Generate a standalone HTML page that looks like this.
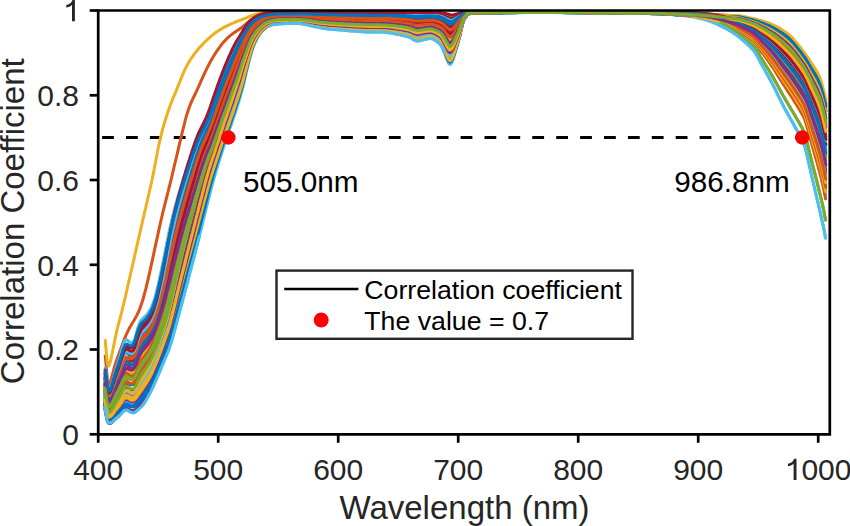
<!DOCTYPE html>
<html><head><meta charset="utf-8"><style>
html,body{margin:0;padding:0;background:#fff;}
svg{display:block;font-family:"Liberation Sans",sans-serif;}
</style></head><body>
<svg width="850" height="526" viewBox="0 0 850 526">
<rect width="850" height="526" fill="#fff"/>
<line x1="99.7" y1="137.5" x2="826.0" y2="137.5" stroke="#000" stroke-width="3" stroke-dasharray="11.8 12.1" stroke-dashoffset="-2.4"/>
<g fill="none" stroke-width="3" stroke-linejoin="round" stroke-linecap="round">
<path d="M105.0,384.7 105.9,390.2 106.8,396.5 107.7,401.1 108.6,403.3 109.5,403.6 110.4,402.8 111.3,401.3 112.2,399.5 113.1,397.5 114.1,395.3 115.0,393.2 115.9,391.1 116.8,389.2 117.7,387.5 118.6,385.7 119.5,383.8 120.4,381.8 121.4,379.7 122.3,377.6 123.2,375.7 124.1,374.0 125.0,372.8 125.9,372.1 126.8,372.0 127.8,372.4 128.7,373.0 129.6,373.6 130.5,374.0 131.4,374.3 132.3,374.3 133.3,373.9 134.2,373.0 135.1,371.8 136.0,370.1 136.9,367.9 137.8,365.7 138.8,363.7 139.7,361.9 140.6,360.3 142.7,356.9 145.0,354.0 147.2,351.1 149.1,348.1 150.9,344.9 152.5,341.6 153.9,338.2 155.2,334.8 156.4,331.3 157.6,327.8 158.7,324.4 159.8,320.9 160.8,317.4 161.9,313.9 162.9,310.4 163.9,306.9 164.8,303.3 165.7,299.8 166.5,296.2 167.3,292.7 168.1,289.1 168.9,285.5 169.7,282.0 170.5,278.4 171.3,274.8 172.0,271.3 172.8,267.7 173.6,264.2 174.4,260.6 175.2,257.0 176.0,253.5 176.8,249.9 177.6,246.4 178.5,242.8 179.3,239.3 180.2,235.7 181.0,232.2 181.9,228.7 182.8,225.1 183.7,221.6 184.6,218.1 185.6,214.6 186.5,211.1 187.5,207.6 188.4,204.1 189.4,200.6 190.3,197.1 191.3,193.6 192.2,190.1 193.2,186.6 194.2,183.1 195.2,179.6 196.2,176.1 197.2,172.7 198.2,169.2 199.2,165.7 200.3,162.3 201.4,158.8 202.5,155.4 203.7,152.0 205.0,148.6 206.3,145.3 207.7,142.0 209.1,138.7 210.4,135.3 211.7,132.0 212.9,128.6 214.1,125.1 215.2,121.7 216.4,118.3 217.5,114.9 218.6,111.5 219.8,108.0 221.0,104.6 222.2,101.3 223.4,97.9 224.6,94.5 225.8,91.1 227.0,87.7 228.2,84.3 229.4,80.9 230.7,77.6 232.0,74.2 233.2,70.9 234.5,67.5 235.7,64.2 237.0,60.8 238.3,57.5 239.6,54.3 241.0,51.0 242.5,47.9 244.0,44.6 245.4,41.4 246.9,38.2 248.4,35.1 250.2,32.1 252.2,29.2 254.4,26.6 256.9,24.2 259.6,22.1 262.5,20.4 265.6,19.0 268.8,18.0 272.3,17.3 275.8,16.8 279.3,16.6 282.9,16.5 286.4,16.5 290.0,16.5 293.2,16.4 296.3,16.4 299.5,16.5 302.7,16.7 305.9,16.9 309.0,17.1 312.2,17.4 315.4,17.7 318.5,17.9 321.7,18.1 324.9,18.3 328.0,18.5 331.2,18.6 334.4,18.7 337.6,18.8 340.7,18.9 343.9,19.0 347.1,19.1 350.2,19.2 353.4,19.3 356.6,19.4 359.8,19.5 362.9,19.5 366.1,19.6 369.3,19.6 372.4,19.6 375.6,19.6 378.8,19.6 381.9,19.7 385.1,19.7 388.3,19.8 391.5,20.0 394.6,20.2 397.8,20.4 401.0,20.7 404.1,21.0 407.3,21.3 410.5,21.7 413.6,22.4 416.8,22.9 420.0,22.8 423.2,22.5 426.3,22.2 429.5,22.0 430.6,22.0 431.7,22.1 432.7,22.2 433.8,22.4 434.9,22.6 436.0,22.9 437.1,23.2 438.1,23.5 439.2,23.9 440.3,24.3 441.4,24.9 442.5,25.7 443.5,26.8 444.6,28.0 445.7,29.2 446.8,30.4 447.9,31.5 448.9,32.4 450.0,32.9 451.1,32.8 452.2,32.1 453.2,31.2 454.3,29.7 455.4,28.1 456.5,26.6 457.6,25.2 458.6,23.6 459.7,21.8 460.8,19.8 461.9,18.0 463.0,16.3 464.0,15.2 465.1,14.5 466.2,14.0 467.3,12.8 468.4,13.0 469.4,13.0 470.5,12.7 471.6,12.7 472.7,12.7 473.8,12.6 474.8,12.6 475.9,12.6 477.0,12.6 480.4,12.6 483.9,12.6 487.3,12.6 490.8,12.5 494.2,12.5 497.6,12.5 501.1,12.5 504.5,12.5 508.0,12.5 511.4,12.5 514.8,12.4 518.3,12.4 521.7,12.4 525.2,12.4 528.6,12.4 532.1,12.4 535.5,12.4 538.9,12.4 542.4,12.4 545.8,12.4 549.3,12.4 552.7,12.4 556.1,12.4 559.6,12.4 563.0,12.4 566.5,12.4 569.9,12.4 573.3,12.4 576.8,12.4 580.2,12.4 583.7,12.4 587.1,12.4 590.5,12.5 594.0,12.5 597.4,12.5 600.9,12.5 604.3,12.5 607.7,12.5 611.2,12.5 614.6,12.5 618.1,12.5 621.5,12.5 624.9,12.6 628.4,12.6 631.8,12.6 635.3,12.6 638.7,12.6 642.2,12.7 645.6,12.7 649.0,12.7 652.5,12.8 655.9,12.8 659.4,12.9 662.8,13.0 666.2,13.0 669.7,13.1 673.1,13.2 676.6,13.3 680.0,13.5 681.6,13.6 683.3,13.7 684.9,13.8 686.6,14.0 688.2,14.2 689.8,14.3 691.5,14.5 693.1,14.7 694.7,14.9 696.4,15.1 698.0,15.4 699.6,15.7 701.3,16.0 702.9,16.3 704.6,16.7 706.2,17.1 707.8,17.6 709.5,18.0 711.1,18.6 712.7,19.1 714.4,19.7 716.0,20.4 717.6,21.1 719.3,21.8 720.9,22.5 722.5,23.3 724.2,24.1 725.8,24.9 727.4,25.9 729.1,26.8 730.7,27.9 732.3,29.0 734.0,30.2 735.6,31.5 737.2,32.8 738.9,34.1 740.5,35.3 742.2,36.5 743.8,37.7 745.4,39.0 747.1,40.4 748.7,41.7 750.3,43.1 752.0,44.6 753.6,46.3 755.2,48.2 756.9,50.5 758.5,53.3 760.1,56.3 761.8,59.0 763.4,61.5 765.0,64.1 766.7,66.7 768.3,69.3 770.0,72.0 771.6,74.8 773.2,77.6 774.9,80.5 776.5,83.4 778.1,86.5 779.8,89.5 781.4,92.5 783.0,95.4 784.7,98.3 786.3,101.0 787.9,103.8 789.6,106.5 791.2,109.2 792.9,111.9 794.5,114.7 796.1,117.5 797.8,120.3 799.4,123.1 801.0,126.1 802.7,129.0 804.3,132.6 805.9,138.0 807.6,144.4 809.2,151.1 810.8,157.7 812.5,164.2 814.1,170.6 815.8,177.0 817.4,183.6 819.0,190.2 820.7,196.9 822.3,203.9 823.9,211.3 825.6,220.1" stroke="#77AC30"/>
<path d="M105.2,356.0 105.8,361.2 106.3,367.2 106.8,373.1 107.3,378.4 108.0,382.2 108.8,384.0 109.7,383.3 110.8,380.6 111.9,376.6 113.2,371.7 114.5,366.7 116.0,362.0 117.6,357.6 119.2,353.0 121.0,348.2 122.8,343.2 124.8,338.1 127.0,333.0 129.3,328.3 131.8,324.0 134.4,319.7 137.2,314.6 140.0,308.3 142.8,300.0 145.8,288.9 149.0,275.3 152.3,260.4 155.5,245.4 158.5,231.6 161.1,220.0 163.2,211.0 165.0,203.8 166.6,197.6 168.0,192.0 169.4,186.3 171.0,180.0 172.7,172.9 174.4,165.5 176.2,158.1 177.9,150.8 179.5,143.9 181.0,137.7 182.3,132.2 183.6,127.2 184.7,122.5 185.8,118.2 187.0,114.1 188.3,110.0 189.7,106.1 191.2,102.4 192.8,98.9 194.4,95.5 196.1,92.1 197.7,88.5 199.4,84.8 201.1,80.9 202.8,77.1 204.5,73.3 206.3,69.6 208.0,66.2 209.7,63.0 211.4,59.9 213.1,57.0 214.8,54.2 216.5,51.6 218.2,49.1 219.9,46.8 221.5,44.6 223.2,42.6 224.9,40.7 226.6,38.9 228.5,37.1 230.5,35.4 232.6,33.8 234.8,32.3 237.0,30.8 239.2,29.3 241.3,27.8 243.3,26.2 245.2,24.6 247.1,23.0 249.0,21.4 250.8,20.0 252.7,18.7 254.5,17.6 256.3,16.7 258.1,15.9 259.9,15.3 261.8,14.6 264.0,14.1 266.5,13.6 269.2,13.3 272.1,13.0 274.9,12.7 277.6,12.6 280.0,12.4 282.0,12.3 283.8,12.3 285.4,12.3 286.9,12.3 288.4,12.4 290.0,12.4" stroke="#D95319"/>
<path d="M104.6,406.9 105.6,411.8 106.6,417.3 107.5,420.9 108.5,422.7 109.5,423.1 110.5,422.9 111.4,422.4 112.4,421.6 113.4,420.7 114.4,419.8 115.4,418.9 116.3,418.1 117.3,417.3 118.3,416.6 119.3,415.7 120.2,414.7 121.2,413.7 122.2,412.6 123.2,411.5 124.2,410.7 125.1,410.1 126.1,409.9 127.1,410.0 128.1,410.5 129.1,411.1 130.0,411.8 131.0,412.3 132.0,412.6 133.0,412.8 134.0,412.7 134.9,412.3 135.9,411.6 136.9,410.7 137.9,409.8 138.9,408.9 139.9,408.0 140.8,407.2 141.8,406.2 142.8,405.1 145.0,401.8 147.0,398.5 148.9,395.1 150.7,391.6 152.4,388.1 154.0,384.6 155.6,381.0 157.1,377.5 158.7,373.9 160.2,370.3 161.7,366.7 163.2,363.2 164.7,359.5 166.2,356.0 167.7,352.4 169.1,348.7 170.3,345.1 171.5,341.3 172.6,337.6 173.6,333.9 174.7,330.1 175.7,326.4 176.7,322.6 177.7,318.9 178.7,315.1 179.7,311.3 180.7,307.6 181.7,303.8 182.7,300.1 183.7,296.3 184.7,292.6 185.7,288.8 186.7,285.0 187.7,281.3 188.6,277.5 189.6,273.7 190.6,270.0 191.6,266.2 192.6,262.5 193.6,258.7 194.6,254.9 195.5,251.2 196.5,247.4 197.5,243.6 198.4,239.9 199.4,236.1 200.3,232.3 201.3,228.6 202.2,224.8 203.1,221.0 204.0,217.2 205.0,213.4 205.9,209.7 206.8,205.9 207.8,202.1 208.7,198.3 209.7,194.6 210.6,190.8 211.6,187.0 212.6,183.3 213.6,179.5 214.7,175.8 215.8,172.1 216.9,168.3 218.0,164.6 219.2,160.9 220.4,157.2 221.5,153.5 222.7,149.8 224.0,146.1 225.2,142.4 226.4,138.7 227.6,135.0 228.8,131.3 230.2,127.7 231.5,124.0 232.7,120.3 233.9,116.6 235.2,112.9 236.4,109.3 237.5,105.5 238.7,101.8 239.8,98.1 240.9,94.4 242.0,90.6 243.0,86.9 243.9,83.1 244.8,79.3 245.6,75.5 246.5,71.7 247.5,68.0 248.4,64.2 249.3,60.4 250.3,56.6 251.3,52.9 252.5,49.2 253.8,45.5 255.4,42.0 257.1,38.5 259.1,35.2 261.4,32.0 264.1,29.2 267.2,26.8 270.7,25.3 274.5,24.4 278.3,23.9 282.2,23.7 286.1,23.6 290.0,23.5 293.2,23.4 296.3,23.4 299.5,23.6 302.7,24.0 305.9,24.6 309.0,25.3 312.2,26.0 315.4,26.7 318.5,27.4 321.7,28.0 324.9,28.5 328.0,28.9 331.2,29.2 334.4,29.5 337.6,29.8 340.7,30.1 343.9,30.3 347.1,30.6 350.2,30.9 353.4,31.1 356.6,31.4 359.8,31.6 362.9,31.8 366.1,32.0 369.3,32.1 372.4,32.1 375.6,32.1 378.8,32.1 381.9,32.1 385.1,32.3 388.3,32.7 391.5,33.1 394.6,33.7 397.8,34.3 401.0,35.0 404.1,35.7 407.3,36.5 410.5,37.6 413.6,39.8 416.8,41.0 420.0,40.7 423.2,39.9 426.3,39.0 429.5,38.5 430.6,38.6 431.7,38.7 432.7,39.0 433.8,39.6 434.9,40.2 436.0,41.0 437.1,41.7 438.1,42.4 439.2,43.3 440.3,44.5 441.4,46.0 442.5,47.9 443.5,50.4 444.6,53.2 445.7,56.2 446.8,59.1 447.9,61.8 448.9,63.7 450.0,64.4 451.1,63.7 452.2,61.6 453.2,59.2 454.3,55.8 455.4,52.0 456.5,48.4 457.6,45.0 458.6,41.3 459.7,37.0 460.8,32.0 461.9,27.3 463.0,22.7 464.0,19.9 465.1,18.1 466.2,16.7 467.3,13.5 468.4,14.0 469.4,14.0 470.5,13.1 471.6,13.1 472.7,13.1 473.8,13.1 474.8,13.0 475.9,13.0 477.0,13.0 480.4,13.0 483.9,12.9 487.3,12.9 490.8,12.8 494.2,12.8 497.6,12.8 501.1,12.8 504.5,12.7 508.0,12.7 511.4,12.7 514.8,12.7 518.3,12.7 521.7,12.7 525.2,12.6 528.6,12.6 532.1,12.6 535.5,12.6 538.9,12.6 542.4,12.6 545.8,12.6 549.3,12.6 552.7,12.6 556.1,12.6 559.6,12.7 563.0,12.7 566.5,12.7 569.9,12.7 573.3,12.7 576.8,12.8 580.2,12.8 583.7,12.8 587.1,12.9 590.5,12.9 594.0,12.9 597.4,13.0 600.9,13.0 604.3,13.0 607.7,13.0 611.2,13.1 614.6,13.1 618.1,13.1 621.5,13.2 624.9,13.2 628.4,13.2 631.8,13.3 635.3,13.3 638.7,13.4 642.2,13.5 645.6,13.5 649.0,13.6 652.5,13.7 655.9,13.9 659.4,14.0 662.8,14.1 666.2,14.3 669.7,14.5 673.1,14.7 676.6,15.0 680.0,15.3 681.6,15.5 683.3,15.7 684.9,15.8 686.5,16.1 688.2,16.3 689.8,16.5 691.4,16.8 693.1,17.0 694.7,17.3 696.3,17.6 698.0,18.0 699.6,18.3 701.3,18.7 702.9,19.1 704.5,19.6 706.2,20.1 707.8,20.6 709.4,21.2 711.1,21.8 712.7,22.4 714.3,23.1 716.0,23.8 717.6,24.5 719.2,25.3 720.9,26.0 722.5,26.8 724.1,27.6 725.8,28.3 727.4,29.2 729.0,30.1 730.7,31.1 732.3,32.2 733.9,33.2 735.6,34.4 737.2,35.6 738.9,36.8 740.5,38.1 742.1,39.5 743.8,40.9 745.4,42.3 747.0,43.8 748.7,45.3 750.3,46.9 751.9,48.6 753.6,50.4 755.2,52.6 756.8,55.2 758.5,58.3 760.1,61.7 761.7,64.7 763.4,67.5 765.0,70.4 766.6,73.3 768.3,76.3 769.9,79.3 771.6,82.3 773.2,85.4 774.8,88.6 776.5,91.9 778.1,95.3 779.7,98.6 781.4,101.9 783.0,105.1 784.6,108.2 786.3,111.2 787.9,114.2 789.5,117.1 791.2,120.0 792.8,122.8 794.4,125.7 796.1,128.7 797.7,131.6 799.3,134.5 801.0,137.7 802.6,140.7 804.2,144.5 805.9,150.3 807.5,157.3 809.2,164.6 810.8,171.9 812.4,179.0 814.1,186.0 815.7,193.0 817.3,200.0 819.0,207.1 820.6,214.2 822.2,221.4 823.9,228.9 825.5,238.0" stroke="#4DBEEE"/>
<path d="M105.2,340.5 105.7,345.5 106.2,351.3 106.7,357.1 107.3,362.1 107.9,365.3 108.8,366.0 109.9,363.5 111.2,358.3 112.6,351.5 114.1,343.8 115.6,336.4 117.0,330.0 118.2,325.2 119.2,321.4 120.2,317.8 121.3,313.5 122.7,307.8 124.6,300.0 127.1,289.1 130.2,275.6 133.6,260.6 137.0,245.6 140.2,231.6 142.8,220.0 144.9,211.0 146.6,203.8 148.0,197.6 149.3,192.0 150.6,186.3 152.0,180.0 153.5,172.9 154.9,165.5 156.3,158.1 157.7,150.8 159.1,143.9 160.5,137.7 161.9,132.2 163.2,127.2 164.6,122.5 165.9,118.2 167.2,114.1 168.6,110.0 170.0,106.0 171.4,102.3 172.8,98.8 174.2,95.4 175.7,92.0 177.1,88.5 178.5,84.9 180.0,81.3 181.4,77.7 182.8,74.2 184.3,70.9 185.7,67.9 187.1,65.2 188.5,62.8 189.8,60.5 191.2,58.4 192.7,56.3 194.2,54.2 195.8,52.1 197.4,50.0 199.1,48.0 200.9,46.1 202.7,44.2 204.5,42.3 206.4,40.5 208.4,38.6 210.4,36.8 212.4,35.1 214.5,33.5 216.5,32.0 218.5,30.6 220.5,29.4 222.5,28.2 224.4,27.2 226.5,26.1 228.5,25.1 230.6,24.1 232.6,23.2 234.7,22.4 236.8,21.5 239.0,20.7 241.3,19.8 243.7,18.8 246.3,17.8 248.9,16.7 251.6,15.7 254.4,14.8 257.2,14.1 260.1,13.6 263.1,13.2 266.2,12.9 269.2,12.7 272.2,12.5 275.0,12.4 277.7,12.3 280.2,12.3 282.7,12.3 285.1,12.3 287.5,12.4 290.0,12.4" stroke="#EDB120"/>
<path d="M105.1,374.4 106.0,380.2 106.9,387.0 107.7,392.0 108.6,394.3 109.5,394.5 110.4,393.4 111.3,391.5 112.1,389.2 113.0,386.6 113.9,384.0 114.8,381.2 115.7,378.6 116.6,376.1 117.4,373.8 118.3,371.6 119.2,369.2 120.1,366.6 121.0,363.9 121.9,361.1 122.7,358.4 123.6,355.9 124.5,354.0 125.4,352.8 126.3,352.5 127.2,352.8 128.0,353.6 128.9,354.5 129.8,355.3 130.7,356.0 131.6,356.4 132.5,356.4 133.3,355.8 134.2,354.6 135.1,352.8 136.0,350.1 136.9,347.1 137.8,344.4 138.7,341.9 139.6,339.8 141.7,335.7 144.0,333.2 146.3,330.7 148.4,327.9 150.2,325.0 151.8,321.9 153.1,318.8 154.3,315.5 155.4,312.3 156.4,309.0 157.4,305.7 158.3,302.4 159.2,299.0 160.0,295.7 160.9,292.4 161.7,289.0 162.5,285.7 163.3,282.3 164.0,279.0 164.7,275.6 165.5,272.2 166.2,268.9 166.9,265.5 167.6,262.1 168.3,258.7 169.0,255.4 169.7,252.0 170.4,248.6 171.2,245.2 171.9,241.9 172.6,238.5 173.4,235.1 174.2,231.8 175.0,228.4 175.8,225.1 176.7,221.7 177.5,218.4 178.4,215.0 179.3,211.7 180.2,208.3 181.1,205.0 182.1,201.7 183.0,198.4 184.0,195.0 185.0,191.7 185.9,188.4 186.9,185.1 187.9,181.8 188.9,178.5 189.9,175.2 190.9,171.9 192.0,168.6 193.0,165.3 194.1,162.0 195.1,158.7 196.2,155.4 197.3,152.1 198.5,148.9 199.7,145.6 201.0,142.4 202.3,139.2 203.8,136.1 205.3,133.0 206.8,129.9 208.2,126.7 209.5,123.5 210.7,120.3 211.9,117.0 213.1,113.8 214.2,110.5 215.4,107.2 216.5,103.9 217.6,100.7 218.8,97.4 220.1,94.2 221.2,90.9 222.4,87.7 223.6,84.4 224.9,81.2 226.1,77.9 227.4,74.7 228.7,71.5 230.0,68.3 231.3,65.1 232.6,61.9 234.0,58.7 235.3,55.5 236.7,52.3 238.1,49.2 239.7,46.1 241.3,43.0 242.9,40.0 244.4,36.9 246.0,33.8 247.7,30.8 249.7,28.0 251.8,25.3 254.2,22.9 256.9,20.8 259.7,19.0 262.7,17.6 265.9,16.6 269.2,15.9 272.6,15.3 276.1,15.0 279.6,14.8 283.0,14.8 286.5,14.8 290.0,14.8 293.2,14.8 296.3,14.8 299.5,14.8 302.7,14.9 305.9,15.0 309.0,15.2 312.2,15.3 315.4,15.5 318.5,15.6 321.7,15.8 324.9,15.9 328.0,16.0 331.2,16.0 334.4,16.1 337.6,16.2 340.7,16.2 343.9,16.3 347.1,16.3 350.2,16.4 353.4,16.4 356.6,16.5 359.8,16.5 362.9,16.6 366.1,16.6 369.3,16.6 372.4,16.7 375.6,16.6 378.8,16.6 381.9,16.7 385.1,16.7 388.3,16.8 391.5,16.9 394.6,17.0 397.8,17.1 401.0,17.3 404.1,17.4 407.3,17.6 410.5,17.8 413.6,18.3 416.8,18.6 420.0,18.5 423.2,18.3 426.3,18.1 429.5,18.0 430.6,18.0 431.7,18.1 432.7,18.2 433.8,18.3 434.9,18.4 436.0,18.6 437.1,18.7 438.1,18.9 439.2,19.2 440.3,19.5 441.4,19.9 442.5,20.4 443.5,21.1 444.6,21.9 445.7,22.7 446.8,23.5 447.9,24.3 448.9,25.0 450.0,25.4 451.1,25.4 452.2,25.1 453.2,24.4 454.3,23.5 455.4,22.4 456.5,21.4 457.6,20.4 458.6,19.4 459.7,18.2 460.8,16.9 461.9,15.8 463.0,14.7 464.0,14.1 465.1,13.7 466.2,13.4 467.3,12.6 468.4,12.8 469.4,12.7 470.5,12.6 471.6,12.6 472.7,12.5 473.8,12.5 474.8,12.5 475.9,12.5 477.0,12.5 480.4,12.5 483.9,12.5 487.3,12.5 490.8,12.5 494.2,12.5 497.6,12.4 501.1,12.4 504.5,12.4 508.0,12.4 511.4,12.4 514.8,12.4 518.3,12.4 521.7,12.4 525.2,12.4 528.6,12.4 532.1,12.3 535.5,12.3 538.9,12.3 542.4,12.3 545.8,12.3 549.3,12.3 552.7,12.3 556.1,12.3 559.6,12.3 563.0,12.3 566.5,12.3 569.9,12.3 573.3,12.3 576.8,12.3 580.2,12.3 583.7,12.3 587.1,12.3 590.5,12.3 594.0,12.4 597.4,12.4 600.9,12.4 604.3,12.4 607.7,12.4 611.2,12.4 614.6,12.4 618.1,12.4 621.5,12.4 624.9,12.4 628.4,12.4 631.8,12.4 635.3,12.4 638.7,12.5 642.2,12.5 645.6,12.5 649.0,12.5 652.5,12.5 655.9,12.6 659.4,12.6 662.8,12.7 666.2,12.7 669.7,12.8 673.1,12.8 676.6,12.9 680.0,13.0 681.6,13.1 683.3,13.2 684.9,13.3 686.6,13.4 688.2,13.5 689.8,13.6 691.5,13.7 693.1,13.8 694.7,14.0 696.4,14.1 698.0,14.3 699.7,14.5 701.3,14.7 702.9,14.9 704.6,15.1 706.2,15.4 707.9,15.7 709.5,16.0 711.1,16.4 712.8,16.7 714.4,17.2 716.0,17.6 717.7,18.1 719.3,18.6 720.9,19.1 722.6,19.6 724.2,20.2 725.9,20.7 727.5,21.4 729.1,22.1 730.8,22.8 732.4,23.6 734.0,24.4 735.7,25.3 737.3,26.2 738.9,27.1 740.6,27.9 742.2,28.8 743.9,29.7 745.5,30.6 747.1,31.5 748.8,32.5 750.4,33.5 752.0,34.6 753.7,35.7 755.3,37.1 757.0,38.7 758.6,40.5 760.2,42.5 761.9,44.4 763.5,46.2 765.1,47.9 766.8,49.8 768.4,51.6 770.1,53.5 771.7,55.5 773.3,57.5 775.0,59.6 776.6,61.7 778.2,64.0 779.9,66.2 781.5,68.4 783.2,70.6 784.8,72.8 786.4,75.0 788.1,77.1 789.7,79.4 791.3,81.7 793.0,84.0 794.6,86.4 796.3,88.9 797.9,91.4 799.5,93.9 801.2,96.6 802.8,99.2 804.4,102.3 806.1,106.5 807.7,111.3 809.4,116.4 811.0,121.5 812.6,126.4 814.3,131.4 815.9,136.3 817.5,141.4 819.2,146.8 820.8,152.7 822.5,159.2 824.1,166.4 825.7,174.2" stroke="#0072BD"/>
<path d="M105.1,376.2 106.0,381.9 106.8,388.6 107.7,393.5 108.6,395.8 109.5,396.0 110.4,395.0 111.3,393.1 112.2,390.9 113.0,388.4 113.9,385.8 114.8,383.1 115.7,380.6 116.6,378.2 117.5,376.0 118.4,374.0 119.3,371.8 120.1,369.6 121.0,367.3 121.9,365.0 122.8,362.7 123.7,360.7 124.6,359.0 125.5,357.8 126.3,357.2 127.2,357.1 128.1,357.3 129.0,357.5 129.9,357.5 130.8,357.4 131.7,357.2 132.6,356.6 133.4,355.7 134.3,354.4 135.2,352.7 136.1,350.3 137.0,347.7 137.9,345.4 138.8,343.3 139.7,341.5 141.8,338.0 144.1,335.5 146.4,333.0 148.5,330.3 150.3,327.4 151.9,324.3 153.2,321.2 154.4,317.9 155.5,314.7 156.6,311.4 157.6,308.2 158.5,304.9 159.4,301.6 160.3,298.3 161.2,295.0 162.0,291.6 162.9,288.3 163.6,285.0 164.4,281.6 165.1,278.3 165.9,274.9 166.6,271.6 167.3,268.2 168.1,264.8 168.8,261.5 169.5,258.1 170.3,254.8 171.0,251.4 171.7,248.0 172.5,244.7 173.3,241.3 174.1,238.0 174.9,234.6 175.7,231.3 176.5,227.9 177.4,224.6 178.2,221.2 179.1,217.9 180.0,214.5 180.9,211.2 181.9,207.9 182.8,204.6 183.8,201.3 184.8,197.9 185.8,194.6 186.8,191.3 187.7,188.0 188.7,184.7 189.7,181.4 190.7,178.1 191.8,174.8 192.8,171.4 193.8,168.1 194.9,164.8 196.0,161.5 197.0,158.3 198.2,155.0 199.3,151.7 200.5,148.4 201.8,145.2 203.1,142.0 204.6,138.9 206.1,135.8 207.5,132.6 208.9,129.5 210.2,126.2 211.4,123.0 212.6,119.7 213.8,116.4 215.0,113.2 216.1,109.9 217.3,106.6 218.4,103.3 219.6,100.0 220.8,96.8 222.0,93.5 223.2,90.2 224.5,87.0 225.7,83.7 226.9,80.5 228.2,77.2 229.5,74.0 230.8,70.7 232.1,67.5 233.4,64.3 234.7,61.1 236.1,57.8 237.4,54.6 238.8,51.4 240.3,48.3 241.8,45.2 243.4,42.0 244.9,38.9 246.4,35.8 248.1,32.7 249.9,29.8 252.0,27.0 254.3,24.5 256.9,22.3 259.7,20.4 262.6,18.8 265.8,17.7 269.1,16.8 272.5,16.2 275.9,15.8 279.5,15.6 283.0,15.6 286.5,15.6 290.0,15.5 293.2,15.5 296.3,15.5 299.5,15.6 302.7,15.7 305.9,15.8 309.0,16.0 312.2,16.2 315.4,16.4 318.5,16.6 321.7,16.8 324.9,16.9 328.0,17.1 331.2,17.2 334.4,17.2 337.6,17.3 340.7,17.4 343.9,17.5 347.1,17.5 350.2,17.6 353.4,17.7 356.6,17.8 359.8,17.8 362.9,17.9 366.1,17.9 369.3,18.0 372.4,18.0 375.6,18.0 378.8,18.0 381.9,18.0 385.1,18.0 388.3,18.1 391.5,18.3 394.6,18.4 397.8,18.6 401.0,18.8 404.1,19.0 407.3,19.2 410.5,19.5 413.6,20.1 416.8,20.5 420.0,20.4 423.2,20.2 426.3,19.9 429.5,19.8 430.6,19.8 431.7,19.8 432.7,19.9 433.8,20.1 434.9,20.3 436.0,20.5 437.1,20.7 438.1,20.9 439.2,21.2 440.3,21.6 441.4,22.1 442.5,22.8 443.5,23.6 444.6,24.6 445.7,25.6 446.8,26.6 447.9,27.5 448.9,28.3 450.0,28.7 451.1,28.7 452.2,28.2 453.2,27.4 454.3,26.3 455.4,24.9 456.5,23.7 457.6,22.5 458.6,21.2 459.7,19.8 460.8,18.2 461.9,16.8 463.0,15.4 464.0,14.6 465.1,14.0 466.2,13.6 467.3,12.7 468.4,12.9 469.4,12.9 470.5,12.6 471.6,12.6 472.7,12.6 473.8,12.6 474.8,12.6 475.9,12.6 477.0,12.6 480.4,12.6 483.9,12.5 487.3,12.5 490.8,12.5 494.2,12.5 497.6,12.5 501.1,12.5 504.5,12.4 508.0,12.4 511.4,12.4 514.8,12.4 518.3,12.4 521.7,12.4 525.2,12.4 528.6,12.4 532.1,12.4 535.5,12.4 538.9,12.4 542.4,12.4 545.8,12.3 549.3,12.3 552.7,12.3 556.1,12.3 559.6,12.3 563.0,12.3 566.5,12.3 569.9,12.3 573.3,12.4 576.8,12.4 580.2,12.4 583.7,12.4 587.1,12.4 590.5,12.4 594.0,12.4 597.4,12.4 600.9,12.4 604.3,12.4 607.7,12.4 611.2,12.4 614.6,12.4 618.1,12.4 621.5,12.5 624.9,12.5 628.4,12.5 631.8,12.5 635.3,12.5 638.7,12.5 642.2,12.6 645.6,12.6 649.0,12.6 652.5,12.6 655.9,12.7 659.4,12.7 662.8,12.8 666.2,12.9 669.7,12.9 673.1,13.0 676.6,13.1 680.0,13.2 681.6,13.3 683.3,13.3 684.9,13.3 686.6,13.4 688.2,13.4 689.8,13.5 691.5,13.5 693.1,13.6 694.8,13.6 696.4,13.7 698.0,13.7 699.7,13.7 701.3,13.8 703.0,13.9 704.6,13.9 706.2,14.0 707.9,14.1 709.5,14.1 711.2,14.2 712.8,14.3 714.4,14.4 716.1,14.5 717.7,14.6 719.4,14.7 721.0,14.9 722.6,15.0 724.3,15.1 725.9,15.2 727.6,15.3 729.2,15.5 730.8,15.6 732.5,15.7 734.1,15.9 735.8,16.0 737.4,16.1 739.1,16.3 740.7,16.6 742.3,16.9 744.0,17.3 745.6,17.6 747.3,18.0 748.9,18.3 750.5,18.7 752.2,19.1 753.8,19.5 755.5,20.0 757.1,20.4 758.7,20.9 760.4,21.4 762.0,22.0 763.7,22.6 765.3,23.1 766.9,23.8 768.6,24.4 770.2,25.1 771.9,25.9 773.5,26.7 775.1,27.5 776.8,28.4 778.4,29.4 780.1,30.4 781.7,31.4 783.3,32.5 785.0,33.7 786.6,34.9 788.3,36.3 789.9,37.7 791.5,39.4 793.2,41.1 794.8,43.0 796.5,45.0 798.1,47.1 799.7,49.1 801.4,51.2 803.0,53.4 804.7,55.7 806.3,58.1 807.9,60.6 809.6,63.2 811.2,65.8 812.9,68.5 814.5,71.1 816.1,73.7 817.8,76.7 819.4,80.2 821.1,84.8 822.7,90.6 824.3,97.3 826.0,103.8" stroke="#D95319"/>
<path d="M104.9,385.1 105.9,390.6 106.8,396.9 107.7,401.4 108.6,403.5 109.5,403.8 110.4,403.0 111.3,401.5 112.2,399.6 113.1,397.6 114.1,395.4 115.0,393.2 115.9,391.1 116.8,389.2 117.7,387.4 118.6,385.7 119.5,383.8 120.4,381.9 121.4,379.9 122.3,378.0 123.2,376.1 124.1,374.5 125.0,373.2 125.9,372.4 126.8,372.1 127.7,372.1 128.6,372.4 129.6,372.6 130.5,372.7 131.4,372.6 132.3,372.3 133.2,371.8 134.1,370.8 135.0,369.5 135.9,367.8 136.9,365.7 137.8,363.6 138.7,361.6 139.6,359.9 140.5,358.2 142.6,355.0 144.9,352.3 147.1,349.6 149.1,346.7 150.9,343.7 152.4,340.5 153.8,337.3 155.2,334.0 156.4,330.7 157.6,327.4 158.7,324.0 159.8,320.7 160.8,317.3 161.9,314.0 163.0,310.6 164.0,307.3 164.9,303.9 165.8,300.4 166.6,297.0 167.5,293.6 168.3,290.1 169.1,286.7 169.9,283.3 170.7,279.8 171.5,276.4 172.4,272.9 173.2,269.5 174.0,266.0 174.8,262.6 175.6,259.1 176.5,255.7 177.3,252.2 178.2,248.8 179.1,245.4 179.9,241.9 180.8,238.5 181.7,235.0 182.7,231.6 183.6,228.2 184.5,224.7 185.5,221.3 186.5,217.9 187.4,214.5 188.4,211.0 189.4,207.6 190.4,204.2 191.4,200.8 192.3,197.3 193.3,193.9 194.3,190.5 195.3,187.1 196.3,183.6 197.3,180.2 198.4,176.8 199.4,173.4 200.5,170.0 201.5,166.6 202.6,163.2 203.8,159.8 205.0,156.4 206.2,153.1 207.6,149.8 208.9,146.5 210.3,143.2 211.6,139.9 212.9,136.6 214.1,133.2 215.3,129.8 216.5,126.4 217.7,123.0 218.8,119.6 220.0,116.2 221.2,112.9 222.4,109.5 223.7,106.1 224.9,102.7 226.1,99.4 227.3,96.0 228.6,92.6 229.8,89.2 231.1,85.9 232.3,82.5 233.6,79.1 234.8,75.8 236.1,72.4 237.3,69.0 238.5,65.6 239.7,62.2 240.9,58.8 242.2,55.5 243.6,52.2 244.9,48.9 246.2,45.5 247.6,42.2 249.1,38.9 250.7,35.8 252.6,32.7 254.6,29.9 256.9,27.3 259.5,24.9 262.3,22.9 265.2,21.2 268.5,19.9 271.9,19.0 275.5,18.4 279.1,18.2 282.7,18.1 286.4,18.0 290.0,18.0 293.2,17.9 296.3,17.9 299.5,18.1 302.7,18.3 305.9,18.5 309.0,18.9 312.2,19.2 315.4,19.6 318.5,19.9 321.7,20.3 324.9,20.5 328.0,20.7 331.2,20.9 334.4,21.0 337.6,21.2 340.7,21.3 343.9,21.4 347.1,21.6 350.2,21.7 353.4,21.8 356.6,22.0 359.8,22.1 362.9,22.2 366.1,22.3 369.3,22.3 372.4,22.3 375.6,22.3 378.8,22.3 381.9,22.3 385.1,22.4 388.3,22.6 391.5,22.8 394.6,23.1 397.8,23.4 401.0,23.8 404.1,24.1 407.3,24.6 410.5,25.1 413.6,26.2 416.8,26.8 420.0,26.7 423.2,26.2 426.3,25.8 429.5,25.6 430.6,25.6 431.7,25.7 432.7,25.8 433.8,26.1 434.9,26.4 436.0,26.8 437.1,27.2 438.1,27.6 439.2,28.1 440.3,28.7 441.4,29.5 442.5,30.5 443.5,31.9 444.6,33.4 445.7,35.0 446.8,36.6 447.9,38.1 448.9,39.2 450.0,39.7 451.1,39.5 452.2,38.5 453.2,37.2 454.3,35.4 455.4,33.3 456.5,31.3 457.6,29.4 458.6,27.4 459.7,25.1 460.8,22.5 461.9,20.0 463.0,17.7 464.0,16.2 465.1,15.3 466.2,14.6 467.3,12.9 468.4,13.2 469.4,13.2 470.5,12.8 471.6,12.8 472.7,12.7 473.8,12.7 474.8,12.7 475.9,12.7 477.0,12.7 480.4,12.7 483.9,12.7 487.3,12.6 490.8,12.6 494.2,12.6 497.6,12.6 501.1,12.6 504.5,12.5 508.0,12.5 511.4,12.5 514.8,12.5 518.3,12.5 521.7,12.5 525.2,12.5 528.6,12.5 532.1,12.4 535.5,12.4 538.9,12.4 542.4,12.4 545.8,12.4 549.3,12.4 552.7,12.4 556.1,12.4 559.6,12.4 563.0,12.4 566.5,12.5 569.9,12.5 573.3,12.5 576.8,12.5 580.2,12.5 583.7,12.5 587.1,12.5 590.5,12.6 594.0,12.6 597.4,12.6 600.9,12.6 604.3,12.6 607.7,12.6 611.2,12.6 614.6,12.6 618.1,12.7 621.5,12.7 624.9,12.7 628.4,12.7 631.8,12.7 635.3,12.8 638.7,12.8 642.2,12.8 645.6,12.9 649.0,12.9 652.5,13.0 655.9,13.1 659.4,13.1 662.8,13.2 666.2,13.3 669.7,13.4 673.1,13.5 676.6,13.7 680.0,13.9 681.6,13.9 683.3,14.0 684.9,14.0 686.6,14.1 688.2,14.1 689.8,14.2 691.5,14.2 693.1,14.3 694.7,14.4 696.4,14.4 698.0,14.5 699.7,14.5 701.3,14.6 702.9,14.7 704.6,14.7 706.2,14.8 707.9,14.9 709.5,14.9 711.1,15.0 712.8,15.1 714.4,15.2 716.1,15.2 717.7,15.3 719.3,15.4 721.0,15.4 722.6,15.5 724.3,15.5 725.9,15.6 727.6,15.6 729.2,15.6 730.8,15.7 732.5,15.7 734.1,15.7 735.8,15.7 737.4,15.7 739.1,15.8 740.7,16.0 742.3,16.3 744.0,16.6 745.6,16.9 747.3,17.2 748.9,17.6 750.5,17.9 752.2,18.3 753.8,18.6 755.5,19.0 757.1,19.4 758.7,19.9 760.4,20.3 762.0,20.8 763.7,21.3 765.3,21.8 766.9,22.4 768.6,23.0 770.2,23.6 771.9,24.3 773.5,25.0 775.1,25.8 776.8,26.6 778.4,27.5 780.1,28.4 781.7,29.4 783.3,30.5 785.0,31.6 786.6,32.8 788.3,34.1 789.9,35.5 791.6,37.1 793.2,38.8 794.8,40.7 796.5,42.7 798.1,44.7 799.8,46.7 801.4,48.8 803.0,50.9 804.7,53.1 806.3,55.5 808.0,57.9 809.6,60.3 811.2,62.8 812.9,65.4 814.5,67.8 816.2,70.4 817.8,73.2 819.4,76.6 821.1,81.1 822.7,86.9 824.4,93.6 826.0,100.0" stroke="#EDB120"/>
<path d="M104.7,399.4 105.7,404.4 106.6,410.1 107.6,414.0 108.5,415.9 109.5,416.2 110.5,415.7 111.4,414.8 112.4,413.5 113.3,412.2 114.3,410.7 115.2,409.3 116.2,407.9 117.1,406.6 118.1,405.3 119.0,403.9 120.0,402.4 120.9,400.7 121.9,399.0 122.8,397.3 123.8,395.8 124.7,394.6 125.7,393.9 126.6,393.8 127.6,394.1 128.5,394.8 129.5,395.6 130.4,396.3 131.4,396.8 132.3,397.0 133.3,396.9 134.2,396.3 135.2,395.4 136.1,394.0 137.0,392.4 138.0,390.6 138.9,388.9 139.9,387.4 140.8,385.9 141.8,384.4 144.0,381.0 146.1,377.8 148.1,374.5 150.0,371.2 151.7,367.7 153.3,364.2 154.8,360.6 156.2,357.0 157.6,353.4 158.9,349.8 160.3,346.2 161.6,342.6 162.8,339.0 164.1,335.3 165.3,331.7 166.5,328.0 167.6,324.3 168.6,320.6 169.6,316.9 170.5,313.2 171.4,309.4 172.3,305.7 173.1,301.9 174.0,298.2 174.9,294.5 175.8,290.7 176.6,287.0 177.5,283.3 178.4,279.5 179.3,275.8 180.1,272.1 181.0,268.3 181.9,264.6 182.8,260.9 183.7,257.2 184.6,253.4 185.5,249.7 186.4,246.0 187.3,242.3 188.2,238.6 189.2,234.9 190.1,231.2 191.0,227.5 192.0,223.8 192.9,220.1 193.8,216.5 194.8,212.8 195.7,209.1 196.6,205.4 197.6,201.7 198.5,198.0 199.4,194.4 200.4,190.7 201.3,187.0 202.3,183.4 203.3,179.7 204.3,176.1 205.3,172.4 206.3,168.8 207.5,165.2 208.6,161.6 209.8,158.0 211.1,154.5 212.3,151.0 213.6,147.4 214.8,143.9 215.9,140.3 217.1,136.7 218.3,133.1 219.4,129.5 220.6,126.0 221.7,122.4 222.9,118.8 224.1,115.3 225.4,111.7 226.6,108.2 227.8,104.6 229.0,101.1 230.2,97.5 231.4,94.0 232.6,90.4 233.8,86.9 235.0,83.4 236.2,79.8 237.3,76.3 238.5,72.7 239.6,69.2 240.7,65.7 241.9,62.2 243.1,58.8 244.4,55.4 245.6,52.0 246.9,48.5 248.1,45.1 249.5,41.8 251.0,38.5 252.8,35.3 254.8,32.4 257.0,29.6 259.4,27.0 262.1,24.8 265.0,22.8 268.2,21.3 271.7,20.3 275.3,19.6 279.0,19.3 282.6,19.2 286.3,19.2 290.0,19.1 293.2,19.1 296.3,19.0 299.5,19.2 302.7,19.4 305.9,19.8 309.0,20.2 312.2,20.6 315.4,21.0 318.5,21.5 321.7,21.8 324.9,22.1 328.0,22.4 331.2,22.6 334.4,22.8 337.6,22.9 340.7,23.1 343.9,23.2 347.1,23.4 350.2,23.6 353.4,23.7 356.6,23.9 359.8,24.0 362.9,24.2 366.1,24.3 369.3,24.3 372.4,24.3 375.6,24.3 378.8,24.3 381.9,24.3 385.1,24.4 388.3,24.7 391.5,24.9 394.6,25.3 397.8,25.6 401.0,26.0 404.1,26.5 407.3,27.0 410.5,27.6 413.6,28.9 416.8,29.7 420.0,29.5 423.2,29.0 426.3,28.5 429.5,28.2 430.6,28.2 431.7,28.3 432.7,28.5 433.8,28.8 434.9,29.2 436.0,29.7 437.1,30.1 438.1,30.6 439.2,31.2 440.3,31.9 441.4,32.8 442.5,34.1 443.5,35.6 444.6,37.4 445.7,39.3 446.8,41.2 447.9,42.9 448.9,44.2 450.0,44.7 451.1,44.4 452.2,43.2 453.2,41.7 454.3,39.5 455.4,37.1 456.5,34.8 457.6,32.6 458.6,30.2 459.7,27.5 460.8,24.4 461.9,21.5 463.0,18.7 464.0,17.0 465.1,15.9 466.2,15.0 467.3,13.1 468.4,13.4 469.4,13.4 470.5,12.8 471.6,12.8 472.7,12.8 473.8,12.8 474.8,12.8 475.9,12.8 477.0,12.8 480.4,12.7 483.9,12.7 487.3,12.7 490.8,12.7 494.2,12.6 497.6,12.6 501.1,12.6 504.5,12.6 508.0,12.6 511.4,12.5 514.8,12.5 518.3,12.5 521.7,12.5 525.2,12.5 528.6,12.5 532.1,12.5 535.5,12.5 538.9,12.5 542.4,12.5 545.8,12.5 549.3,12.5 552.7,12.5 556.1,12.5 559.6,12.5 563.0,12.5 566.5,12.5 569.9,12.5 573.3,12.5 576.8,12.5 580.2,12.6 583.7,12.6 587.1,12.6 590.5,12.6 594.0,12.6 597.4,12.7 600.9,12.7 604.3,12.7 607.7,12.7 611.2,12.7 614.6,12.7 618.1,12.7 621.5,12.8 624.9,12.8 628.4,12.8 631.8,12.8 635.3,12.9 638.7,12.9 642.2,13.0 645.6,13.0 649.0,13.1 652.5,13.1 655.9,13.2 659.4,13.3 662.8,13.4 666.2,13.5 669.7,13.6 673.1,13.8 676.6,14.0 680.0,14.2 681.6,14.3 683.3,14.4 684.9,14.5 686.5,14.6 688.2,14.8 689.8,14.9 691.5,15.1 693.1,15.3 694.7,15.4 696.4,15.6 698.0,15.8 699.6,16.1 701.3,16.3 702.9,16.6 704.6,16.9 706.2,17.2 707.8,17.5 709.5,17.9 711.1,18.3 712.7,18.7 714.4,19.2 716.0,19.6 717.7,20.1 719.3,20.6 720.9,21.1 722.6,21.6 724.2,22.2 725.8,22.7 727.5,23.3 729.1,23.9 730.7,24.6 732.4,25.3 734.0,26.1 735.7,26.9 737.3,27.7 738.9,28.5 740.6,29.4 742.2,30.4 743.8,31.3 745.5,32.3 747.1,33.4 748.8,34.4 750.4,35.5 752.0,36.6 753.7,37.9 755.3,39.4 756.9,41.1 758.6,43.2 760.2,45.4 761.9,47.4 763.5,49.3 765.1,51.3 766.8,53.3 768.4,55.3 770.0,57.4 771.7,59.5 773.3,61.7 774.9,63.9 776.6,66.2 778.2,68.6 779.9,71.0 781.5,73.4 783.1,75.8 784.8,78.1 786.4,80.4 788.0,82.7 789.7,85.0 791.3,87.4 793.0,89.8 794.6,92.3 796.2,94.8 797.9,97.4 799.5,100.0 801.1,102.7 802.8,105.3 804.4,108.6 806.1,113.0 807.7,118.2 809.3,123.6 811.0,129.0 812.6,134.3 814.2,139.5 815.9,144.7 817.5,150.1 819.1,155.8 820.8,161.8 822.4,168.5 824.1,175.7 825.7,183.7" stroke="#7E2F8E"/>
<path d="M105.2,371.1 106.0,376.9 106.9,383.9 107.8,389.0 108.6,391.4 109.5,391.5 110.4,390.3 111.2,388.3 112.1,385.8 113.0,383.0 113.9,380.1 114.7,377.2 115.6,374.4 116.5,371.7 117.3,369.3 118.2,367.1 119.1,364.7 120.0,362.3 120.8,359.9 121.7,357.4 122.6,355.0 123.4,352.7 124.3,350.8 125.2,349.4 126.1,348.5 126.9,348.2 127.8,348.2 128.7,348.3 129.5,348.2 130.4,348.0 131.3,347.7 132.2,347.1 133.0,346.2 133.9,344.9 134.8,343.1 135.7,340.6 136.5,337.8 137.4,335.4 138.3,333.2 139.1,331.2 141.2,327.6 143.7,325.3 146.0,323.0 148.1,320.5 150.0,317.7 151.5,314.8 152.9,311.8 154.0,308.7 155.1,305.6 156.0,302.5 156.9,299.3 157.8,296.1 158.6,292.9 159.4,289.7 160.2,286.5 161.0,283.3 161.8,280.1 162.5,276.9 163.2,273.7 163.9,270.4 164.7,267.2 165.4,264.0 166.1,260.7 166.8,257.5 167.5,254.3 168.2,251.0 168.9,247.8 169.6,244.5 170.3,241.3 171.1,238.0 171.8,234.8 172.6,231.6 173.4,228.3 174.2,225.1 175.1,221.9 175.9,218.6 176.8,215.4 177.6,212.2 178.5,208.9 179.5,205.7 180.4,202.5 181.4,199.3 182.4,196.1 183.4,192.9 184.4,189.7 185.4,186.5 186.4,183.3 187.4,180.1 188.4,176.8 189.5,173.6 190.5,170.4 191.6,167.2 192.6,164.0 193.7,160.8 194.8,157.6 195.9,154.4 197.1,151.3 198.2,148.1 199.5,144.9 200.8,141.8 202.2,138.7 203.7,135.7 205.2,132.7 206.7,129.6 208.2,126.5 209.5,123.4 210.7,120.2 211.9,117.1 213.1,113.9 214.3,110.6 215.4,107.4 216.6,104.2 217.7,101.0 218.9,97.8 220.2,94.6 221.4,91.4 222.6,88.2 223.8,85.0 225.1,81.8 226.4,78.6 227.6,75.5 229.0,72.3 230.3,69.1 231.6,66.0 233.0,62.8 234.3,59.6 235.6,56.5 237.0,53.3 238.4,50.1 240.0,47.0 241.5,44.0 243.1,40.9 244.6,37.7 246.2,34.7 247.9,31.6 249.8,28.8 251.9,26.1 254.3,23.6 256.9,21.4 259.7,19.6 262.7,18.2 265.9,17.1 269.2,16.3 272.6,15.7 276.0,15.3 279.5,15.2 283.0,15.1 286.5,15.1 290.0,15.1 293.2,15.1 296.3,15.1 299.5,15.1 302.7,15.2 305.9,15.4 309.0,15.5 312.2,15.7 315.4,15.9 318.5,16.1 321.7,16.2 324.9,16.3 328.0,16.4 331.2,16.5 334.4,16.6 337.6,16.7 340.7,16.7 343.9,16.8 347.1,16.9 350.2,16.9 353.4,17.0 356.6,17.1 359.8,17.1 362.9,17.2 366.1,17.2 369.3,17.2 372.4,17.2 375.6,17.2 378.8,17.2 381.9,17.2 385.1,17.3 388.3,17.4 391.5,17.5 394.6,17.6 397.8,17.8 401.0,17.9 404.1,18.1 407.3,18.3 410.5,18.6 413.6,19.1 416.8,19.4 420.0,19.3 423.2,19.1 426.3,18.9 429.5,18.8 430.6,18.8 431.7,18.8 432.7,18.9 433.8,19.1 434.9,19.2 436.0,19.4 437.1,19.6 438.1,19.8 439.2,20.1 440.3,20.4 441.4,20.9 442.5,21.5 443.5,22.2 444.6,23.1 445.7,24.0 446.8,24.9 447.9,25.7 448.9,26.4 450.0,26.8 451.1,26.9 452.2,26.4 453.2,25.7 454.3,24.7 455.4,23.5 456.5,22.4 457.6,21.3 458.6,20.2 459.7,18.9 460.8,17.5 461.9,16.2 463.0,15.0 464.0,14.3 465.1,13.8 466.2,13.5 467.3,12.7 468.4,12.8 469.4,12.8 470.5,12.6 471.6,12.6 472.7,12.6 473.8,12.6 474.8,12.6 475.9,12.6 477.0,12.5 480.4,12.5 483.9,12.5 487.3,12.5 490.8,12.5 494.2,12.5 497.6,12.5 501.1,12.4 504.5,12.4 508.0,12.4 511.4,12.4 514.8,12.4 518.3,12.4 521.7,12.4 525.2,12.4 528.6,12.4 532.1,12.4 535.5,12.3 538.9,12.3 542.4,12.3 545.8,12.3 549.3,12.3 552.7,12.3 556.1,12.3 559.6,12.3 563.0,12.3 566.5,12.3 569.9,12.3 573.3,12.3 576.8,12.3 580.2,12.3 583.7,12.4 587.1,12.4 590.5,12.4 594.0,12.4 597.4,12.4 600.9,12.4 604.3,12.4 607.7,12.4 611.2,12.4 614.6,12.4 618.1,12.4 621.5,12.4 624.9,12.4 628.4,12.4 631.8,12.5 635.3,12.5 638.7,12.5 642.2,12.5 645.6,12.5 649.0,12.6 652.5,12.6 655.9,12.6 659.4,12.7 662.8,12.7 666.2,12.8 669.7,12.8 673.1,12.9 676.6,13.0 680.0,13.1 681.6,13.2 683.3,13.3 684.9,13.4 686.6,13.4 688.2,13.5 689.8,13.6 691.5,13.8 693.1,13.9 694.7,14.0 696.4,14.1 698.0,14.3 699.7,14.5 701.3,14.6 702.9,14.8 704.6,15.1 706.2,15.3 707.9,15.6 709.5,15.9 711.1,16.2 712.8,16.5 714.4,16.9 716.0,17.3 717.7,17.7 719.3,18.2 721.0,18.6 722.6,19.1 724.2,19.6 725.9,20.1 727.5,20.7 729.1,21.3 730.8,21.9 732.4,22.6 734.1,23.3 735.7,24.1 737.3,24.9 739.0,25.7 740.6,26.5 742.2,27.3 743.9,28.1 745.5,28.9 747.1,29.8 748.8,30.7 750.4,31.6 752.1,32.6 753.7,33.7 755.3,34.9 757.0,36.4 758.6,38.1 760.3,39.9 761.9,41.6 763.5,43.2 765.2,44.8 766.8,46.5 768.4,48.2 770.1,50.0 771.7,51.8 773.4,53.6 775.0,55.6 776.6,57.6 778.3,59.6 779.9,61.7 781.5,63.8 783.2,65.9 784.8,67.9 786.5,69.9 788.1,72.0 789.7,74.1 791.4,76.3 793.0,78.6 794.6,81.0 796.3,83.4 797.9,85.9 799.6,88.3 801.2,90.9 802.8,93.4 804.5,96.4 806.1,100.4 807.7,105.0 809.4,109.7 811.0,114.5 812.7,119.2 814.3,123.8 815.9,128.5 817.6,133.3 819.2,138.5 820.8,144.2 822.5,150.6 824.1,157.7 825.8,165.4" stroke="#A2142F"/>
<path d="M104.9,391.1 105.8,396.4 106.7,402.5 107.6,406.8 108.6,408.9 109.5,409.2 110.4,408.6 111.4,407.4 112.3,405.8 113.2,404.2 114.2,402.4 115.1,400.6 116.0,398.9 116.9,397.3 117.9,395.9 118.8,394.4 119.7,392.9 120.7,391.3 121.6,389.6 122.5,388.0 123.5,386.5 124.4,385.2 125.3,384.3 126.3,383.8 127.2,383.7 128.1,384.0 129.1,384.4 130.0,384.7 130.9,384.8 131.9,384.8 132.8,384.6 133.7,384.0 134.7,383.2 135.6,382.0 136.5,380.6 137.5,378.9 138.4,377.2 139.3,375.6 140.3,374.2 141.2,372.8 143.4,369.8 145.6,367.0 147.7,364.2 149.6,361.3 151.4,358.2 152.9,355.0 154.4,351.8 155.8,348.5 157.2,345.3 158.5,342.0 159.7,338.7 161.0,335.4 162.2,332.0 163.4,328.7 164.6,325.4 165.8,322.0 166.8,318.6 167.8,315.2 168.8,311.8 169.7,308.4 170.7,304.9 171.6,301.5 172.5,298.0 173.4,294.6 174.3,291.1 175.2,287.7 176.1,284.2 177.0,280.8 177.9,277.3 178.8,273.8 179.8,270.4 180.7,266.9 181.6,263.5 182.6,260.0 183.5,256.5 184.5,253.1 185.4,249.6 186.4,246.1 187.4,242.6 188.4,239.2 189.4,235.7 190.4,232.2 191.4,228.8 192.4,225.3 193.4,221.8 194.4,218.3 195.4,214.9 196.4,211.4 197.3,207.9 198.3,204.4 199.3,200.9 200.3,197.4 201.3,193.9 202.3,190.4 203.3,186.9 204.4,183.4 205.4,180.0 206.5,176.5 207.6,173.0 208.7,169.5 209.9,166.1 211.1,162.6 212.3,159.2 213.6,155.8 214.8,152.3 216.1,148.9 217.3,145.4 218.5,142.0 219.7,138.5 220.9,135.0 222.1,131.5 223.4,128.1 224.6,124.6 225.8,121.1 227.2,117.7 228.4,114.2 229.7,110.8 230.9,107.3 232.2,103.8 233.4,100.3 234.7,96.8 235.9,93.3 237.1,89.8 238.3,86.3 239.4,82.8 240.5,79.3 241.6,75.7 242.6,72.1 243.6,68.5 244.7,64.9 245.8,61.3 246.9,57.7 248.0,54.1 249.2,50.6 250.4,47.0 251.7,43.5 253.3,40.1 255.1,36.9 257.0,33.8 259.3,30.9 261.8,28.2 264.6,25.8 267.7,23.9 271.2,22.6 274.9,21.9 278.7,21.5 282.4,21.3 286.2,21.2 290.0,21.2 293.2,21.1 296.3,21.1 299.5,21.3 302.7,21.6 305.9,22.1 309.0,22.6 312.2,23.1 315.4,23.7 318.5,24.2 321.7,24.7 324.9,25.1 328.0,25.4 331.2,25.7 334.4,26.0 337.6,26.2 340.7,26.4 343.9,26.6 347.1,26.8 350.2,27.0 353.4,27.2 356.6,27.4 359.8,27.6 362.9,27.8 366.1,27.9 369.3,28.0 372.4,28.0 375.6,28.0 378.8,28.0 381.9,28.0 385.1,28.2 388.3,28.4 391.5,28.8 394.6,29.2 397.8,29.7 401.0,30.3 404.1,30.8 407.3,31.5 410.5,32.3 413.6,34.0 416.8,35.0 420.0,34.8 423.2,34.1 426.3,33.5 429.5,33.0 430.6,33.1 431.7,33.2 432.7,33.5 433.8,33.9 434.9,34.4 436.0,35.0 437.1,35.6 438.1,36.2 439.2,36.9 440.3,37.8 441.4,39.0 442.5,40.6 443.5,42.6 444.6,44.9 445.7,47.3 446.8,49.6 447.9,51.8 448.9,53.3 450.0,54.0 451.1,53.5 452.2,51.9 453.2,50.0 454.3,47.2 455.4,44.1 456.5,41.2 457.6,38.4 458.6,35.5 459.7,32.0 460.8,28.0 461.9,24.3 463.0,20.6 464.0,18.4 465.1,16.9 466.2,15.8 467.3,13.2 468.4,13.7 469.4,13.7 470.5,13.0 471.6,13.0 472.7,12.9 473.8,12.9 474.8,12.9 475.9,12.9 477.0,12.9 480.4,12.8 483.9,12.8 487.3,12.8 490.8,12.7 494.2,12.7 497.6,12.7 501.1,12.7 504.5,12.7 508.0,12.6 511.4,12.6 514.8,12.6 518.3,12.6 521.7,12.6 525.2,12.6 528.6,12.6 532.1,12.6 535.5,12.5 538.9,12.5 542.4,12.5 545.8,12.5 549.3,12.5 552.7,12.5 556.1,12.6 559.6,12.6 563.0,12.6 566.5,12.6 569.9,12.6 573.3,12.6 576.8,12.7 580.2,12.7 583.7,12.7 587.1,12.7 590.5,12.8 594.0,12.8 597.4,12.8 600.9,12.8 604.3,12.8 607.7,12.9 611.2,12.9 614.6,12.9 618.1,12.9 621.5,12.9 624.9,13.0 628.4,13.0 631.8,13.1 635.3,13.1 638.7,13.1 642.2,13.2 645.6,13.3 649.0,13.3 652.5,13.4 655.9,13.5 659.4,13.6 662.8,13.7 666.2,13.9 669.7,14.0 673.1,14.2 676.6,14.5 680.0,14.7 681.6,14.8 683.3,15.0 684.9,15.1 686.5,15.2 688.2,15.4 689.8,15.6 691.5,15.8 693.1,16.0 694.7,16.2 696.4,16.4 698.0,16.6 699.6,16.9 701.3,17.2 702.9,17.4 704.5,17.8 706.2,18.1 707.8,18.5 709.5,18.9 711.1,19.3 712.7,19.7 714.4,20.2 716.0,20.7 717.6,21.2 719.3,21.7 720.9,22.2 722.6,22.8 724.2,23.3 725.8,23.8 727.5,24.4 729.1,25.1 730.7,25.7 732.4,26.4 734.0,27.1 735.6,27.9 737.3,28.7 738.9,29.6 740.6,30.5 742.2,31.5 743.8,32.5 745.5,33.6 747.1,34.7 748.7,35.8 750.4,36.9 752.0,38.1 753.7,39.5 755.3,41.0 756.9,42.9 758.6,45.1 760.2,47.4 761.8,49.6 763.5,51.6 765.1,53.7 766.7,55.8 768.4,57.9 770.0,60.1 771.7,62.4 773.3,64.6 774.9,67.0 776.6,69.5 778.2,72.0 779.8,74.5 781.5,77.0 783.1,79.5 784.8,81.9 786.4,84.2 788.0,86.6 789.7,89.0 791.3,91.4 792.9,93.9 794.6,96.5 796.2,99.1 797.8,101.7 799.5,104.3 801.1,107.1 802.8,109.8 804.4,113.1 806.0,117.7 807.7,123.1 809.3,128.7 810.9,134.4 812.6,139.9 814.2,145.3 815.9,150.8 817.5,156.4 819.1,162.2 820.8,168.4 822.4,175.1 824.0,182.3 825.7,190.5" stroke="#0072BD"/>
<path d="M105.0,378.2 105.9,383.9 106.8,390.5 107.7,395.3 108.6,397.6 109.5,397.9 110.4,396.9 111.3,395.1 112.2,393.0 113.1,390.6 114.0,388.1 114.9,385.6 115.8,383.2 116.6,381.0 117.5,378.9 118.4,376.9 119.3,374.9 120.2,372.7 121.1,370.4 122.0,368.1 122.9,366.0 123.8,364.0 124.7,362.4 125.6,361.4 126.5,361.0 127.4,361.1 128.3,361.4 129.2,361.8 130.1,362.0 131.0,362.1 131.9,362.0 132.8,361.6 133.6,360.7 134.5,359.5 135.4,357.7 136.3,355.4 137.2,352.9 138.1,350.7 139.0,348.7 139.9,346.9 142.0,343.3 144.4,340.5 146.6,337.8 148.7,334.8 150.4,331.7 152.0,328.4 153.4,325.1 154.6,321.7 155.7,318.3 156.8,314.8 157.8,311.4 158.7,307.9 159.7,304.4 160.6,300.9 161.5,297.4 162.3,293.9 163.1,290.4 163.9,286.9 164.7,283.4 165.4,279.9 166.1,276.3 166.8,272.8 167.5,269.3 168.2,265.8 168.9,262.2 169.6,258.7 170.4,255.2 171.1,251.7 171.8,248.2 172.5,244.7 173.2,241.1 174.0,237.6 174.8,234.1 175.6,230.7 176.4,227.2 177.2,223.7 178.0,220.2 178.8,216.7 179.7,213.3 180.6,209.8 181.5,206.4 182.4,202.9 183.3,199.5 184.3,196.0 185.2,192.6 186.1,189.2 187.1,185.7 188.1,182.3 189.0,178.9 190.0,175.5 191.0,172.1 192.0,168.7 193.0,165.3 194.0,161.9 195.1,158.5 196.1,155.1 197.2,151.7 198.3,148.4 199.5,145.1 200.8,141.8 202.1,138.5 203.6,135.3 205.1,132.1 206.6,128.9 208.0,125.7 209.2,122.4 210.4,119.1 211.6,115.8 212.7,112.5 213.9,109.1 215.0,105.8 216.1,102.4 217.2,99.1 218.4,95.8 219.5,92.5 220.7,89.2 221.9,85.9 223.1,82.6 224.3,79.3 225.5,76.0 226.7,72.7 228.0,69.5 229.3,66.2 230.6,63.0 232.0,59.8 233.3,56.5 234.7,53.3 236.1,50.2 237.6,47.1 239.2,44.1 240.8,41.1 242.5,38.1 244.1,35.0 245.7,32.0 247.5,29.1 249.4,26.3 251.7,23.7 254.1,21.4 256.8,19.4 259.8,17.7 262.9,16.5 266.1,15.6 269.4,15.0 272.8,14.6 276.2,14.3 279.7,14.1 283.1,14.1 286.5,14.1 290.0,14.1 293.2,14.1 296.3,14.1 299.5,14.1 302.7,14.2 305.9,14.3 309.0,14.4 312.2,14.5 315.4,14.6 318.5,14.7 321.7,14.8 324.9,14.9 328.0,14.9 331.2,15.0 334.4,15.1 337.6,15.1 340.7,15.1 343.9,15.2 347.1,15.2 350.2,15.3 353.4,15.3 356.6,15.3 359.8,15.4 362.9,15.4 366.1,15.4 369.3,15.4 372.4,15.4 375.6,15.4 378.8,15.4 381.9,15.5 385.1,15.5 388.3,15.5 391.5,15.6 394.6,15.7 397.8,15.8 401.0,15.9 404.1,16.0 407.3,16.1 410.5,16.3 413.6,16.6 416.8,16.8 420.0,16.8 423.2,16.6 426.3,16.5 429.5,16.4 430.6,16.4 431.7,16.5 432.7,16.5 433.8,16.6 434.9,16.7 436.0,16.8 437.1,16.9 438.1,17.1 439.2,17.3 440.3,17.6 441.4,17.9 442.5,18.3 443.5,18.8 444.6,19.5 445.7,20.1 446.8,20.8 447.9,21.4 448.9,22.0 450.0,22.4 451.1,22.5 452.2,22.2 453.2,21.7 454.3,21.0 455.4,20.1 456.5,19.3 457.6,18.5 458.6,17.7 459.7,16.7 460.8,15.7 461.9,14.9 463.0,14.1 464.0,13.6 465.1,13.3 466.2,13.1 467.3,12.6 468.4,12.7 469.4,12.6 470.5,12.5 471.6,12.5 472.7,12.5 473.8,12.5 474.8,12.5 475.9,12.5 477.0,12.5 480.4,12.5 483.9,12.5 487.3,12.5 490.8,12.4 494.2,12.4 497.6,12.4 501.1,12.4 504.5,12.4 508.0,12.4 511.4,12.4 514.8,12.4 518.3,12.4 521.7,12.3 525.2,12.3 528.6,12.3 532.1,12.3 535.5,12.3 538.9,12.3 542.4,12.3 545.8,12.3 549.3,12.3 552.7,12.3 556.1,12.3 559.6,12.3 563.0,12.3 566.5,12.3 569.9,12.3 573.3,12.3 576.8,12.3 580.2,12.3 583.7,12.3 587.1,12.3 590.5,12.3 594.0,12.3 597.4,12.3 600.9,12.3 604.3,12.3 607.7,12.3 611.2,12.3 614.6,12.3 618.1,12.3 621.5,12.3 624.9,12.3 628.4,12.3 631.8,12.4 635.3,12.4 638.7,12.4 642.2,12.4 645.6,12.4 649.0,12.4 652.5,12.5 655.9,12.5 659.4,12.5 662.8,12.6 666.2,12.6 669.7,12.6 673.1,12.7 676.6,12.8 680.0,12.8 681.6,12.9 683.3,13.0 684.9,13.1 686.6,13.2 688.2,13.3 689.8,13.4 691.5,13.5 693.1,13.6 694.8,13.7 696.4,13.9 698.0,14.0 699.7,14.2 701.3,14.4 702.9,14.6 704.6,14.8 706.2,15.0 707.9,15.3 709.5,15.6 711.1,16.0 712.8,16.3 714.4,16.7 716.0,17.1 717.7,17.6 719.3,18.0 721.0,18.5 722.6,19.1 724.2,19.6 725.9,20.2 727.5,20.8 729.1,21.5 730.8,22.2 732.4,22.9 734.0,23.7 735.7,24.6 737.3,25.5 739.0,26.4 740.6,27.2 742.2,28.0 743.9,28.8 745.5,29.7 747.1,30.6 748.8,31.6 750.4,32.5 752.1,33.5 753.7,34.6 755.3,35.9 757.0,37.4 758.6,39.2 760.2,41.2 761.9,42.9 763.5,44.6 765.2,46.3 766.8,48.0 768.4,49.8 770.1,51.7 771.7,53.5 773.3,55.5 775.0,57.5 776.6,59.5 778.3,61.7 779.9,63.8 781.5,66.0 783.2,68.1 784.8,70.2 786.4,72.3 788.1,74.4 789.7,76.6 791.4,78.9 793.0,81.2 794.6,83.6 796.3,86.0 797.9,88.5 799.5,91.0 801.2,93.6 802.8,96.1 804.5,99.2 806.1,103.3 807.7,108.0 809.4,112.9 811.0,117.8 812.6,122.6 814.3,127.4 815.9,132.2 817.6,137.1 819.2,142.4 820.8,148.2 822.5,154.7 824.1,161.8 825.7,169.6" stroke="#D95319"/>
<path d="M104.6,407.1 105.6,411.9 106.6,417.4 107.5,421.0 108.5,422.7 109.5,423.1 110.5,422.9 111.4,422.3 112.4,421.5 113.4,420.6 114.4,419.6 115.4,418.6 116.3,417.7 117.3,417.0 118.3,416.2 119.3,415.3 120.2,414.3 121.2,413.2 122.2,412.1 123.2,411.1 124.1,410.2 125.1,409.6 126.1,409.2 127.1,409.2 128.0,409.5 129.0,410.0 130.0,410.5 131.0,410.8 131.9,411.0 132.9,411.0 133.9,410.8 134.9,410.4 135.8,409.6 136.8,408.7 137.8,407.8 138.8,406.8 139.8,405.9 140.7,404.9 141.7,403.9 142.7,402.7 144.9,399.4 146.9,396.0 148.8,392.5 150.6,389.0 152.3,385.5 153.9,381.9 155.4,378.2 157.0,374.6 158.5,371.0 160.0,367.3 161.5,363.7 163.0,360.0 164.4,356.4 165.8,352.7 167.3,349.1 168.6,345.4 169.9,341.6 171.0,337.9 172.1,334.1 173.1,330.3 174.1,326.5 175.1,322.7 176.1,318.9 177.0,315.1 178.0,311.3 179.0,307.5 179.9,303.7 180.9,299.9 181.9,296.1 182.8,292.3 183.8,288.5 184.7,284.7 185.7,280.9 186.6,277.1 187.6,273.3 188.6,269.5 189.5,265.7 190.5,261.9 191.4,258.1 192.4,254.3 193.4,250.5 194.3,246.7 195.3,242.9 196.2,239.1 197.2,235.3 198.1,231.6 199.0,227.8 199.9,224.0 200.9,220.2 201.8,216.4 202.7,212.6 203.6,208.8 204.5,205.0 205.5,201.2 206.4,197.5 207.4,193.7 208.3,189.9 209.3,186.1 210.3,182.4 211.3,178.6 212.3,174.9 213.4,171.2 214.5,167.5 215.7,163.8 216.8,160.1 218.0,156.3 219.2,152.7 220.3,149.0 221.5,145.3 222.7,141.6 223.9,137.9 225.1,134.2 226.3,130.5 227.5,126.8 228.9,123.2 230.1,119.5 231.3,115.9 232.5,112.2 233.7,108.5 234.9,104.8 236.1,101.2 237.3,97.5 238.4,93.8 239.5,90.1 240.6,86.4 241.6,82.7 242.6,79.0 243.6,75.2 244.5,71.6 245.5,67.9 246.5,64.2 247.6,60.5 248.6,56.9 249.6,53.2 250.8,49.6 252.0,46.0 253.5,42.5 255.2,39.1 257.1,35.8 259.2,32.7 261.6,29.9 264.4,27.3 267.5,25.2 271.0,23.8 274.7,22.9 278.5,22.5 282.3,22.4 286.2,22.3 290.0,22.2 293.2,22.1 296.3,22.1 299.5,22.3 302.7,22.7 305.9,23.2 309.0,23.8 312.2,24.4 315.4,25.0 318.5,25.6 321.7,26.1 324.9,26.6 328.0,26.9 331.2,27.3 334.4,27.5 337.6,27.8 340.7,28.0 343.9,28.2 347.1,28.5 350.2,28.7 353.4,28.9 356.6,29.2 359.8,29.4 362.9,29.5 366.1,29.7 369.3,29.8 372.4,29.8 375.6,29.8 378.8,29.8 381.9,29.8 385.1,30.0 388.3,30.3 391.5,30.7 394.6,31.2 397.8,31.7 401.0,32.3 404.1,33.0 407.3,33.7 410.5,34.6 413.6,36.5 416.8,37.6 420.0,37.4 423.2,36.6 426.3,35.9 429.5,35.4 430.6,35.5 431.7,35.6 432.7,35.9 433.8,36.4 434.9,37.0 436.0,37.6 437.1,38.2 438.1,38.9 439.2,39.7 440.3,40.7 441.4,42.1 442.5,43.8 443.5,46.0 444.6,48.5 445.7,51.2 446.8,53.8 447.9,56.1 448.9,57.8 450.0,58.5 451.1,57.9 452.2,56.1 453.2,54.0 454.3,51.0 455.4,47.6 456.5,44.4 457.6,41.3 458.6,38.0 459.7,34.1 460.8,29.7 461.9,25.6 463.0,21.5 464.0,19.0 465.1,17.4 466.2,16.2 467.3,13.3 468.4,13.8 469.4,13.8 470.5,13.0 471.6,13.0 472.7,13.0 473.8,13.0 474.8,13.0 475.9,12.9 477.0,12.9 480.4,12.9 483.9,12.8 487.3,12.8 490.8,12.8 494.2,12.8 497.6,12.7 501.1,12.7 504.5,12.7 508.0,12.7 511.4,12.7 514.8,12.6 518.3,12.6 521.7,12.6 525.2,12.6 528.6,12.6 532.1,12.6 535.5,12.6 538.9,12.6 542.4,12.6 545.8,12.6 549.3,12.6 552.7,12.6 556.1,12.6 559.6,12.6 563.0,12.6 566.5,12.6 569.9,12.7 573.3,12.7 576.8,12.7 580.2,12.7 583.7,12.8 587.1,12.8 590.5,12.8 594.0,12.8 597.4,12.9 600.9,12.9 604.3,12.9 607.7,12.9 611.2,13.0 614.6,13.0 618.1,13.0 621.5,13.0 624.9,13.1 628.4,13.1 631.8,13.2 635.3,13.2 638.7,13.3 642.2,13.3 645.6,13.4 649.0,13.5 652.5,13.6 655.9,13.7 659.4,13.8 662.8,13.9 666.2,14.1 669.7,14.2 673.1,14.4 676.6,14.7 680.0,15.0 681.6,15.1 683.3,15.1 684.9,15.2 686.5,15.3 688.2,15.4 689.8,15.5 691.5,15.6 693.1,15.8 694.7,15.9 696.4,16.0 698.0,16.1 699.6,16.2 701.3,16.4 702.9,16.5 704.6,16.7 706.2,16.8 707.8,17.0 709.5,17.1 711.1,17.3 712.8,17.4 714.4,17.6 716.0,17.7 717.7,17.9 719.3,18.0 721.0,18.1 722.6,18.2 724.2,18.3 725.9,18.4 727.5,18.5 729.2,18.5 730.8,18.6 732.5,18.6 734.1,18.7 735.7,18.7 737.4,18.7 739.0,18.9 740.7,19.3 742.3,19.7 743.9,20.2 745.6,20.6 747.2,21.1 748.9,21.6 750.5,22.2 752.1,22.7 753.8,23.3 755.4,24.0 757.1,24.7 758.7,25.5 760.3,26.4 762.0,27.2 763.6,28.1 765.3,28.9 766.9,29.9 768.5,30.8 770.2,31.8 771.8,32.8 773.5,33.9 775.1,35.0 776.7,36.2 778.4,37.5 780.0,38.8 781.7,40.1 783.3,41.5 784.9,42.9 786.6,44.3 788.2,45.8 789.9,47.5 791.5,49.3 793.1,51.2 794.8,53.2 796.4,55.3 798.1,57.5 799.7,59.6 801.3,61.8 803.0,64.1 804.6,66.6 806.3,69.4 807.9,72.5 809.5,75.7 811.2,78.9 812.8,82.1 814.4,85.2 816.1,88.4 817.7,91.9 819.4,95.8 821.0,100.7 822.6,106.7 824.3,113.5 825.9,120.3" stroke="#EDB120"/>
<path d="M104.6,407.9 105.6,412.7 106.6,418.0 107.5,421.6 108.5,423.2 109.5,423.6 110.5,423.4 111.5,422.8 112.4,422.0 113.4,421.0 114.4,420.0 115.4,419.0 116.3,418.1 117.3,417.3 118.3,416.4 119.3,415.4 120.2,414.3 121.2,413.1 122.2,411.8 123.2,410.6 124.1,409.6 125.1,408.8 126.1,408.5 127.1,408.5 128.0,408.9 129.0,409.4 130.0,410.0 130.9,410.5 131.9,410.7 132.9,410.8 133.9,410.5 134.8,410.0 135.8,409.1 136.8,408.0 137.7,406.9 138.7,405.7 139.7,404.6 140.7,403.5 141.6,402.3 142.6,401.0 144.8,397.6 146.8,394.3 148.7,390.9 150.5,387.4 152.2,383.8 153.8,380.2 155.4,376.6 156.9,373.0 158.4,369.4 159.9,365.8 161.4,362.1 162.8,358.5 164.3,354.8 165.7,351.2 167.1,347.5 168.4,343.8 169.7,340.1 170.8,336.3 171.8,332.6 172.9,328.8 173.9,325.0 174.8,321.2 175.8,317.4 176.8,313.6 177.7,309.8 178.7,306.0 179.7,302.2 180.6,298.4 181.6,294.6 182.5,290.8 183.5,287.1 184.4,283.3 185.4,279.5 186.3,275.7 187.3,271.9 188.2,268.1 189.2,264.3 190.1,260.5 191.1,256.8 192.1,253.0 193.0,249.2 194.0,245.4 194.9,241.6 195.9,237.9 196.8,234.1 197.8,230.3 198.7,226.5 199.6,222.8 200.5,219.0 201.4,215.2 202.4,211.4 203.3,207.6 204.2,203.9 205.1,200.1 206.1,196.3 207.0,192.6 208.0,188.8 209.0,185.1 210.0,181.3 211.0,177.6 212.0,173.8 213.1,170.1 214.3,166.4 215.4,162.8 216.6,159.1 217.7,155.4 218.9,151.7 220.1,148.0 221.3,144.3 222.5,140.6 223.7,137.0 224.8,133.3 226.0,129.6 227.3,125.9 228.6,122.3 229.8,118.7 231.0,115.0 232.2,111.3 233.5,107.7 234.6,104.0 235.8,100.4 237.0,96.7 238.1,93.0 239.3,89.3 240.4,85.6 241.4,81.9 242.4,78.2 243.3,74.5 244.3,70.9 245.3,67.2 246.4,63.6 247.4,59.9 248.5,56.3 249.5,52.6 250.7,49.0 252.0,45.4 253.5,42.0 255.2,38.6 257.1,35.4 259.2,32.3 261.7,29.5 264.4,27.0 267.5,24.9 271.0,23.5 274.8,22.7 278.6,22.3 282.4,22.1 286.2,22.0 290.0,22.0 293.2,21.9 296.3,21.9 299.5,22.1 302.7,22.4 305.9,22.9 309.0,23.5 312.2,24.1 315.4,24.7 318.5,25.3 321.7,25.8 324.9,26.3 328.0,26.6 331.2,26.9 334.4,27.2 337.6,27.4 340.7,27.6 343.9,27.8 347.1,28.1 350.2,28.3 353.4,28.5 356.6,28.8 359.8,29.0 362.9,29.1 366.1,29.3 369.3,29.4 372.4,29.4 375.6,29.4 378.8,29.4 381.9,29.4 385.1,29.6 388.3,29.9 391.5,30.3 394.6,30.7 397.8,31.3 401.0,31.8 404.1,32.5 407.3,33.2 410.5,34.1 413.6,36.0 416.8,37.0 420.0,36.8 423.2,36.1 426.3,35.3 429.5,34.9 430.6,34.9 431.7,35.1 432.7,35.3 433.8,35.8 434.9,36.4 436.0,37.0 437.1,37.6 438.1,38.3 439.2,39.1 440.3,40.1 441.4,41.4 442.5,43.0 443.5,45.2 444.6,47.7 445.7,50.3 446.8,52.8 447.9,55.1 448.9,56.8 450.0,57.5 451.1,56.9 452.2,55.2 453.2,53.1 454.3,50.1 455.4,46.8 456.5,43.7 457.6,40.6 458.6,37.4 459.7,33.7 460.8,29.3 461.9,25.3 463.0,21.3 464.0,18.9 465.1,17.3 466.2,16.1 467.3,13.3 468.4,13.8 469.4,13.8 470.5,13.0 471.6,13.0 472.7,13.0 473.8,13.0 474.8,12.9 475.9,12.9 477.0,12.9 480.4,12.9 483.9,12.8 487.3,12.8 490.8,12.8 494.2,12.7 497.6,12.7 501.1,12.7 504.5,12.7 508.0,12.7 511.4,12.6 514.8,12.6 518.3,12.6 521.7,12.6 525.2,12.6 528.6,12.6 532.1,12.6 535.5,12.6 538.9,12.6 542.4,12.6 545.8,12.6 549.3,12.6 552.7,12.6 556.1,12.6 559.6,12.6 563.0,12.6 566.5,12.6 569.9,12.6 573.3,12.7 576.8,12.7 580.2,12.7 583.7,12.7 587.1,12.8 590.5,12.8 594.0,12.8 597.4,12.8 600.9,12.9 604.3,12.9 607.7,12.9 611.2,12.9 614.6,13.0 618.1,13.0 621.5,13.0 624.9,13.0 628.4,13.1 631.8,13.1 635.3,13.2 638.7,13.2 642.2,13.3 645.6,13.4 649.0,13.4 652.5,13.5 655.9,13.6 659.4,13.7 662.8,13.9 666.2,14.0 669.7,14.2 673.1,14.4 676.6,14.6 680.0,14.9 681.6,15.0 683.3,15.1 684.9,15.2 686.5,15.3 688.2,15.4 689.8,15.5 691.5,15.6 693.1,15.7 694.7,15.9 696.4,16.0 698.0,16.1 699.6,16.3 701.3,16.4 702.9,16.6 704.6,16.7 706.2,16.9 707.8,17.1 709.5,17.2 711.1,17.4 712.8,17.6 714.4,17.8 716.0,18.0 717.7,18.2 719.3,18.3 721.0,18.5 722.6,18.6 724.2,18.8 725.9,18.9 727.5,19.0 729.2,19.1 730.8,19.3 732.4,19.4 734.1,19.5 735.7,19.6 737.4,19.7 739.0,19.9 740.7,20.4 742.3,20.9 743.9,21.4 745.6,21.9 747.2,22.5 748.9,23.0 750.5,23.6 752.1,24.2 753.8,24.9 755.4,25.6 757.0,26.5 758.7,27.4 760.3,28.4 762.0,29.4 763.6,30.4 765.2,31.4 766.9,32.4 768.5,33.5 770.2,34.6 771.8,35.7 773.4,36.9 775.1,38.2 776.7,39.5 778.4,40.8 780.0,42.3 781.6,43.7 783.3,45.2 784.9,46.7 786.6,48.2 788.2,49.8 789.8,51.6 791.5,53.4 793.1,55.4 794.8,57.4 796.4,59.6 798.0,61.8 799.7,64.0 801.3,66.2 803.0,68.6 804.6,71.1 806.2,74.1 807.9,77.4 809.5,80.9 811.1,84.3 812.8,87.7 814.4,91.1 816.1,94.5 817.7,98.2 819.3,102.3 821.0,107.3 822.6,113.4 824.3,120.2 825.9,127.2" stroke="#7E2F8E"/>
<path d="M105.1,373.5 106.0,379.3 106.9,386.1 107.8,391.1 108.6,393.5 109.5,393.6 110.4,392.5 111.3,390.5 112.1,388.1 113.0,385.5 113.9,382.7 114.8,379.9 115.7,377.1 116.5,374.6 117.4,372.3 118.3,370.0 119.2,367.6 120.0,365.2 120.9,362.6 121.8,359.9 122.7,357.3 123.6,355.0 124.4,353.1 125.3,351.7 126.2,351.1 127.1,351.1 127.9,351.4 128.8,351.9 129.7,352.2 130.6,352.4 131.5,352.4 132.3,352.1 133.2,351.4 134.1,350.1 135.0,348.3 135.8,345.7 136.7,342.8 137.6,340.2 138.5,337.8 139.4,335.7 141.5,331.6 143.8,329.1 146.2,326.5 148.3,323.7 150.1,320.7 151.6,317.5 153.0,314.3 154.1,311.0 155.2,307.6 156.1,304.2 157.0,300.8 157.9,297.4 158.7,294.0 159.5,290.6 160.3,287.2 161.1,283.7 161.8,280.3 162.5,276.9 163.2,273.4 163.9,270.0 164.5,266.5 165.2,263.1 165.9,259.7 166.5,256.2 167.2,252.8 167.9,249.3 168.5,245.9 169.2,242.5 169.9,239.0 170.5,235.6 171.2,232.2 172.0,228.8 172.7,225.3 173.5,221.9 174.2,218.5 175.0,215.1 175.8,211.7 176.7,208.3 177.5,205.0 178.4,201.6 179.3,198.2 180.2,194.9 181.1,191.5 182.1,188.2 183.0,184.8 184.0,181.5 184.9,178.1 185.9,174.8 186.9,171.5 187.9,168.2 188.9,164.8 189.9,161.5 191.0,158.2 192.0,154.9 193.1,151.6 194.2,148.3 195.3,145.0 196.4,141.8 197.6,138.6 199.0,135.4 200.4,132.2 201.9,129.1 203.5,126.1 205.0,123.0 206.4,119.8 207.7,116.7 208.9,113.4 210.1,110.2 211.3,106.9 212.4,103.7 213.5,100.4 214.6,97.1 215.7,93.9 216.8,90.6 218.0,87.4 219.2,84.2 220.3,80.9 221.5,77.7 222.7,74.5 223.9,71.3 225.2,68.1 226.5,64.9 227.9,61.8 229.2,58.6 230.6,55.5 232.0,52.4 233.4,49.3 234.9,46.2 236.5,43.2 238.2,40.3 239.9,37.4 241.6,34.5 243.3,31.6 245.1,28.7 246.9,25.8 249.0,23.2 251.4,20.8 254.0,18.6 256.8,16.8 259.8,15.4 263.0,14.4 266.3,13.8 269.7,13.4 273.1,13.1 276.4,12.9 279.8,12.8 283.2,12.8 286.6,12.8 290.0,12.8 293.2,12.8 296.3,12.8 299.5,12.8 302.7,12.8 305.9,12.9 309.0,12.9 312.2,12.9 315.4,13.0 318.5,13.0 321.7,13.0 324.9,13.0 328.0,13.0 331.2,13.1 334.4,13.1 337.6,13.1 340.7,13.1 343.9,13.1 347.1,13.1 350.2,13.1 353.4,13.1 356.6,13.1 359.8,13.1 362.9,13.2 366.1,13.2 369.3,13.2 372.4,13.2 375.6,13.2 378.8,13.2 381.9,13.2 385.1,13.2 388.3,13.2 391.5,13.2 394.6,13.2 397.8,13.2 401.0,13.3 404.1,13.3 407.3,13.3 410.5,13.4 413.6,13.5 416.8,13.5 420.0,13.5 423.2,13.5 426.3,13.4 429.5,13.4 430.6,13.4 431.7,13.4 432.7,13.4 433.8,13.5 434.9,13.5 436.0,13.5 437.1,13.6 438.1,13.6 439.2,13.7 440.3,13.9 441.4,14.0 442.5,14.3 443.5,14.5 444.6,14.9 445.7,15.2 446.8,15.5 447.9,15.9 448.9,16.3 450.0,16.6 451.1,16.8 452.2,16.8 453.2,16.6 454.3,16.2 455.4,15.7 456.5,15.3 457.6,14.9 458.6,14.4 459.7,14.0 460.8,13.5 461.9,13.2 463.0,12.9 464.0,12.8 465.1,12.7 466.2,12.6 467.3,12.5 468.4,12.5 469.4,12.5 470.5,12.4 471.6,12.4 472.7,12.4 473.8,12.4 474.8,12.4 475.9,12.4 477.0,12.4 480.4,12.4 483.9,12.4 487.3,12.4 490.8,12.4 494.2,12.4 497.6,12.4 501.1,12.4 504.5,12.3 508.0,12.3 511.4,12.3 514.8,12.3 518.3,12.3 521.7,12.3 525.2,12.3 528.6,12.3 532.1,12.3 535.5,12.3 538.9,12.3 542.4,12.3 545.8,12.3 549.3,12.2 552.7,12.2 556.1,12.2 559.6,12.2 563.0,12.2 566.5,12.2 569.9,12.2 573.3,12.2 576.8,12.2 580.2,12.2 583.7,12.2 587.1,12.2 590.5,12.2 594.0,12.2 597.4,12.2 600.9,12.2 604.3,12.2 607.7,12.2 611.2,12.2 614.6,12.2 618.1,12.2 621.5,12.2 624.9,12.2 628.4,12.2 631.8,12.2 635.3,12.2 638.7,12.2 642.2,12.2 645.6,12.3 649.0,12.3 652.5,12.3 655.9,12.3 659.4,12.3 662.8,12.3 666.2,12.4 669.7,12.4 673.1,12.4 676.6,12.5 680.0,12.5 681.6,12.6 683.3,12.6 684.9,12.7 686.6,12.8 688.2,12.8 689.8,12.9 691.5,13.0 693.1,13.1 694.8,13.2 696.4,13.3 698.0,13.4 699.7,13.6 701.3,13.7 703.0,13.9 704.6,14.1 706.2,14.3 707.9,14.5 709.5,14.8 711.1,15.1 712.8,15.4 714.4,15.7 716.1,16.1 717.7,16.5 719.3,16.9 721.0,17.4 722.6,17.8 724.2,18.3 725.9,18.8 727.5,19.4 729.2,20.0 730.8,20.7 732.4,21.4 734.1,22.1 735.7,22.9 737.3,23.8 739.0,24.6 740.6,25.3 742.2,26.0 743.9,26.7 745.5,27.5 747.2,28.3 748.8,29.2 750.4,30.0 752.1,30.9 753.7,31.9 755.4,33.0 757.0,34.4 758.6,35.9 760.3,37.6 761.9,39.1 763.5,40.6 765.2,42.1 766.8,43.6 768.5,45.2 770.1,46.8 771.7,48.5 773.4,50.2 775.0,52.0 776.6,53.9 778.3,55.8 779.9,57.7 781.6,59.7 783.2,61.7 784.8,63.6 786.5,65.5 788.1,67.5 789.8,69.6 791.4,71.7 793.0,73.9 794.7,76.2 796.3,78.6 797.9,81.0 799.6,83.4 801.2,85.9 802.9,88.4 804.5,91.3 806.1,95.1 807.8,99.4 809.4,103.9 811.0,108.4 812.7,112.8 814.3,117.2 816.0,121.6 817.6,126.2 819.2,131.1 820.9,136.7 822.5,143.1 824.2,150.1 825.8,157.6" stroke="#77AC30"/>
<path d="M104.7,403.0 105.6,408.0 106.6,413.6 107.6,417.3 108.5,419.1 109.5,419.5 110.5,419.2 111.4,418.4 112.4,417.4 113.4,416.2 114.3,415.0 115.3,413.8 116.2,412.7 117.2,411.7 118.2,410.7 119.1,409.6 120.1,408.3 121.1,407.0 122.0,405.6 123.0,404.3 123.9,403.2 124.9,402.3 125.9,401.8 126.8,401.7 127.8,402.0 128.8,402.6 129.7,403.1 130.7,403.6 131.7,403.9 132.6,403.9 133.6,403.7 134.5,403.2 135.5,402.4 136.5,401.2 137.4,400.0 138.4,398.7 139.4,397.5 140.3,396.3 141.3,395.0 142.2,393.7 144.4,390.5 146.5,387.2 148.5,383.9 150.3,380.6 152.0,377.1 153.6,373.6 155.1,370.1 156.6,366.5 158.1,363.0 159.5,359.4 161.0,355.8 162.3,352.2 163.7,348.6 165.1,345.0 166.4,341.4 167.7,337.8 168.9,334.2 170.0,330.5 171.0,326.8 172.0,323.0 173.0,319.3 173.9,315.6 174.9,311.9 175.8,308.1 176.7,304.4 177.7,300.7 178.6,297.0 179.6,293.2 180.5,289.5 181.4,285.8 182.4,282.0 183.3,278.3 184.2,274.6 185.2,270.9 186.1,267.1 187.1,263.4 188.0,259.7 189.0,256.0 189.9,252.3 190.9,248.6 191.8,244.8 192.8,241.1 193.8,237.4 194.7,233.7 195.7,230.0 196.6,226.3 197.5,222.6 198.5,218.8 199.4,215.1 200.3,211.4 201.3,207.7 202.2,204.0 203.2,200.3 204.1,196.6 205.1,192.9 206.0,189.2 207.0,185.5 208.0,181.8 209.0,178.1 210.1,174.4 211.2,170.8 212.3,167.1 213.5,163.5 214.7,159.9 215.9,156.2 217.0,152.6 218.2,149.0 219.4,145.3 220.6,141.7 221.8,138.1 223.0,134.5 224.1,130.8 225.3,127.2 226.6,123.6 227.9,120.0 229.1,116.4 230.3,112.8 231.6,109.2 232.8,105.6 234.0,101.9 235.2,98.3 236.3,94.7 237.5,91.1 238.7,87.4 239.8,83.8 240.8,80.2 241.8,76.5 242.8,72.9 243.8,69.2 244.9,65.6 246.0,62.0 247.1,58.4 248.2,54.8 249.3,51.2 250.5,47.6 251.8,44.1 253.3,40.7 255.1,37.4 257.0,34.3 259.2,31.3 261.7,28.6 264.5,26.2 267.7,24.2 271.2,22.9 274.9,22.1 278.6,21.7 282.4,21.6 286.2,21.5 290.0,21.4 293.2,21.3 296.3,21.3 299.5,21.5 302.7,21.9 305.9,22.3 309.0,22.9 312.2,23.4 315.4,24.0 318.5,24.6 321.7,25.1 324.9,25.5 328.0,25.8 331.2,26.1 334.4,26.3 337.6,26.5 340.7,26.8 343.9,27.0 347.1,27.2 350.2,27.4 353.4,27.6 356.6,27.8 359.8,28.0 362.9,28.2 366.1,28.3 369.3,28.4 372.4,28.4 375.6,28.4 378.8,28.4 381.9,28.4 385.1,28.6 388.3,28.9 391.5,29.2 394.6,29.7 397.8,30.2 401.0,30.7 404.1,31.3 407.3,32.0 410.5,32.9 413.6,34.6 416.8,35.6 420.0,35.4 423.2,34.7 426.3,34.0 429.5,33.6 430.6,33.6 431.7,33.8 432.7,34.0 433.8,34.5 434.9,35.0 436.0,35.6 437.1,36.2 438.1,36.8 439.2,37.6 440.3,38.5 441.4,39.7 442.5,41.3 443.5,43.4 444.6,45.7 445.7,48.2 446.8,50.6 447.9,52.8 448.9,54.4 450.0,55.1 451.1,54.5 452.2,52.9 453.2,50.9 454.3,48.1 455.4,44.9 456.5,42.0 457.6,39.1 458.6,36.1 459.7,32.5 460.8,28.4 461.9,24.6 463.0,20.8 464.0,18.5 465.1,17.0 466.2,15.9 467.3,13.3 468.4,13.7 469.4,13.7 470.5,13.0 471.6,13.0 472.7,12.9 473.8,12.9 474.8,12.9 475.9,12.9 477.0,12.9 480.4,12.8 483.9,12.8 487.3,12.8 490.8,12.8 494.2,12.7 497.6,12.7 501.1,12.7 504.5,12.7 508.0,12.6 511.4,12.6 514.8,12.6 518.3,12.6 521.7,12.6 525.2,12.6 528.6,12.6 532.1,12.6 535.5,12.6 538.9,12.6 542.4,12.5 545.8,12.6 549.3,12.6 552.7,12.6 556.1,12.6 559.6,12.6 563.0,12.6 566.5,12.6 569.9,12.6 573.3,12.6 576.8,12.7 580.2,12.7 583.7,12.7 587.1,12.7 590.5,12.8 594.0,12.8 597.4,12.8 600.9,12.8 604.3,12.9 607.7,12.9 611.2,12.9 614.6,12.9 618.1,12.9 621.5,13.0 624.9,13.0 628.4,13.0 631.8,13.1 635.3,13.1 638.7,13.2 642.2,13.2 645.6,13.3 649.0,13.4 652.5,13.5 655.9,13.6 659.4,13.7 662.8,13.8 666.2,13.9 669.7,14.1 673.1,14.3 676.6,14.5 680.0,14.8 681.6,14.9 683.3,15.0 684.9,15.2 686.5,15.3 688.2,15.5 689.8,15.7 691.5,15.9 693.1,16.1 694.7,16.3 696.4,16.5 698.0,16.8 699.6,17.0 701.3,17.3 702.9,17.6 704.5,18.0 706.2,18.3 707.8,18.7 709.5,19.1 711.1,19.6 712.7,20.0 714.4,20.5 716.0,21.0 717.6,21.6 719.3,22.1 720.9,22.6 722.5,23.2 724.2,23.7 725.8,24.3 727.5,25.0 729.1,25.6 730.7,26.3 732.4,27.0 734.0,27.8 735.6,28.6 737.3,29.5 738.9,30.4 740.6,31.3 742.2,32.4 743.8,33.4 745.5,34.5 747.1,35.7 748.7,36.8 750.4,38.0 752.0,39.3 753.6,40.7 755.3,42.3 756.9,44.2 758.6,46.5 760.2,49.0 761.8,51.2 763.5,53.3 765.1,55.5 766.7,57.7 768.4,59.9 770.0,62.2 771.6,64.5 773.3,66.9 774.9,69.4 776.6,71.9 778.2,74.5 779.8,77.1 781.5,79.7 783.1,82.2 784.7,84.7 786.4,87.2 788.0,89.6 789.6,92.0 791.3,94.5 792.9,97.1 794.6,99.6 796.2,102.3 797.8,104.9 799.5,107.6 801.1,110.4 802.7,113.1 804.4,116.5 806.0,121.2 807.7,126.8 809.3,132.6 810.9,138.4 812.6,144.1 814.2,149.7 815.8,155.4 817.5,161.1 819.1,167.1 820.7,173.4 822.4,180.1 824.0,187.4 825.7,195.7" stroke="#4DBEEE"/>
<path d="M105.0,378.3 105.9,383.9 106.8,390.5 107.7,395.3 108.6,397.6 109.5,397.8 110.4,396.7 111.3,395.0 112.2,392.8 113.1,390.4 114.0,387.9 114.9,385.3 115.7,382.8 116.6,380.5 117.5,378.4 118.4,376.3 119.3,374.2 120.2,371.9 121.1,369.6 122.0,367.2 122.9,364.9 123.8,362.8 124.7,361.2 125.5,360.1 126.4,359.6 127.3,359.6 128.2,359.9 129.1,360.3 130.0,360.5 130.9,360.6 131.8,360.5 132.7,360.0 133.6,359.1 134.5,357.8 135.4,356.0 136.2,353.5 137.1,350.9 138.0,348.5 138.9,346.4 139.8,344.5 141.9,340.9 144.3,338.4 146.5,335.7 148.6,332.9 150.4,329.9 151.9,326.8 153.3,323.6 154.5,320.3 155.7,317.0 156.7,313.6 157.7,310.3 158.7,306.9 159.6,303.6 160.5,300.2 161.4,296.8 162.3,293.4 163.1,290.0 163.9,286.6 164.6,283.2 165.4,279.8 166.1,276.4 166.8,273.0 167.6,269.5 168.3,266.1 169.0,262.7 169.8,259.3 170.5,255.9 171.2,252.4 172.0,249.0 172.7,245.6 173.5,242.2 174.3,238.8 175.0,235.4 175.9,232.0 176.7,228.5 177.5,225.2 178.4,221.8 179.2,218.4 180.1,215.0 181.0,211.6 182.0,208.2 182.9,204.9 183.9,201.5 184.8,198.1 185.8,194.8 186.8,191.4 187.7,188.0 188.7,184.7 189.7,181.3 190.7,178.0 191.7,174.6 192.7,171.3 193.8,167.9 194.8,164.6 195.9,161.2 196.9,157.9 198.0,154.6 199.2,151.3 200.4,148.0 201.6,144.7 203.0,141.5 204.4,138.4 205.9,135.2 207.4,132.0 208.8,128.8 210.0,125.6 211.3,122.3 212.4,119.0 213.6,115.7 214.7,112.4 215.9,109.1 217.0,105.8 218.2,102.5 219.3,99.2 220.6,95.9 221.8,92.6 223.0,89.3 224.2,86.0 225.4,82.7 226.6,79.5 227.9,76.2 229.2,73.0 230.5,69.7 231.8,66.5 233.1,63.2 234.4,60.0 235.7,56.8 237.1,53.6 238.5,50.4 240.0,47.3 241.6,44.2 243.1,41.1 244.7,38.0 246.2,34.9 247.9,31.9 249.8,29.0 251.9,26.3 254.3,23.8 256.9,21.6 259.7,19.8 262.7,18.3 265.8,17.2 269.1,16.4 272.5,15.8 276.0,15.4 279.5,15.2 283.0,15.2 286.5,15.2 290.0,15.2 293.2,15.2 296.3,15.2 299.5,15.2 302.7,15.3 305.9,15.5 309.0,15.6 312.2,15.8 315.4,16.0 318.5,16.2 321.7,16.3 324.9,16.5 328.0,16.6 331.2,16.6 334.4,16.7 337.6,16.8 340.7,16.9 343.9,16.9 347.1,17.0 350.2,17.1 353.4,17.1 356.6,17.2 359.8,17.3 362.9,17.3 366.1,17.3 369.3,17.4 372.4,17.4 375.6,17.4 378.8,17.4 381.9,17.4 385.1,17.4 388.3,17.5 391.5,17.6 394.6,17.8 397.8,17.9 401.0,18.1 404.1,18.3 407.3,18.5 410.5,18.8 413.6,19.3 416.8,19.6 420.0,19.5 423.2,19.3 426.3,19.1 429.5,19.0 430.6,19.0 431.7,19.0 432.7,19.1 433.8,19.3 434.9,19.4 436.0,19.6 437.1,19.8 438.1,20.0 439.2,20.3 440.3,20.7 441.4,21.1 442.5,21.7 443.5,22.5 444.6,23.4 445.7,24.3 446.8,25.2 447.9,26.1 448.9,26.8 450.0,27.2 451.1,27.2 452.2,26.8 453.2,26.1 454.3,25.0 455.4,23.8 456.5,22.6 457.6,21.6 458.6,20.4 459.7,19.1 460.8,17.6 461.9,16.3 463.0,15.1 464.0,14.3 465.1,13.9 466.2,13.5 467.3,12.7 468.4,12.8 469.4,12.8 470.5,12.6 471.6,12.6 472.7,12.6 473.8,12.6 474.8,12.6 475.9,12.6 477.0,12.6 480.4,12.5 483.9,12.5 487.3,12.5 490.8,12.5 494.2,12.5 497.6,12.5 501.1,12.4 504.5,12.4 508.0,12.4 511.4,12.4 514.8,12.4 518.3,12.4 521.7,12.4 525.2,12.4 528.6,12.4 532.1,12.4 535.5,12.4 538.9,12.3 542.4,12.3 545.8,12.3 549.3,12.3 552.7,12.3 556.1,12.3 559.6,12.3 563.0,12.3 566.5,12.3 569.9,12.3 573.3,12.3 576.8,12.3 580.2,12.4 583.7,12.4 587.1,12.4 590.5,12.4 594.0,12.4 597.4,12.4 600.9,12.4 604.3,12.4 607.7,12.4 611.2,12.4 614.6,12.4 618.1,12.4 621.5,12.4 624.9,12.4 628.4,12.4 631.8,12.5 635.3,12.5 638.7,12.5 642.2,12.5 645.6,12.5 649.0,12.6 652.5,12.6 655.9,12.6 659.4,12.7 662.8,12.7 666.2,12.8 669.7,12.9 673.1,12.9 676.6,13.0 680.0,13.1 681.6,13.2 683.3,13.3 684.9,13.4 686.6,13.5 688.2,13.6 689.8,13.7 691.5,13.8 693.1,14.0 694.7,14.1 696.4,14.2 698.0,14.4 699.7,14.6 701.3,14.8 702.9,15.0 704.6,15.3 706.2,15.5 707.9,15.8 709.5,16.1 711.1,16.5 712.8,16.8 714.4,17.2 716.0,17.7 717.7,18.1 719.3,18.6 720.9,19.1 722.6,19.6 724.2,20.2 725.9,20.7 727.5,21.4 729.1,22.0 730.8,22.7 732.4,23.5 734.0,24.3 735.7,25.1 737.3,26.0 738.9,26.9 740.6,27.7 742.2,28.5 743.9,29.4 745.5,30.3 747.1,31.2 748.8,32.2 750.4,33.2 752.0,34.2 753.7,35.4 755.3,36.7 757.0,38.3 758.6,40.1 760.2,42.1 761.9,43.9 763.5,45.7 765.1,47.4 766.8,49.2 768.4,51.1 770.1,53.0 771.7,54.9 773.3,56.9 775.0,58.9 776.6,61.1 778.2,63.2 779.9,65.4 781.5,67.7 783.2,69.9 784.8,72.0 786.4,74.1 788.1,76.3 789.7,78.5 791.3,80.8 793.0,83.1 794.6,85.5 796.3,88.0 797.9,90.5 799.5,93.0 801.2,95.6 802.8,98.2 804.4,101.3 806.1,105.5 807.7,110.3 809.4,115.3 811.0,120.3 812.6,125.2 814.3,130.1 815.9,135.0 817.5,140.1 819.2,145.4 820.8,151.3 822.5,157.8 824.1,164.9 825.7,172.8" stroke="#A2142F"/>
<path d="M104.7,404.1 105.6,409.1 106.6,414.7 107.6,418.4 108.5,420.2 109.5,420.6 110.5,420.4 111.4,419.7 112.4,418.8 113.4,417.7 114.3,416.7 115.3,415.6 116.3,414.6 117.2,413.7 118.2,412.9 119.2,412.0 120.2,411.0 121.1,409.9 122.1,408.9 123.1,407.8 124.0,406.9 125.0,406.2 126.0,405.8 126.9,405.7 127.9,405.9 128.9,406.3 129.9,406.6 130.8,406.9 131.8,407.0 132.8,407.0 133.7,406.8 134.7,406.4 135.7,405.7 136.7,404.8 137.6,403.9 138.6,403.0 139.6,402.0 140.6,401.1 141.5,400.1 142.5,398.9 144.7,395.7 146.8,392.5 148.7,389.2 150.5,385.8 152.2,382.4 153.8,378.9 155.3,375.4 156.9,371.9 158.4,368.4 159.9,364.8 161.3,361.3 162.8,357.8 164.2,354.2 165.6,350.7 167.1,347.1 168.4,343.5 169.6,339.9 170.8,336.2 171.8,332.6 172.9,328.9 173.9,325.2 174.9,321.5 175.9,317.8 176.9,314.1 177.8,310.3 178.8,306.6 179.8,302.9 180.8,299.2 181.8,295.5 182.7,291.8 183.7,288.1 184.7,284.4 185.7,280.7 186.6,277.0 187.6,273.2 188.6,269.5 189.6,265.8 190.5,262.1 191.5,258.4 192.5,254.7 193.5,251.0 194.5,247.3 195.4,243.6 196.4,239.8 197.4,236.1 198.3,232.4 199.3,228.7 200.2,225.0 201.2,221.2 202.1,217.5 203.0,213.8 204.0,210.1 204.9,206.3 205.9,202.6 206.8,198.9 207.8,195.2 208.7,191.4 209.7,187.7 210.7,184.0 211.8,180.3 212.8,176.6 213.9,172.9 215.0,169.3 216.2,165.6 217.3,161.9 218.5,158.3 219.7,154.6 220.9,150.9 222.1,147.3 223.3,143.6 224.5,140.0 225.7,136.3 226.9,132.7 228.2,129.0 229.5,125.4 230.8,121.8 232.0,118.1 233.3,114.5 234.5,110.8 235.7,107.2 236.9,103.5 238.0,99.8 239.2,96.2 240.3,92.5 241.4,88.8 242.4,85.1 243.3,81.3 244.3,77.6 245.2,73.8 246.1,70.1 247.1,66.4 248.1,62.6 249.0,58.9 250.0,55.2 251.1,51.5 252.3,47.8 253.7,44.2 255.3,40.7 257.1,37.4 259.1,34.1 261.5,31.1 264.2,28.4 267.3,26.1 270.8,24.6 274.6,23.8 278.4,23.3 282.3,23.1 286.1,23.0 290.0,22.9 293.2,22.8 296.3,22.8 299.5,23.1 302.7,23.5 305.9,24.0 309.0,24.6 312.2,25.3 315.4,26.0 318.5,26.6 321.7,27.2 324.9,27.7 328.0,28.1 331.2,28.4 334.4,28.7 337.6,28.9 340.7,29.2 343.9,29.4 347.1,29.7 350.2,30.0 353.4,30.2 356.6,30.4 359.8,30.7 362.9,30.9 366.1,31.0 369.3,31.1 372.4,31.1 375.6,31.1 378.8,31.1 381.9,31.2 385.1,31.3 388.3,31.6 391.5,32.1 394.6,32.6 397.8,33.2 401.0,33.8 404.1,34.5 407.3,35.3 410.5,36.4 413.6,38.4 416.8,39.6 420.0,39.3 423.2,38.5 426.3,37.7 429.5,37.2 430.6,37.2 431.7,37.4 432.7,37.7 433.8,38.2 434.9,38.9 436.0,39.6 437.1,40.2 438.1,40.9 439.2,41.8 440.3,42.9 441.4,44.3 442.5,46.1 443.5,48.5 444.6,51.2 445.7,54.1 446.8,56.9 447.9,59.4 448.9,61.2 450.0,61.9 451.1,61.2 452.2,59.3 453.2,57.0 454.3,53.8 455.4,50.1 456.5,46.7 457.6,43.4 458.6,39.9 459.7,35.8 460.8,31.0 461.9,26.6 463.0,22.2 464.0,19.5 465.1,17.8 466.2,16.5 467.3,13.4 468.4,13.9 469.4,13.9 470.5,13.1 471.6,13.1 472.7,13.0 473.8,13.0 474.8,13.0 475.9,13.0 477.0,13.0 480.4,12.9 483.9,12.9 487.3,12.9 490.8,12.8 494.2,12.8 497.6,12.8 501.1,12.7 504.5,12.7 508.0,12.7 511.4,12.7 514.8,12.7 518.3,12.6 521.7,12.6 525.2,12.6 528.6,12.6 532.1,12.6 535.5,12.6 538.9,12.6 542.4,12.6 545.8,12.6 549.3,12.6 552.7,12.6 556.1,12.6 559.6,12.6 563.0,12.6 566.5,12.7 569.9,12.7 573.3,12.7 576.8,12.7 580.2,12.8 583.7,12.8 587.1,12.8 590.5,12.9 594.0,12.9 597.4,12.9 600.9,12.9 604.3,13.0 607.7,13.0 611.2,13.0 614.6,13.0 618.1,13.1 621.5,13.1 624.9,13.1 628.4,13.2 631.8,13.2 635.3,13.3 638.7,13.3 642.2,13.4 645.6,13.5 649.0,13.6 652.5,13.7 655.9,13.8 659.4,13.9 662.8,14.0 666.2,14.2 669.7,14.4 673.1,14.6 676.6,14.9 680.0,15.2 681.6,15.3 683.3,15.3 684.9,15.4 686.5,15.5 688.2,15.6 689.8,15.7 691.5,15.8 693.1,15.9 694.7,16.0 696.4,16.1 698.0,16.3 699.6,16.4 701.3,16.5 702.9,16.6 704.6,16.7 706.2,16.8 707.8,17.0 709.5,17.1 711.1,17.2 712.8,17.4 714.4,17.5 716.0,17.6 717.7,17.7 719.3,17.7 721.0,17.8 722.6,17.8 724.2,17.8 725.9,17.8 727.5,17.8 729.2,17.8 730.8,17.8 732.5,17.7 734.1,17.6 735.8,17.5 737.4,17.4 739.0,17.4 740.7,17.8 742.3,18.1 744.0,18.5 745.6,18.9 747.2,19.3 748.9,19.8 750.5,20.2 752.2,20.7 753.8,21.2 755.4,21.7 757.1,22.3 758.7,22.9 760.4,23.6 762.0,24.3 763.6,24.9 765.3,25.6 766.9,26.4 768.6,27.2 770.2,28.0 771.8,28.9 773.5,29.8 775.1,30.8 776.8,31.8 778.4,32.9 780.0,34.0 781.7,35.2 783.3,36.4 785.0,37.7 786.6,39.0 788.2,40.4 789.9,42.0 791.5,43.7 793.2,45.5 794.8,47.4 796.4,49.5 798.1,51.6 799.7,53.7 801.4,55.8 803.0,58.0 804.6,60.4 806.3,63.0 807.9,65.7 809.6,68.6 811.2,71.5 812.8,74.4 814.5,77.2 816.1,80.1 817.8,83.2 819.4,87.0 821.0,91.7 822.7,97.6 824.3,104.3 826.0,111.0" stroke="#0072BD"/>
<path d="M104.8,392.3 105.8,397.5 106.7,403.5 107.6,407.7 108.6,409.7 109.5,409.9 110.4,409.3 111.4,408.0 112.3,406.4 113.2,404.7 114.2,402.9 115.1,401.0 116.0,399.2 116.9,397.6 117.9,396.1 118.8,394.5 119.7,392.9 120.7,391.1 121.6,389.3 122.5,387.5 123.5,385.9 124.4,384.5 125.3,383.4 126.2,382.8 127.2,382.7 128.1,382.8 129.0,383.1 129.9,383.3 130.9,383.4 131.8,383.2 132.7,382.9 133.7,382.2 134.6,381.2 135.5,379.9 136.4,378.3 137.4,376.4 138.3,374.4 139.2,372.7 140.1,371.0 141.1,369.4 143.2,366.1 145.4,363.1 147.5,360.0 149.4,356.8 151.2,353.5 152.8,350.1 154.2,346.6 155.6,343.1 156.9,339.5 158.1,336.0 159.3,332.4 160.4,328.9 161.6,325.3 162.7,321.7 163.8,318.1 164.9,314.5 165.8,310.9 166.7,307.3 167.6,303.6 168.5,300.0 169.3,296.3 170.1,292.7 170.9,289.0 171.7,285.4 172.5,281.7 173.3,278.0 174.1,274.4 175.0,270.7 175.8,267.1 176.6,263.4 177.4,259.8 178.2,256.2 179.1,252.5 179.9,248.9 180.8,245.3 181.6,241.6 182.5,238.0 183.4,234.4 184.3,230.8 185.2,227.2 186.1,223.6 187.0,220.0 188.0,216.4 188.9,212.8 189.8,209.2 190.8,205.6 191.7,202.0 192.7,198.4 193.6,194.9 194.6,191.3 195.5,187.7 196.5,184.1 197.4,180.6 198.4,177.0 199.4,173.5 200.4,169.9 201.5,166.4 202.5,162.8 203.6,159.3 204.8,155.9 206.0,152.4 207.3,149.0 208.7,145.6 210.0,142.2 211.3,138.8 212.6,135.3 213.7,131.8 214.9,128.4 216.1,124.9 217.2,121.4 218.3,117.9 219.5,114.4 220.6,110.9 221.8,107.5 223.0,104.0 224.2,100.6 225.4,97.1 226.6,93.7 227.8,90.2 229.0,86.8 230.2,83.3 231.5,79.9 232.7,76.5 233.9,73.1 235.2,69.7 236.4,66.3 237.6,62.8 238.8,59.5 240.1,56.2 241.5,52.9 243.0,49.7 244.4,46.4 245.7,43.1 247.2,39.9 248.7,36.7 250.4,33.6 252.4,30.7 254.5,28.0 256.9,25.5 259.5,23.3 262.4,21.5 265.4,19.9 268.7,18.8 272.1,18.0 275.7,17.5 279.2,17.2 282.8,17.2 286.4,17.1 290.0,17.1 293.2,17.1 296.3,17.1 299.5,17.2 302.7,17.3 305.9,17.6 309.0,17.9 312.2,18.2 315.4,18.5 318.5,18.8 321.7,19.0 324.9,19.2 328.0,19.4 331.2,19.5 334.4,19.7 337.6,19.8 340.7,19.9 343.9,20.0 347.1,20.1 350.2,20.2 353.4,20.4 356.6,20.5 359.8,20.6 362.9,20.6 366.1,20.7 369.3,20.8 372.4,20.8 375.6,20.8 378.8,20.8 381.9,20.8 385.1,20.9 388.3,21.0 391.5,21.2 394.6,21.4 397.8,21.7 401.0,22.0 404.1,22.3 407.3,22.6 410.5,23.1 413.6,24.0 416.8,24.5 420.0,24.4 423.2,24.1 426.3,23.7 429.5,23.5 430.6,23.5 431.7,23.6 432.7,23.7 433.8,23.9 434.9,24.2 436.0,24.5 437.1,24.9 438.1,25.2 439.2,25.6 440.3,26.2 441.4,26.8 442.5,27.7 443.5,28.9 444.6,30.2 445.7,31.6 446.8,33.0 447.9,34.3 448.9,35.3 450.0,35.8 451.1,35.6 452.2,34.8 453.2,33.7 454.3,32.1 455.4,30.3 456.5,28.6 457.6,27.0 458.6,25.2 459.7,23.2 460.8,20.9 461.9,18.9 463.0,16.9 464.0,15.6 465.1,14.8 466.2,14.3 467.3,12.9 468.4,13.1 469.4,13.1 470.5,12.7 471.6,12.7 472.7,12.7 473.8,12.7 474.8,12.7 475.9,12.7 477.0,12.7 480.4,12.6 483.9,12.6 487.3,12.6 490.8,12.6 494.2,12.6 497.6,12.5 501.1,12.5 504.5,12.5 508.0,12.5 511.4,12.5 514.8,12.5 518.3,12.5 521.7,12.4 525.2,12.4 528.6,12.4 532.1,12.4 535.5,12.4 538.9,12.4 542.4,12.4 545.8,12.4 549.3,12.4 552.7,12.4 556.1,12.4 559.6,12.4 563.0,12.4 566.5,12.4 569.9,12.4 573.3,12.4 576.8,12.4 580.2,12.5 583.7,12.5 587.1,12.5 590.5,12.5 594.0,12.5 597.4,12.5 600.9,12.5 604.3,12.5 607.7,12.5 611.2,12.6 614.6,12.6 618.1,12.6 621.5,12.6 624.9,12.6 628.4,12.6 631.8,12.7 635.3,12.7 638.7,12.7 642.2,12.7 645.6,12.8 649.0,12.8 652.5,12.9 655.9,12.9 659.4,13.0 662.8,13.1 666.2,13.1 669.7,13.2 673.1,13.3 676.6,13.5 680.0,13.6 681.6,13.7 683.3,13.9 684.9,14.0 686.6,14.1 688.2,14.3 689.8,14.4 691.5,14.6 693.1,14.7 694.7,14.9 696.4,15.1 698.0,15.4 699.7,15.6 701.3,15.9 702.9,16.2 704.6,16.5 706.2,16.8 707.8,17.2 709.5,17.6 711.1,18.1 712.7,18.6 714.4,19.1 716.0,19.6 717.7,20.2 719.3,20.8 720.9,21.4 722.6,22.0 724.2,22.7 725.8,23.4 727.5,24.2 729.1,25.0 730.7,25.8 732.4,26.7 734.0,27.7 735.6,28.7 737.3,29.8 738.9,30.9 740.5,31.9 742.2,32.9 743.8,34.0 745.5,35.1 747.1,36.3 748.7,37.5 750.4,38.7 752.0,40.0 753.6,41.4 755.3,43.1 756.9,45.0 758.5,47.4 760.2,50.0 761.8,52.3 763.5,54.4 765.1,56.6 766.7,58.9 768.4,61.2 770.0,63.5 771.6,65.9 773.3,68.3 774.9,70.8 776.5,73.4 778.2,76.1 779.8,78.7 781.5,81.4 783.1,84.0 784.7,86.5 786.4,89.0 788.0,91.5 789.6,94.0 791.3,96.5 792.9,99.0 794.5,101.6 796.2,104.3 797.8,107.0 799.5,109.6 801.1,112.5 802.7,115.2 804.4,118.6 806.0,123.5 807.6,129.1 809.3,135.1 810.9,141.0 812.6,146.8 814.2,152.5 815.8,158.3 817.5,164.1 819.1,170.2 820.7,176.5 822.4,183.3 824.0,190.6 825.6,198.9" stroke="#D95319"/>
<path d="M104.7,399.8 105.7,404.8 106.6,410.5 107.6,414.4 108.5,416.3 109.5,416.6 110.5,416.1 111.4,415.2 112.4,414.0 113.3,412.7 114.3,411.3 115.2,409.9 116.2,408.5 117.1,407.3 118.1,406.1 119.0,404.8 120.0,403.3 120.9,401.8 121.9,400.1 122.8,398.6 123.8,397.2 124.7,396.1 125.7,395.4 126.6,395.2 127.6,395.5 128.5,396.0 129.5,396.7 130.5,397.2 131.4,397.6 132.4,397.7 133.3,397.5 134.3,396.9 135.2,396.0 136.2,394.7 137.1,393.2 138.1,391.6 139.0,390.0 140.0,388.6 140.9,387.2 141.9,385.7 144.0,382.4 146.1,379.3 148.2,376.1 150.0,372.7 151.7,369.3 153.3,365.8 154.8,362.3 156.3,358.8 157.7,355.2 159.1,351.7 160.4,348.1 161.7,344.5 163.0,340.9 164.3,337.4 165.6,333.8 166.8,330.2 167.9,326.5 168.9,322.8 169.9,319.2 170.8,315.5 171.8,311.8 172.7,308.1 173.6,304.4 174.5,300.7 175.4,297.0 176.3,293.3 177.1,289.5 178.0,285.9 178.9,282.2 179.8,278.5 180.7,274.8 181.6,271.1 182.5,267.4 183.4,263.7 184.4,260.0 185.3,256.3 186.2,252.6 187.1,248.9 188.1,245.2 189.0,241.6 190.0,237.9 190.9,234.2 191.9,230.5 192.8,226.9 193.8,223.2 194.7,219.5 195.6,215.8 196.6,212.2 197.5,208.5 198.5,204.8 199.4,201.2 200.3,197.5 201.3,193.8 202.3,190.2 203.2,186.5 204.2,182.9 205.2,179.2 206.2,175.6 207.3,172.0 208.4,168.4 209.5,164.8 210.7,161.2 211.9,157.7 213.2,154.1 214.4,150.5 215.6,147.0 216.8,143.4 217.9,139.8 219.1,136.2 220.3,132.7 221.5,129.1 222.6,125.5 223.8,121.9 225.0,118.3 226.3,114.8 227.5,111.3 228.7,107.7 229.9,104.1 231.2,100.6 232.4,97.0 233.6,93.5 234.8,89.9 236.0,86.3 237.1,82.8 238.3,79.2 239.4,75.6 240.5,72.1 241.5,68.5 242.6,65.0 243.8,61.5 245.0,58.0 246.2,54.5 247.4,51.0 248.6,47.5 249.9,44.1 251.3,40.7 253.0,37.5 254.9,34.3 257.0,31.4 259.3,28.7 262.0,26.3 264.8,24.2 268.0,22.5 271.5,21.3 275.1,20.6 278.8,20.3 282.5,20.1 286.3,20.1 290.0,20.0 293.2,20.0 296.3,20.0 299.5,20.1 302.7,20.4 305.9,20.8 309.0,21.2 312.2,21.7 315.4,22.2 318.5,22.7 321.7,23.1 324.9,23.4 328.0,23.7 331.2,24.0 334.4,24.2 337.6,24.4 340.7,24.5 343.9,24.7 347.1,24.9 350.2,25.1 353.4,25.3 356.6,25.4 359.8,25.6 362.9,25.7 366.1,25.9 369.3,25.9 372.4,25.9 375.6,25.9 378.8,25.9 381.9,26.0 385.1,26.1 388.3,26.3 391.5,26.6 394.6,27.0 397.8,27.4 401.0,27.9 404.1,28.4 407.3,29.0 410.5,29.7 413.6,31.2 416.8,32.0 420.0,31.8 423.2,31.3 426.3,30.7 429.5,30.3 430.6,30.4 431.7,30.5 432.7,30.7 433.8,31.1 434.9,31.5 436.0,32.0 437.1,32.5 438.1,33.0 439.2,33.7 440.3,34.5 441.4,35.6 442.5,36.9 443.5,38.7 444.6,40.7 445.7,42.8 446.8,44.9 447.9,46.8 448.9,48.2 450.0,48.8 451.1,48.4 452.2,47.0 453.2,45.3 454.3,42.9 455.4,40.2 456.5,37.6 457.6,35.2 458.6,32.5 459.7,29.5 460.8,26.0 461.9,22.7 463.0,19.5 464.0,17.6 465.1,16.3 466.2,15.4 467.3,13.1 468.4,13.5 469.4,13.5 470.5,12.9 471.6,12.9 472.7,12.9 473.8,12.9 474.8,12.8 475.9,12.8 477.0,12.8 480.4,12.8 483.9,12.7 487.3,12.7 490.8,12.7 494.2,12.7 497.6,12.6 501.1,12.6 504.5,12.6 508.0,12.6 511.4,12.6 514.8,12.6 518.3,12.6 521.7,12.5 525.2,12.5 528.6,12.5 532.1,12.5 535.5,12.5 538.9,12.5 542.4,12.5 545.8,12.5 549.3,12.5 552.7,12.5 556.1,12.5 559.6,12.5 563.0,12.5 566.5,12.5 569.9,12.6 573.3,12.6 576.8,12.6 580.2,12.6 583.7,12.6 587.1,12.7 590.5,12.7 594.0,12.7 597.4,12.7 600.9,12.7 604.3,12.7 607.7,12.8 611.2,12.8 614.6,12.8 618.1,12.8 621.5,12.8 624.9,12.9 628.4,12.9 631.8,12.9 635.3,13.0 638.7,13.0 642.2,13.1 645.6,13.1 649.0,13.2 652.5,13.3 655.9,13.3 659.4,13.4 662.8,13.6 666.2,13.7 669.7,13.8 673.1,14.0 676.6,14.2 680.0,14.4 681.6,14.5 683.3,14.6 684.9,14.8 686.5,14.9 688.2,15.1 689.8,15.2 691.5,15.4 693.1,15.6 694.7,15.8 696.4,16.0 698.0,16.2 699.6,16.5 701.3,16.8 702.9,17.1 704.5,17.4 706.2,17.7 707.8,18.1 709.5,18.5 711.1,18.9 712.7,19.4 714.4,19.8 716.0,20.3 717.6,20.9 719.3,21.4 720.9,21.9 722.6,22.5 724.2,23.0 725.8,23.6 727.5,24.3 729.1,24.9 730.7,25.6 732.4,26.4 734.0,27.2 735.6,28.0 737.3,28.9 738.9,29.8 740.6,30.7 742.2,31.7 743.8,32.8 745.5,33.8 747.1,34.9 748.7,36.1 750.4,37.2 752.0,38.4 753.7,39.8 755.3,41.3 756.9,43.2 758.6,45.4 760.2,47.8 761.8,50.0 763.5,52.1 765.1,54.1 766.7,56.3 768.4,58.4 770.0,60.7 771.7,62.9 773.3,65.2 774.9,67.6 776.6,70.1 778.2,72.6 779.8,75.2 781.5,77.7 783.1,80.2 784.7,82.6 786.4,85.0 788.0,87.4 789.7,89.8 791.3,92.2 792.9,94.7 794.6,97.3 796.2,99.9 797.8,102.5 799.5,105.1 801.1,107.9 802.8,110.6 804.4,113.9 806.0,118.6 807.7,124.0 809.3,129.7 810.9,135.4 812.6,141.0 814.2,146.5 815.8,152.0 817.5,157.6 819.1,163.5 820.8,169.7 822.4,176.4 824.0,183.6 825.7,191.8" stroke="#EDB120"/>
<path d="M105.0,381.9 105.9,387.5 106.8,393.9 107.7,398.6 108.6,400.8 109.5,401.0 110.4,400.1 111.3,398.4 112.2,396.5 113.1,394.2 114.0,391.9 114.9,389.6 115.8,387.3 116.7,385.1 117.6,383.1 118.5,381.1 119.4,378.9 120.3,376.6 121.2,374.2 122.1,371.7 123.0,369.3 123.9,367.2 124.8,365.7 125.7,364.9 126.6,364.7 127.5,365.2 128.5,366.0 129.4,366.8 130.3,367.5 131.2,368.0 132.1,368.2 133.0,367.9 133.9,367.2 134.8,365.8 135.7,363.9 136.6,361.4 137.5,358.7 138.4,356.2 139.3,354.1 140.2,352.1 142.3,348.5 144.6,345.8 146.8,343.1 148.8,340.2 150.6,337.1 152.2,334.0 153.6,330.7 154.9,327.4 156.0,324.0 157.2,320.7 158.2,317.3 159.2,313.9 160.2,310.5 161.2,307.1 162.2,303.7 163.1,300.3 164.0,296.9 164.8,293.4 165.6,290.0 166.4,286.5 167.2,283.1 167.9,279.6 168.7,276.1 169.5,272.7 170.2,269.2 171.0,265.7 171.8,262.3 172.5,258.8 173.3,255.4 174.1,251.9 174.9,248.4 175.7,245.0 176.5,241.5 177.3,238.1 178.2,234.6 179.0,231.2 179.9,227.7 180.8,224.3 181.7,220.9 182.6,217.4 183.5,214.0 184.5,210.6 185.4,207.2 186.4,203.8 187.4,200.4 188.3,196.9 189.3,193.5 190.3,190.1 191.3,186.7 192.3,183.3 193.3,179.9 194.3,176.5 195.3,173.1 196.3,169.7 197.3,166.3 198.4,162.9 199.5,159.6 200.6,156.2 201.8,152.8 203.0,149.5 204.3,146.3 205.7,143.0 207.1,139.8 208.6,136.5 209.9,133.3 211.2,130.0 212.4,126.6 213.6,123.3 214.7,119.9 215.9,116.6 217.0,113.2 218.2,109.9 219.3,106.5 220.5,103.2 221.8,99.8 223.0,96.5 224.2,93.2 225.4,89.8 226.6,86.5 227.8,83.2 229.1,79.9 230.4,76.5 231.6,73.2 232.9,69.9 234.2,66.6 235.5,63.3 236.7,60.0 238.0,56.8 239.4,53.5 240.8,50.3 242.3,47.2 243.8,44.0 245.2,40.8 246.7,37.6 248.3,34.5 250.1,31.5 252.2,28.7 254.4,26.0 256.9,23.7 259.6,21.7 262.5,20.0 265.6,18.7 268.9,17.7 272.3,17.0 275.8,16.5 279.4,16.3 282.9,16.3 286.5,16.3 290.0,16.2 293.2,16.2 296.3,16.2 299.5,16.3 302.7,16.4 305.9,16.6 309.0,16.8 312.2,17.1 315.4,17.3 318.5,17.6 321.7,17.8 324.9,18.0 328.0,18.1 331.2,18.2 334.4,18.3 337.6,18.4 340.7,18.5 343.9,18.6 347.1,18.7 350.2,18.8 353.4,18.9 356.6,19.0 359.8,19.0 362.9,19.1 366.1,19.2 369.3,19.2 372.4,19.2 375.6,19.2 378.8,19.2 381.9,19.2 385.1,19.3 388.3,19.4 391.5,19.6 394.6,19.7 397.8,20.0 401.0,20.2 404.1,20.4 407.3,20.7 410.5,21.1 413.6,21.8 416.8,22.3 420.0,22.2 423.2,21.9 426.3,21.6 429.5,21.4 430.6,21.4 431.7,21.5 432.7,21.6 433.8,21.8 434.9,22.0 436.0,22.3 437.1,22.5 438.1,22.8 439.2,23.2 440.3,23.6 441.4,24.2 442.5,25.0 443.5,26.0 444.6,27.1 445.7,28.3 446.8,29.4 447.9,30.5 448.9,31.4 450.0,31.8 451.1,31.7 452.2,31.1 453.2,30.2 454.3,28.8 455.4,27.3 456.5,25.8 457.6,24.5 458.6,23.0 459.7,21.3 460.8,19.4 461.9,17.7 463.0,16.0 464.0,15.0 465.1,14.4 466.2,13.9 467.3,12.8 468.4,13.0 469.4,13.0 470.5,12.6 471.6,12.6 472.7,12.6 473.8,12.6 474.8,12.6 475.9,12.6 477.0,12.6 480.4,12.6 483.9,12.6 487.3,12.5 490.8,12.5 494.2,12.5 497.6,12.5 501.1,12.5 504.5,12.5 508.0,12.5 511.4,12.4 514.8,12.4 518.3,12.4 521.7,12.4 525.2,12.4 528.6,12.4 532.1,12.4 535.5,12.4 538.9,12.4 542.4,12.4 545.8,12.4 549.3,12.4 552.7,12.4 556.1,12.4 559.6,12.4 563.0,12.4 566.5,12.4 569.9,12.4 573.3,12.4 576.8,12.4 580.2,12.4 583.7,12.4 587.1,12.4 590.5,12.4 594.0,12.4 597.4,12.5 600.9,12.5 604.3,12.5 607.7,12.5 611.2,12.5 614.6,12.5 618.1,12.5 621.5,12.5 624.9,12.5 628.4,12.5 631.8,12.6 635.3,12.6 638.7,12.6 642.2,12.6 645.6,12.7 649.0,12.7 652.5,12.7 655.9,12.8 659.4,12.8 662.8,12.9 666.2,13.0 669.7,13.1 673.1,13.2 676.6,13.3 680.0,13.4 681.6,13.5 683.3,13.5 684.9,13.6 686.6,13.7 688.2,13.8 689.8,13.9 691.5,14.0 693.1,14.1 694.7,14.2 696.4,14.3 698.0,14.4 699.7,14.5 701.3,14.7 702.9,14.9 704.6,15.0 706.2,15.2 707.9,15.4 709.5,15.6 711.1,15.9 712.8,16.1 714.4,16.4 716.0,16.7 717.7,17.0 719.3,17.3 721.0,17.7 722.6,18.0 724.2,18.3 725.9,18.7 727.5,19.1 729.2,19.5 730.8,20.0 732.4,20.4 734.1,20.9 735.7,21.4 737.4,22.0 739.0,22.5 740.6,23.1 742.3,23.8 743.9,24.4 745.5,25.1 747.2,25.8 748.8,26.5 750.5,27.2 752.1,28.0 753.7,28.9 755.4,29.8 757.0,30.9 758.7,32.2 760.3,33.6 761.9,34.9 763.6,36.2 765.2,37.4 766.8,38.8 768.5,40.1 770.1,41.5 771.8,43.0 773.4,44.5 775.0,46.0 776.7,47.6 778.3,49.3 780.0,51.0 781.6,52.8 783.2,54.5 784.9,56.3 786.5,58.0 788.2,59.9 789.8,61.8 791.4,63.8 793.1,65.9 794.7,68.1 796.3,70.4 798.0,72.7 799.6,75.0 801.3,77.4 802.9,79.8 804.5,82.6 806.2,86.0 807.8,89.9 809.5,93.9 811.1,98.0 812.7,101.9 814.4,105.9 816.0,109.8 817.6,114.0 819.3,118.6 820.9,124.0 822.6,130.2 824.2,137.1 825.8,144.4" stroke="#7E2F8E"/>
<path d="M104.9,387.4 105.8,392.8 106.7,399.1 107.7,403.5 108.6,405.6 109.5,405.9 110.4,405.1 111.3,403.7 112.3,402.0 113.2,400.1 114.1,398.1 115.0,396.0 115.9,394.1 116.9,392.3 117.8,390.6 118.7,389.0 119.6,387.2 120.5,385.4 121.4,383.5 122.4,381.6 123.3,379.9 124.2,378.3 125.1,377.2 126.0,376.5 127.0,376.3 127.9,376.5 128.8,376.8 129.7,377.1 130.6,377.3 131.6,377.3 132.5,377.0 133.4,376.4 134.3,375.5 135.2,374.2 136.2,372.6 137.1,370.6 138.0,368.6 138.9,366.8 139.8,365.1 140.8,363.5 142.9,360.3 145.1,357.4 147.3,354.6 149.3,351.5 151.0,348.3 152.6,345.1 154.0,341.7 155.3,338.3 156.6,334.9 157.8,331.5 159.0,328.0 160.1,324.6 161.2,321.1 162.3,317.7 163.4,314.2 164.4,310.7 165.3,307.2 166.2,303.7 167.1,300.2 167.9,296.6 168.8,293.1 169.6,289.5 170.4,286.0 171.2,282.4 172.0,278.9 172.8,275.4 173.6,271.8 174.5,268.3 175.3,264.7 176.1,261.2 176.9,257.6 177.8,254.1 178.6,250.6 179.5,247.0 180.3,243.5 181.2,240.0 182.1,236.5 183.0,232.9 183.9,229.4 184.8,225.9 185.8,222.4 186.7,218.9 187.7,215.4 188.7,211.9 189.6,208.4 190.6,204.9 191.5,201.4 192.5,197.9 193.5,194.4 194.4,190.9 195.4,187.4 196.4,183.9 197.4,180.4 198.4,176.9 199.4,173.4 200.4,170.0 201.5,166.5 202.6,163.0 203.7,159.6 204.9,156.2 206.1,152.8 207.5,149.4 208.8,146.1 210.2,142.7 211.5,139.4 212.7,136.0 213.9,132.5 215.1,129.1 216.3,125.7 217.4,122.3 218.6,118.8 219.7,115.4 220.9,111.9 222.1,108.5 223.4,105.1 224.6,101.7 225.8,98.3 227.0,94.9 228.2,91.5 229.4,88.1 230.7,84.7 231.9,81.3 233.2,77.9 234.4,74.5 235.6,71.1 236.9,67.7 238.1,64.3 239.3,60.9 240.5,57.6 241.9,54.3 243.3,51.0 244.7,47.7 246.0,44.4 247.4,41.1 248.9,37.9 250.5,34.7 252.5,31.8 254.6,29.0 256.9,26.4 259.5,24.2 262.3,22.2 265.3,20.6 268.6,19.4 272.0,18.5 275.6,18.0 279.2,17.7 282.8,17.6 286.4,17.6 290.0,17.6 293.2,17.5 296.3,17.5 299.5,17.6 302.7,17.8 305.9,18.1 309.0,18.4 312.2,18.7 315.4,19.1 318.5,19.4 321.7,19.7 324.9,19.9 328.0,20.1 331.2,20.3 334.4,20.4 337.6,20.5 340.7,20.6 343.9,20.8 347.1,20.9 350.2,21.0 353.4,21.1 356.6,21.3 359.8,21.4 362.9,21.5 366.1,21.5 369.3,21.6 372.4,21.6 375.6,21.6 378.8,21.6 381.9,21.6 385.1,21.7 388.3,21.8 391.5,22.1 394.6,22.3 397.8,22.6 401.0,22.9 404.1,23.3 407.3,23.6 410.5,24.2 413.6,25.2 416.8,25.7 420.0,25.6 423.2,25.2 426.3,24.8 429.5,24.6 430.6,24.6 431.7,24.7 432.7,24.8 433.8,25.1 434.9,25.4 436.0,25.7 437.1,26.1 438.1,26.4 439.2,26.9 440.3,27.5 441.4,28.2 442.5,29.2 443.5,30.5 444.6,31.9 445.7,33.4 446.8,34.9 447.9,36.3 448.9,37.3 450.0,37.9 451.1,37.6 452.2,36.7 453.2,35.6 454.3,33.8 455.4,31.9 456.5,30.0 457.6,28.3 458.6,26.4 459.7,24.2 460.8,21.7 461.9,19.5 463.0,17.3 464.0,15.9 465.1,15.1 466.2,14.4 467.3,12.9 468.4,13.2 469.4,13.1 470.5,12.7 471.6,12.7 472.7,12.7 473.8,12.7 474.8,12.7 475.9,12.7 477.0,12.7 480.4,12.7 483.9,12.6 487.3,12.6 490.8,12.6 494.2,12.6 497.6,12.6 501.1,12.5 504.5,12.5 508.0,12.5 511.4,12.5 514.8,12.5 518.3,12.5 521.7,12.5 525.2,12.5 528.6,12.4 532.1,12.4 535.5,12.4 538.9,12.4 542.4,12.4 545.8,12.4 549.3,12.4 552.7,12.4 556.1,12.4 559.6,12.4 563.0,12.4 566.5,12.4 569.9,12.4 573.3,12.5 576.8,12.5 580.2,12.5 583.7,12.5 587.1,12.5 590.5,12.5 594.0,12.5 597.4,12.5 600.9,12.6 604.3,12.6 607.7,12.6 611.2,12.6 614.6,12.6 618.1,12.6 621.5,12.6 624.9,12.7 628.4,12.7 631.8,12.7 635.3,12.7 638.7,12.8 642.2,12.8 645.6,12.8 649.0,12.9 652.5,12.9 655.9,13.0 659.4,13.1 662.8,13.1 666.2,13.2 669.7,13.3 673.1,13.4 676.6,13.6 680.0,13.8 681.6,13.8 683.3,13.9 684.9,13.9 686.6,14.0 688.2,14.0 689.8,14.1 691.5,14.2 693.1,14.2 694.7,14.3 696.4,14.4 698.0,14.4 699.7,14.5 701.3,14.6 702.9,14.7 704.6,14.8 706.2,14.9 707.9,15.0 709.5,15.1 711.1,15.2 712.8,15.3 714.4,15.4 716.1,15.5 717.7,15.7 719.3,15.8 721.0,15.9 722.6,16.0 724.3,16.1 725.9,16.2 727.5,16.4 729.2,16.5 730.8,16.6 732.5,16.7 734.1,16.8 735.8,16.9 737.4,17.0 739.0,17.2 740.7,17.6 742.3,17.9 744.0,18.3 745.6,18.7 747.2,19.1 748.9,19.5 750.5,19.9 752.2,20.4 753.8,20.8 755.4,21.4 757.1,21.9 758.7,22.5 760.4,23.2 762.0,23.8 763.6,24.5 765.3,25.2 766.9,25.9 768.6,26.7 770.2,27.5 771.8,28.3 773.5,29.2 775.1,30.2 776.8,31.2 778.4,32.2 780.0,33.3 781.7,34.5 783.3,35.7 785.0,36.9 786.6,38.2 788.2,39.6 789.9,41.2 791.5,42.9 793.2,44.7 794.8,46.6 796.4,48.7 798.1,50.7 799.7,52.8 801.4,54.9 803.0,57.1 804.6,59.5 806.3,62.1 807.9,64.8 809.6,67.6 811.2,70.4 812.8,73.3 814.5,76.1 816.1,78.9 817.8,82.0 819.4,85.7 821.0,90.4 822.7,96.3 824.3,103.0 826.0,109.6" stroke="#77AC30"/>
<path d="M104.8,397.2 105.7,402.3 106.7,408.1 107.6,412.1 108.6,414.0 109.5,414.3 110.4,413.8 111.4,412.8 112.3,411.5 113.3,410.1 114.2,408.5 115.2,407.0 116.1,405.5 117.1,404.2 118.0,402.9 119.0,401.5 119.9,400.0 120.9,398.4 121.8,396.8 122.7,395.1 123.7,393.7 124.6,392.5 125.6,391.8 126.5,391.5 127.5,391.7 128.4,392.1 129.4,392.7 130.3,393.2 131.3,393.5 132.2,393.6 133.1,393.5 134.1,392.9 135.0,392.0 136.0,390.7 136.9,389.2 137.9,387.6 138.8,385.9 139.8,384.4 140.7,382.9 141.6,381.5 143.8,378.4 146.0,375.5 148.0,372.5 149.9,369.4 151.6,366.2 153.2,362.9 154.7,359.6 156.2,356.3 157.6,352.9 158.9,349.5 160.3,346.2 161.6,342.8 162.8,339.4 164.1,336.0 165.4,332.6 166.6,329.1 167.8,325.7 168.8,322.2 169.8,318.7 170.8,315.1 171.7,311.6 172.7,308.1 173.6,304.5 174.5,301.0 175.5,297.5 176.4,293.9 177.3,290.4 178.3,286.8 179.2,283.3 180.1,279.8 181.1,276.2 182.0,272.7 182.9,269.1 183.9,265.6 184.9,262.0 185.8,258.5 186.8,254.9 187.8,251.4 188.7,247.8 189.7,244.3 190.7,240.7 191.7,237.2 192.7,233.6 193.7,230.1 194.7,226.5 195.7,222.9 196.6,219.4 197.6,215.8 198.6,212.2 199.6,208.7 200.5,205.1 201.5,201.5 202.5,198.0 203.5,194.4 204.5,190.8 205.5,187.3 206.5,183.7 207.5,180.1 208.6,176.6 209.7,173.0 210.8,169.5 212.0,166.0 213.2,162.5 214.4,159.0 215.6,155.4 216.9,151.9 218.1,148.4 219.3,144.9 220.5,141.3 221.7,137.8 222.9,134.3 224.1,130.7 225.3,127.2 226.6,123.7 227.9,120.2 229.2,116.7 230.4,113.1 231.7,109.6 232.9,106.1 234.2,102.5 235.4,99.0 236.6,95.4 237.8,91.9 238.9,88.3 240.1,84.7 241.1,81.1 242.2,77.5 243.1,73.9 244.1,70.2 245.1,66.6 246.2,62.9 247.3,59.3 248.3,55.7 249.4,52.0 250.6,48.4 251.9,44.9 253.4,41.4 255.1,38.1 257.1,34.9 259.2,31.9 261.7,29.1 264.4,26.6 267.6,24.6 271.1,23.3 274.8,22.5 278.6,22.1 282.4,21.9 286.2,21.8 290.0,21.7 293.2,21.7 296.3,21.7 299.5,21.9 302.7,22.2 305.9,22.7 309.0,23.2 312.2,23.8 315.4,24.4 318.5,25.0 321.7,25.5 324.9,25.9 328.0,26.3 331.2,26.6 334.4,26.8 337.6,27.1 340.7,27.3 343.9,27.5 347.1,27.7 350.2,28.0 353.4,28.2 356.6,28.4 359.8,28.6 362.9,28.8 366.1,28.9 369.3,29.0 372.4,29.0 375.6,29.0 378.8,29.0 381.9,29.0 385.1,29.2 388.3,29.5 391.5,29.8 394.6,30.3 397.8,30.8 401.0,31.4 404.1,32.0 407.3,32.7 410.5,33.6 413.6,35.4 416.8,36.5 420.0,36.2 423.2,35.5 426.3,34.8 429.5,34.4 430.6,34.4 431.7,34.5 432.7,34.8 433.8,35.3 434.9,35.8 436.0,36.5 437.1,37.1 438.1,37.7 439.2,38.5 440.3,39.4 441.4,40.7 442.5,42.3 443.5,44.5 444.6,46.9 445.7,49.4 446.8,51.9 447.9,54.2 448.9,55.8 450.0,56.5 451.1,55.9 452.2,54.3 453.2,52.2 454.3,49.3 455.4,46.0 456.5,43.0 457.6,40.0 458.6,36.9 459.7,33.2 460.8,29.0 461.9,25.0 463.0,21.1 464.0,18.7 465.1,17.2 466.2,16.0 467.3,13.3 468.4,13.8 469.4,13.7 470.5,13.0 471.6,13.0 472.7,13.0 473.8,13.0 474.8,12.9 475.9,12.9 477.0,12.9 480.4,12.9 483.9,12.8 487.3,12.8 490.8,12.8 494.2,12.7 497.6,12.7 501.1,12.7 504.5,12.7 508.0,12.7 511.4,12.6 514.8,12.6 518.3,12.6 521.7,12.6 525.2,12.6 528.6,12.6 532.1,12.6 535.5,12.6 538.9,12.6 542.4,12.6 545.8,12.6 549.3,12.6 552.7,12.6 556.1,12.6 559.6,12.6 563.0,12.6 566.5,12.6 569.9,12.6 573.3,12.7 576.8,12.7 580.2,12.7 583.7,12.7 587.1,12.8 590.5,12.8 594.0,12.8 597.4,12.8 600.9,12.9 604.3,12.9 607.7,12.9 611.2,12.9 614.6,12.9 618.1,13.0 621.5,13.0 624.9,13.0 628.4,13.1 631.8,13.1 635.3,13.2 638.7,13.2 642.2,13.3 645.6,13.3 649.0,13.4 652.5,13.5 655.9,13.6 659.4,13.7 662.8,13.8 666.2,14.0 669.7,14.2 673.1,14.3 676.6,14.6 680.0,14.8 681.6,15.0 683.3,15.1 684.9,15.2 686.5,15.3 688.2,15.4 689.8,15.5 691.5,15.7 693.1,15.8 694.7,16.0 696.4,16.1 698.0,16.3 699.6,16.5 701.3,16.7 702.9,16.8 704.6,17.1 706.2,17.3 707.8,17.5 709.5,17.8 711.1,18.0 712.7,18.3 714.4,18.6 716.0,18.9 717.7,19.2 719.3,19.4 720.9,19.7 722.6,20.0 724.2,20.2 725.9,20.5 727.5,20.8 729.1,21.0 730.8,21.4 732.4,21.7 734.1,22.0 735.7,22.3 737.3,22.6 739.0,23.0 740.6,23.6 742.3,24.3 743.9,25.0 745.5,25.7 747.2,26.4 748.8,27.1 750.5,27.9 752.1,28.7 753.7,29.6 755.4,30.6 757.0,31.7 758.6,33.1 760.3,34.6 761.9,35.9 763.6,37.2 765.2,38.5 766.8,39.9 768.5,41.3 770.1,42.8 771.8,44.3 773.4,45.8 775.0,47.4 776.7,49.1 778.3,50.9 779.9,52.6 781.6,54.4 783.2,56.2 784.9,58.0 786.5,59.8 788.1,61.7 789.8,63.6 791.4,65.6 793.1,67.8 794.7,70.0 796.3,72.3 798.0,74.6 799.6,77.0 801.2,79.4 802.9,81.8 804.5,84.6 806.2,88.1 807.8,92.1 809.4,96.3 811.1,100.4 812.7,104.5 814.4,108.5 816.0,112.6 817.6,116.9 819.3,121.6 820.9,127.0 822.6,133.2 824.2,140.2 825.8,147.6" stroke="#4DBEEE"/>
<path d="M105.0,384.1 105.9,389.5 106.8,395.9 107.7,400.4 108.6,402.5 109.5,402.8 110.4,401.9 111.3,400.3 112.2,398.4 113.1,396.2 114.0,394.0 114.9,391.7 115.9,389.5 116.8,387.5 117.7,385.6 118.6,383.7 119.5,381.7 120.4,379.6 121.3,377.4 122.2,375.2 123.1,373.1 124.0,371.3 124.9,369.9 125.8,369.0 126.7,368.7 127.6,368.9 128.5,369.2 129.4,369.6 130.4,369.9 131.3,369.9 132.2,369.8 133.1,369.2 134.0,368.3 134.9,366.9 135.8,365.1 136.7,362.8 137.6,360.4 138.5,358.2 139.4,356.2 140.3,354.4 142.4,351.0 144.7,348.3 146.9,345.5 148.9,342.6 150.7,339.5 152.3,336.3 153.7,333.1 155.0,329.7 156.2,326.4 157.3,323.0 158.4,319.6 159.4,316.2 160.4,312.8 161.4,309.4 162.4,306.0 163.4,302.6 164.3,299.1 165.1,295.7 165.9,292.2 166.7,288.8 167.5,285.3 168.3,281.8 169.1,278.3 169.9,274.8 170.6,271.4 171.4,267.9 172.2,264.4 173.0,260.9 173.7,257.5 174.5,254.0 175.3,250.5 176.1,247.0 177.0,243.6 177.8,240.1 178.7,236.6 179.5,233.2 180.4,229.7 181.3,226.3 182.2,222.8 183.1,219.4 184.1,215.9 185.0,212.5 186.0,209.1 186.9,205.6 187.9,202.2 188.9,198.8 189.8,195.4 190.8,191.9 191.8,188.5 192.8,185.1 193.8,181.7 194.8,178.2 195.8,174.8 196.8,171.4 197.8,168.0 198.9,164.6 200.0,161.2 201.1,157.8 202.2,154.5 203.4,151.1 204.8,147.8 206.1,144.6 207.5,141.3 208.9,138.0 210.3,134.8 211.5,131.4 212.8,128.1 213.9,124.7 215.1,121.3 216.3,118.0 217.4,114.6 218.6,111.2 219.7,107.8 220.9,104.5 222.2,101.2 223.4,97.8 224.6,94.4 225.8,91.1 227.0,87.7 228.2,84.4 229.5,81.1 230.7,77.7 232.0,74.4 233.3,71.1 234.6,67.8 235.8,64.4 237.1,61.1 238.3,57.8 239.7,54.5 241.1,51.3 242.6,48.1 244.0,44.9 245.4,41.7 246.9,38.5 248.5,35.3 250.2,32.3 252.2,29.5 254.5,26.8 256.9,24.4 259.6,22.3 262.5,20.6 265.5,19.2 268.8,18.1 272.2,17.4 275.8,16.9 279.3,16.7 282.9,16.6 286.4,16.6 290.0,16.6 293.2,16.5 296.3,16.5 299.5,16.6 302.7,16.8 305.9,17.0 309.0,17.2 312.2,17.5 315.4,17.8 318.5,18.0 321.7,18.3 324.9,18.4 328.0,18.6 331.2,18.7 334.4,18.8 337.6,18.9 340.7,19.0 343.9,19.1 347.1,19.2 350.2,19.3 353.4,19.4 356.6,19.5 359.8,19.6 362.9,19.7 366.1,19.8 369.3,19.8 372.4,19.8 375.6,19.8 378.8,19.8 381.9,19.8 385.1,19.9 388.3,20.0 391.5,20.2 394.6,20.4 397.8,20.6 401.0,20.9 404.1,21.2 407.3,21.5 410.5,21.9 413.6,22.7 416.8,23.1 420.0,23.0 423.2,22.7 426.3,22.4 429.5,22.2 430.6,22.2 431.7,22.3 432.7,22.4 433.8,22.6 434.9,22.9 436.0,23.2 437.1,23.4 438.1,23.7 439.2,24.1 440.3,24.6 441.4,25.2 442.5,26.1 443.5,27.1 444.6,28.3 445.7,29.6 446.8,30.8 447.9,32.0 448.9,32.9 450.0,33.4 451.1,33.2 452.2,32.5 453.2,31.6 454.3,30.1 455.4,28.5 456.5,26.9 457.6,25.4 458.6,23.9 459.7,22.0 460.8,20.0 461.9,18.2 463.0,16.4 464.0,15.3 465.1,14.6 466.2,14.0 467.3,12.8 468.4,13.0 469.4,13.0 470.5,12.7 471.6,12.7 472.7,12.7 473.8,12.6 474.8,12.6 475.9,12.6 477.0,12.6 480.4,12.6 483.9,12.6 487.3,12.6 490.8,12.5 494.2,12.5 497.6,12.5 501.1,12.5 504.5,12.5 508.0,12.5 511.4,12.5 514.8,12.4 518.3,12.4 521.7,12.4 525.2,12.4 528.6,12.4 532.1,12.4 535.5,12.4 538.9,12.4 542.4,12.4 545.8,12.4 549.3,12.4 552.7,12.4 556.1,12.4 559.6,12.4 563.0,12.4 566.5,12.4 569.9,12.4 573.3,12.4 576.8,12.4 580.2,12.4 583.7,12.4 587.1,12.5 590.5,12.5 594.0,12.5 597.4,12.5 600.9,12.5 604.3,12.5 607.7,12.5 611.2,12.5 614.6,12.5 618.1,12.5 621.5,12.5 624.9,12.6 628.4,12.6 631.8,12.6 635.3,12.6 638.7,12.6 642.2,12.7 645.6,12.7 649.0,12.7 652.5,12.8 655.9,12.8 659.4,12.9 662.8,13.0 666.2,13.0 669.7,13.1 673.1,13.2 676.6,13.4 680.0,13.5 681.6,13.6 683.3,13.6 684.9,13.7 686.6,13.8 688.2,13.9 689.8,13.9 691.5,14.0 693.1,14.1 694.7,14.2 696.4,14.3 698.0,14.4 699.7,14.6 701.3,14.7 702.9,14.8 704.6,15.0 706.2,15.1 707.9,15.3 709.5,15.5 711.1,15.7 712.8,15.9 714.4,16.2 716.1,16.4 717.7,16.7 719.3,17.0 721.0,17.3 722.6,17.5 724.2,17.8 725.9,18.1 727.5,18.5 729.2,18.8 730.8,19.2 732.4,19.6 734.1,20.0 735.7,20.4 737.4,20.8 739.0,21.3 740.6,21.8 742.3,22.4 743.9,23.0 745.6,23.6 747.2,24.2 748.8,24.9 750.5,25.5 752.1,26.2 753.8,27.0 755.4,27.8 757.0,28.8 758.7,30.0 760.3,31.2 761.9,32.3 763.6,33.4 765.2,34.6 766.9,35.7 768.5,37.0 770.1,38.2 771.8,39.5 773.4,40.9 775.1,42.3 776.7,43.8 778.3,45.3 780.0,46.9 781.6,48.5 783.3,50.1 784.9,51.7 786.5,53.4 788.2,55.1 789.8,56.9 791.5,58.8 793.1,60.9 794.7,63.0 796.4,65.2 798.0,67.5 799.6,69.8 801.3,72.1 802.9,74.5 804.6,77.1 806.2,80.4 807.8,84.0 809.5,87.7 811.1,91.5 812.8,95.2 814.4,98.8 816.0,102.6 817.7,106.5 819.3,110.9 821.0,116.1 822.6,122.2 824.2,129.1 825.9,136.3" stroke="#A2142F"/>
<path d="M104.7,405.1 105.6,410.0 106.6,415.5 107.6,419.1 108.5,420.8 109.5,421.2 110.5,420.9 111.4,420.2 112.4,419.2 113.4,418.1 114.3,417.0 115.3,415.8 116.3,414.8 117.2,413.8 118.2,412.8 119.2,411.7 120.1,410.5 121.1,409.2 122.1,407.9 123.0,406.6 124.0,405.4 125.0,404.6 125.9,404.1 126.9,404.0 127.9,404.3 128.8,404.8 129.8,405.3 130.8,405.7 131.7,405.9 132.7,405.9 133.7,405.6 134.6,405.0 135.6,404.2 136.6,403.0 137.5,401.8 138.5,400.5 139.4,399.2 140.4,398.0 141.4,396.8 142.3,395.4 144.5,392.3 146.6,389.1 148.5,385.9 150.4,382.6 152.1,379.2 153.7,375.8 155.2,372.4 156.7,368.9 158.2,365.4 159.7,362.0 161.1,358.5 162.6,355.0 163.9,351.5 165.4,348.0 166.8,344.5 168.1,340.9 169.3,337.3 170.4,333.7 171.5,330.1 172.5,326.5 173.5,322.8 174.5,319.2 175.5,315.5 176.5,311.9 177.4,308.2 178.4,304.5 179.4,300.9 180.4,297.2 181.3,293.6 182.3,289.9 183.3,286.2 184.3,282.6 185.2,278.9 186.2,275.2 187.2,271.6 188.2,267.9 189.1,264.2 190.1,260.6 191.1,256.9 192.1,253.2 193.1,249.6 194.1,245.9 195.1,242.2 196.1,238.5 197.0,234.9 198.0,231.2 199.0,227.5 199.9,223.8 200.9,220.1 201.8,216.4 202.7,212.8 203.7,209.1 204.6,205.4 205.6,201.7 206.6,198.0 207.5,194.3 208.5,190.6 209.5,187.0 210.5,183.3 211.6,179.6 212.6,176.0 213.7,172.3 214.9,168.7 216.0,165.0 217.2,161.4 218.4,157.8 219.6,154.1 220.8,150.5 222.0,146.9 223.2,143.2 224.4,139.6 225.6,136.0 226.8,132.4 228.1,128.7 229.5,125.2 230.7,121.5 232.0,117.9 233.2,114.3 234.4,110.7 235.6,107.0 236.8,103.4 238.0,99.7 239.2,96.1 240.3,92.4 241.4,88.7 242.4,85.0 243.3,81.3 244.3,77.6 245.2,73.8 246.1,70.1 247.1,66.4 248.1,62.6 249.0,58.9 250.0,55.2 251.1,51.5 252.3,47.8 253.7,44.2 255.3,40.7 257.1,37.4 259.1,34.1 261.5,31.1 264.2,28.4 267.3,26.1 270.8,24.6 274.6,23.8 278.4,23.3 282.3,23.1 286.1,23.0 290.0,22.9 293.2,22.8 296.3,22.8 299.5,23.1 302.7,23.5 305.9,24.0 309.0,24.6 312.2,25.3 315.4,26.0 318.5,26.6 321.7,27.2 324.9,27.7 328.0,28.1 331.2,28.4 334.4,28.7 337.6,28.9 340.7,29.2 343.9,29.4 347.1,29.7 350.2,30.0 353.4,30.2 356.6,30.4 359.8,30.7 362.9,30.9 366.1,31.0 369.3,31.1 372.4,31.1 375.6,31.1 378.8,31.1 381.9,31.2 385.1,31.3 388.3,31.6 391.5,32.1 394.6,32.6 397.8,33.2 401.0,33.8 404.1,34.5 407.3,35.3 410.5,36.4 413.6,38.4 416.8,39.6 420.0,39.3 423.2,38.5 426.3,37.7 429.5,37.2 430.6,37.2 431.7,37.4 432.7,37.7 433.8,38.2 434.9,38.9 436.0,39.6 437.1,40.2 438.1,40.9 439.2,41.8 440.3,42.9 441.4,44.3 442.5,46.1 443.5,48.5 444.6,51.2 445.7,54.1 446.8,56.9 447.9,59.4 448.9,61.2 450.0,61.9 451.1,61.2 452.2,59.3 453.2,57.0 454.3,53.8 455.4,50.1 456.5,46.7 457.6,43.4 458.6,39.9 459.7,35.8 460.8,31.0 461.9,26.6 463.0,22.2 464.0,19.5 465.1,17.8 466.2,16.5 467.3,13.4 468.4,13.9 469.4,13.9 470.5,13.1 471.6,13.1 472.7,13.0 473.8,13.0 474.8,13.0 475.9,13.0 477.0,13.0 480.4,12.9 483.9,12.9 487.3,12.9 490.8,12.8 494.2,12.8 497.6,12.8 501.1,12.7 504.5,12.7 508.0,12.7 511.4,12.7 514.8,12.7 518.3,12.6 521.7,12.6 525.2,12.6 528.6,12.6 532.1,12.6 535.5,12.6 538.9,12.6 542.4,12.6 545.8,12.6 549.3,12.6 552.7,12.6 556.1,12.6 559.6,12.6 563.0,12.6 566.5,12.7 569.9,12.7 573.3,12.7 576.8,12.7 580.2,12.8 583.7,12.8 587.1,12.8 590.5,12.9 594.0,12.9 597.4,12.9 600.9,12.9 604.3,13.0 607.7,13.0 611.2,13.0 614.6,13.0 618.1,13.1 621.5,13.1 624.9,13.1 628.4,13.2 631.8,13.2 635.3,13.3 638.7,13.3 642.2,13.4 645.6,13.5 649.0,13.6 652.5,13.7 655.9,13.8 659.4,13.9 662.8,14.0 666.2,14.2 669.7,14.4 673.1,14.6 676.6,14.9 680.0,15.2 681.6,15.3 683.3,15.3 684.9,15.4 686.5,15.5 688.2,15.6 689.8,15.7 691.5,15.8 693.1,15.9 694.7,16.0 696.4,16.1 698.0,16.2 699.6,16.3 701.3,16.4 702.9,16.5 704.6,16.6 706.2,16.7 707.8,16.9 709.5,17.0 711.1,17.1 712.8,17.2 714.4,17.3 716.0,17.4 717.7,17.4 719.3,17.5 721.0,17.5 722.6,17.5 724.3,17.5 725.9,17.5 727.5,17.4 729.2,17.4 730.8,17.3 732.5,17.2 734.1,17.1 735.8,16.9 737.4,16.8 739.0,16.8 740.7,17.1 742.3,17.4 744.0,17.7 745.6,18.1 747.2,18.5 748.9,18.9 750.5,19.3 752.2,19.7 753.8,20.1 755.4,20.6 757.1,21.1 758.7,21.7 760.4,22.3 762.0,22.8 763.6,23.5 765.3,24.1 766.9,24.8 768.6,25.5 770.2,26.2 771.9,27.0 773.5,27.8 775.1,28.7 776.8,29.7 778.4,30.7 780.1,31.7 781.7,32.8 783.3,34.0 785.0,35.2 786.6,36.5 788.3,37.8 789.9,39.3 791.5,41.0 793.2,42.8 794.8,44.7 796.5,46.7 798.1,48.8 799.7,50.8 801.4,52.9 803.0,55.1 804.7,57.4 806.3,59.9 807.9,62.5 809.6,65.2 811.2,68.0 812.9,70.7 814.5,73.4 816.1,76.1 817.8,79.2 819.4,82.8 821.1,87.4 822.7,93.2 824.3,99.9 826.0,106.5" stroke="#0072BD"/>
<path d="M104.9,390.5 105.8,395.8 106.7,402.0 107.6,406.3 108.6,408.3 109.5,408.6 110.4,408.0 111.4,406.7 112.3,405.1 113.2,403.4 114.1,401.6 115.1,399.7 116.0,397.9 116.9,396.3 117.9,394.8 118.8,393.2 119.7,391.6 120.6,389.8 121.6,388.0 122.5,386.1 123.4,384.5 124.4,383.1 125.3,382.1 126.2,381.6 127.1,381.6 128.1,382.0 129.0,382.6 129.9,383.1 130.9,383.4 131.8,383.5 132.7,383.4 133.7,382.9 134.6,382.0 135.5,380.7 136.4,379.1 137.4,377.3 138.3,375.4 139.2,373.6 140.2,372.1 141.1,370.6 143.3,367.4 145.5,364.6 147.6,361.7 149.5,358.6 151.3,355.5 152.8,352.2 154.3,348.9 155.7,345.6 157.0,342.2 158.3,338.9 159.5,335.5 160.7,332.1 161.9,328.7 163.1,325.3 164.2,321.9 165.3,318.4 166.4,315.0 167.3,311.5 168.2,308.0 169.1,304.5 170.0,301.0 170.9,297.5 171.8,293.9 172.6,290.4 173.5,286.9 174.4,283.4 175.2,279.9 176.1,276.4 177.0,272.8 177.9,269.3 178.7,265.8 179.6,262.3 180.5,258.8 181.4,255.2 182.3,251.7 183.3,248.2 184.2,244.7 185.1,241.2 186.1,237.7 187.0,234.2 188.0,230.7 189.0,227.1 190.0,223.6 190.9,220.1 191.9,216.6 192.9,213.1 193.9,209.6 194.8,206.1 195.8,202.6 196.8,199.1 197.8,195.6 198.8,192.0 199.8,188.5 200.8,185.0 201.8,181.5 202.8,178.0 203.8,174.5 204.9,171.0 206.0,167.6 207.1,164.1 208.3,160.7 209.6,157.2 210.9,153.8 212.2,150.4 213.5,147.0 214.7,143.5 215.9,140.1 217.1,136.6 218.3,133.2 219.5,129.7 220.7,126.2 221.8,122.8 223.0,119.3 224.3,115.8 225.6,112.4 226.8,108.9 228.0,105.5 229.3,102.0 230.5,98.6 231.7,95.1 233.0,91.6 234.2,88.2 235.4,84.7 236.6,81.2 237.8,77.8 239.0,74.3 240.1,70.8 241.2,67.3 242.3,63.8 243.5,60.3 244.7,56.9 245.9,53.4 247.2,49.9 248.4,46.5 249.7,43.1 251.2,39.7 252.9,36.5 254.9,33.5 257.0,30.6 259.4,28.0 262.0,25.6 264.9,23.6 268.1,22.0 271.6,20.8 275.2,20.2 278.9,19.9 282.6,19.7 286.3,19.7 290.0,19.6 293.2,19.6 296.3,19.6 299.5,19.7 302.7,20.0 305.9,20.3 309.0,20.8 312.2,21.2 315.4,21.7 318.5,22.1 321.7,22.5 324.9,22.9 328.0,23.1 331.2,23.4 334.4,23.6 337.6,23.7 340.7,23.9 343.9,24.1 347.1,24.2 350.2,24.4 353.4,24.6 356.6,24.8 359.8,24.9 362.9,25.0 366.1,25.2 369.3,25.2 372.4,25.2 375.6,25.2 378.8,25.2 381.9,25.2 385.1,25.4 388.3,25.6 391.5,25.9 394.6,26.2 397.8,26.6 401.0,27.1 404.1,27.6 407.3,28.1 410.5,28.8 413.6,30.2 416.8,31.0 420.0,30.8 423.2,30.3 426.3,29.7 429.5,29.4 430.6,29.4 431.7,29.5 432.7,29.7 433.8,30.1 434.9,30.5 436.0,31.0 437.1,31.5 438.1,32.0 439.2,32.6 440.3,33.4 441.4,34.4 442.5,35.7 443.5,37.4 444.6,39.3 445.7,41.3 446.8,43.3 447.9,45.1 448.9,46.4 450.0,47.0 451.1,46.6 452.2,45.4 453.2,43.7 454.3,41.4 455.4,38.8 456.5,36.4 457.6,34.0 458.6,31.5 459.7,28.6 460.8,25.3 461.9,22.2 463.0,19.2 464.0,17.3 465.1,16.1 466.2,15.2 467.3,13.1 468.4,13.5 469.4,13.4 470.5,12.9 471.6,12.9 472.7,12.8 473.8,12.8 474.8,12.8 475.9,12.8 477.0,12.8 480.4,12.8 483.9,12.7 487.3,12.7 490.8,12.7 494.2,12.7 497.6,12.6 501.1,12.6 504.5,12.6 508.0,12.6 511.4,12.6 514.8,12.6 518.3,12.5 521.7,12.5 525.2,12.5 528.6,12.5 532.1,12.5 535.5,12.5 538.9,12.5 542.4,12.5 545.8,12.5 549.3,12.5 552.7,12.5 556.1,12.5 559.6,12.5 563.0,12.5 566.5,12.5 569.9,12.5 573.3,12.6 576.8,12.6 580.2,12.6 583.7,12.6 587.1,12.6 590.5,12.7 594.0,12.7 597.4,12.7 600.9,12.7 604.3,12.7 607.7,12.7 611.2,12.8 614.6,12.8 618.1,12.8 621.5,12.8 624.9,12.8 628.4,12.9 631.8,12.9 635.3,12.9 638.7,13.0 642.2,13.0 645.6,13.1 649.0,13.1 652.5,13.2 655.9,13.3 659.4,13.4 662.8,13.5 666.2,13.6 669.7,13.7 673.1,13.9 676.6,14.1 680.0,14.3 681.6,14.4 683.3,14.5 684.9,14.7 686.5,14.8 688.2,14.9 689.8,15.1 691.5,15.3 693.1,15.4 694.7,15.6 696.4,15.8 698.0,16.1 699.6,16.3 701.3,16.6 702.9,16.8 704.6,17.1 706.2,17.5 707.8,17.8 709.5,18.2 711.1,18.6 712.7,19.0 714.4,19.5 716.0,20.0 717.6,20.5 719.3,21.0 720.9,21.5 722.6,22.0 724.2,22.6 725.8,23.1 727.5,23.8 729.1,24.4 730.7,25.1 732.4,25.8 734.0,26.6 735.7,27.4 737.3,28.2 738.9,29.1 740.6,30.0 742.2,31.0 743.8,31.9 745.5,33.0 747.1,34.0 748.7,35.1 750.4,36.2 752.0,37.4 753.7,38.7 755.3,40.2 756.9,42.0 758.6,44.2 760.2,46.5 761.8,48.6 763.5,50.5 765.1,52.5 766.8,54.6 768.4,56.7 770.0,58.8 771.7,61.0 773.3,63.2 774.9,65.5 776.6,67.9 778.2,70.4 779.9,72.8 781.5,75.3 783.1,77.7 784.8,80.1 786.4,82.4 788.0,84.7 789.7,87.1 791.3,89.5 792.9,91.9 794.6,94.5 796.2,97.0 797.9,99.6 799.5,102.2 801.1,105.0 802.8,107.6 804.4,110.9 806.0,115.4 807.7,120.7 809.3,126.3 811.0,131.8 812.6,137.2 814.2,142.5 815.9,147.9 817.5,153.4 819.1,159.1 820.8,165.2 822.4,171.9 824.0,179.1 825.7,187.3" stroke="#D95319"/>
<path d="M104.7,399.2 105.7,404.3 106.6,410.1 107.6,414.0 108.5,415.9 109.5,416.3 110.5,415.9 111.4,415.0 112.4,413.8 113.3,412.5 114.3,411.1 115.2,409.8 116.2,408.5 117.1,407.3 118.1,406.1 119.0,404.9 120.0,403.5 120.9,402.1 121.9,400.6 122.9,399.1 123.8,397.8 124.8,396.8 125.7,396.2 126.7,396.1 127.6,396.4 128.6,397.0 129.5,397.7 130.5,398.2 131.4,398.6 132.4,398.8 133.4,398.7 134.3,398.2 135.3,397.3 136.2,396.2 137.2,394.8 138.1,393.4 139.1,391.9 140.1,390.6 141.0,389.3 142.0,388.0 144.2,384.9 146.3,381.9 148.3,378.9 150.1,375.7 151.8,372.4 153.4,369.1 155.0,365.8 156.4,362.4 157.9,359.0 159.3,355.6 160.7,352.2 162.1,348.8 163.4,345.4 164.8,342.0 166.1,338.6 167.4,335.1 168.5,331.6 169.6,328.1 170.7,324.5 171.7,321.0 172.7,317.4 173.6,313.9 174.6,310.3 175.5,306.7 176.5,303.1 177.5,299.6 178.4,296.0 179.4,292.4 180.4,288.8 181.3,285.3 182.3,281.7 183.2,278.1 184.2,274.5 185.2,270.9 186.2,267.3 187.1,263.8 188.1,260.2 189.1,256.6 190.1,253.0 191.1,249.4 192.1,245.8 193.1,242.2 194.1,238.6 195.1,235.0 196.1,231.4 197.1,227.8 198.0,224.2 199.0,220.6 200.0,217.0 200.9,213.4 201.9,209.8 202.9,206.2 203.8,202.5 204.8,198.9 205.8,195.3 206.8,191.7 207.8,188.1 208.8,184.5 209.8,180.9 210.9,177.3 212.0,173.7 213.1,170.1 214.3,166.5 215.5,163.0 216.7,159.4 217.9,155.8 219.1,152.2 220.3,148.7 221.5,145.1 222.7,141.5 223.9,138.0 225.1,134.4 226.4,130.8 227.6,127.2 229.0,123.7 230.3,120.1 231.5,116.6 232.8,113.0 234.0,109.4 235.2,105.8 236.4,102.2 237.6,98.6 238.8,95.0 239.9,91.4 241.0,87.8 242.1,84.1 243.1,80.4 244.0,76.7 244.9,73.0 245.9,69.3 246.9,65.6 247.9,61.9 248.9,58.2 249.9,54.5 251.0,50.8 252.2,47.1 253.6,43.6 255.2,40.1 257.1,36.8 259.2,33.6 261.6,30.7 264.2,28.0 267.4,25.8 270.9,24.3 274.6,23.5 278.5,23.0 282.3,22.8 286.2,22.7 290.0,22.7 293.2,22.6 296.3,22.6 299.5,22.8 302.7,23.2 305.9,23.7 309.0,24.3 312.2,25.0 315.4,25.6 318.5,26.3 321.7,26.8 324.9,27.3 328.0,27.7 331.2,28.0 334.4,28.3 337.6,28.5 340.7,28.7 343.9,29.0 347.1,29.2 350.2,29.5 353.4,29.7 356.6,30.0 359.8,30.2 362.9,30.4 366.1,30.5 369.3,30.6 372.4,30.6 375.6,30.6 378.8,30.6 381.9,30.7 385.1,30.8 388.3,31.1 391.5,31.6 394.6,32.1 397.8,32.6 401.0,33.3 404.1,34.0 407.3,34.7 410.5,35.7 413.6,37.7 416.8,38.9 420.0,38.6 423.2,37.8 426.3,37.0 429.5,36.5 430.6,36.6 431.7,36.7 432.7,37.0 433.8,37.5 434.9,38.2 436.0,38.8 437.1,39.5 438.1,40.2 439.2,41.0 440.3,42.1 441.4,43.5 442.5,45.3 443.5,47.6 444.6,50.2 445.7,53.0 446.8,55.7 447.9,58.2 448.9,60.0 450.0,60.7 451.1,60.0 452.2,58.1 453.2,55.9 454.3,52.7 455.4,49.2 456.5,45.8 457.6,42.6 458.6,39.2 459.7,35.2 460.8,30.6 461.9,26.2 463.0,22.0 464.0,19.4 465.1,17.7 466.2,16.4 467.3,13.4 468.4,13.9 469.4,13.9 470.5,13.1 471.6,13.0 472.7,13.0 473.8,13.0 474.8,13.0 475.9,13.0 477.0,13.0 480.4,12.9 483.9,12.9 487.3,12.8 490.8,12.8 494.2,12.8 497.6,12.8 501.1,12.7 504.5,12.7 508.0,12.7 511.4,12.7 514.8,12.7 518.3,12.6 521.7,12.6 525.2,12.6 528.6,12.6 532.1,12.6 535.5,12.6 538.9,12.6 542.4,12.6 545.8,12.6 549.3,12.6 552.7,12.6 556.1,12.6 559.6,12.6 563.0,12.6 566.5,12.7 569.9,12.7 573.3,12.7 576.8,12.7 580.2,12.8 583.7,12.8 587.1,12.8 590.5,12.8 594.0,12.9 597.4,12.9 600.9,12.9 604.3,12.9 607.7,13.0 611.2,13.0 614.6,13.0 618.1,13.0 621.5,13.1 624.9,13.1 628.4,13.2 631.8,13.2 635.3,13.2 638.7,13.3 642.2,13.4 645.6,13.4 649.0,13.5 652.5,13.6 655.9,13.7 659.4,13.8 662.8,14.0 666.2,14.1 669.7,14.3 673.1,14.5 676.6,14.8 680.0,15.1 681.6,15.2 683.3,15.4 684.9,15.5 686.5,15.7 688.2,15.8 689.8,16.0 691.4,16.2 693.1,16.4 694.7,16.6 696.4,16.8 698.0,17.0 699.6,17.3 701.3,17.5 702.9,17.8 704.5,18.1 706.2,18.5 707.8,18.8 709.5,19.2 711.1,19.6 712.7,20.0 714.4,20.4 716.0,20.9 717.6,21.3 719.3,21.8 720.9,22.2 722.6,22.7 724.2,23.1 725.8,23.6 727.5,24.1 729.1,24.6 730.7,25.2 732.4,25.8 734.0,26.4 735.7,27.0 737.3,27.6 738.9,28.4 740.6,29.3 742.2,30.2 743.8,31.1 745.5,32.1 747.1,33.2 748.8,34.2 750.4,35.3 752.0,36.4 753.7,37.7 755.3,39.1 756.9,40.9 758.6,42.9 760.2,45.1 761.9,47.1 763.5,49.0 765.1,50.9 766.8,52.9 768.4,54.9 770.0,57.0 771.7,59.1 773.3,61.2 775.0,63.5 776.6,65.8 778.2,68.1 779.9,70.5 781.5,72.9 783.1,75.2 784.8,77.5 786.4,79.8 788.0,82.1 789.7,84.4 791.3,86.8 793.0,89.2 794.6,91.7 796.2,94.2 797.9,96.8 799.5,99.3 801.1,102.0 802.8,104.7 804.4,107.9 806.1,112.3 807.7,117.5 809.3,122.8 811.0,128.2 812.6,133.4 814.2,138.6 815.9,143.9 817.5,149.2 819.2,154.8 820.8,160.9 822.4,167.5 824.1,174.7 825.7,182.7" stroke="#EDB120"/>
<path d="M104.8,395.3 105.7,400.5 106.7,406.4 107.6,410.4 108.6,412.4 109.5,412.7 110.4,412.1 111.4,411.0 112.3,409.6 113.3,408.0 114.2,406.4 115.1,404.7 116.1,403.1 117.0,401.6 118.0,400.2 118.9,398.7 119.8,397.0 120.8,395.2 121.7,393.4 122.7,391.5 123.6,389.8 124.5,388.5 125.5,387.6 126.4,387.3 127.3,387.5 128.3,388.1 129.2,388.8 130.2,389.4 131.1,389.9 132.0,390.1 133.0,389.9 133.9,389.4 134.8,388.4 135.8,387.0 136.7,385.4 137.7,383.5 138.6,381.5 139.5,379.8 140.5,378.2 141.4,376.6 143.6,373.5 145.7,370.6 147.8,367.6 149.7,364.5 151.5,361.4 153.0,358.1 154.5,354.8 155.9,351.4 157.3,348.1 158.6,344.7 159.9,341.3 161.2,337.9 162.4,334.5 163.6,331.1 164.9,327.6 166.0,324.2 167.1,320.7 168.1,317.2 169.1,313.7 170.0,310.2 170.9,306.7 171.8,303.1 172.7,299.6 173.6,296.1 174.5,292.5 175.4,289.0 176.3,285.5 177.2,281.9 178.1,278.4 179.1,274.8 180.0,271.3 180.9,267.8 181.8,264.2 182.7,260.7 183.7,257.1 184.6,253.6 185.6,250.1 186.5,246.5 187.5,243.0 188.5,239.4 189.4,235.9 190.4,232.4 191.4,228.8 192.4,225.3 193.4,221.8 194.3,218.2 195.3,214.7 196.3,211.1 197.3,207.6 198.2,204.0 199.2,200.5 200.2,196.9 201.2,193.4 202.2,189.9 203.2,186.3 204.2,182.8 205.2,179.2 206.2,175.7 207.3,172.2 208.4,168.7 209.6,165.2 210.8,161.7 212.1,158.2 213.3,154.8 214.6,151.3 215.8,147.8 217.0,144.3 218.2,140.8 219.4,137.3 220.6,133.8 221.8,130.3 223.0,126.8 224.2,123.3 225.4,119.8 226.8,116.3 228.0,112.8 229.3,109.3 230.5,105.8 231.7,102.3 232.9,98.8 234.2,95.3 235.4,91.8 236.6,88.3 237.8,84.8 238.9,81.2 240.0,77.7 241.1,74.2 242.2,70.6 243.2,67.0 244.3,63.4 245.5,59.9 246.6,56.3 247.7,52.8 248.9,49.3 250.2,45.7 251.5,42.3 253.2,39.0 255.0,35.8 257.0,32.8 259.3,29.9 261.9,27.4 264.7,25.1 267.8,23.3 271.3,22.1 275.0,21.3 278.7,21.0 282.5,20.8 286.2,20.7 290.0,20.7 293.2,20.6 296.3,20.6 299.5,20.8 302.7,21.1 305.9,21.5 309.0,22.0 312.2,22.5 315.4,23.1 318.5,23.6 321.7,24.0 324.9,24.4 328.0,24.7 331.2,25.0 334.4,25.2 337.6,25.4 340.7,25.6 343.9,25.8 347.1,26.0 350.2,26.2 353.4,26.4 356.6,26.6 359.8,26.7 362.9,26.9 366.1,27.0 369.3,27.1 372.4,27.1 375.6,27.1 378.8,27.1 381.9,27.1 385.1,27.3 388.3,27.5 391.5,27.9 394.6,28.3 397.8,28.7 401.0,29.2 404.1,29.8 407.3,30.4 410.5,31.2 413.6,32.8 416.8,33.7 420.0,33.5 423.2,32.9 426.3,32.3 429.5,31.9 430.6,31.9 431.7,32.0 432.7,32.3 433.8,32.7 434.9,33.2 436.0,33.7 437.1,34.3 438.1,34.8 439.2,35.5 440.3,36.4 441.4,37.5 442.5,39.0 443.5,40.9 444.6,43.1 445.7,45.4 446.8,47.6 447.9,49.6 448.9,51.1 450.0,51.8 451.1,51.3 452.2,49.8 453.2,48.0 454.3,45.4 455.4,42.4 456.5,39.7 457.6,37.0 458.6,34.2 459.7,30.9 460.8,27.1 461.9,23.6 463.0,20.1 464.0,18.0 465.1,16.7 466.2,15.6 467.3,13.2 468.4,13.6 469.4,13.6 470.5,12.9 471.6,12.9 472.7,12.9 473.8,12.9 474.8,12.9 475.9,12.9 477.0,12.8 480.4,12.8 483.9,12.8 487.3,12.7 490.8,12.7 494.2,12.7 497.6,12.7 501.1,12.7 504.5,12.6 508.0,12.6 511.4,12.6 514.8,12.6 518.3,12.6 521.7,12.6 525.2,12.6 528.6,12.5 532.1,12.5 535.5,12.5 538.9,12.5 542.4,12.5 545.8,12.5 549.3,12.5 552.7,12.5 556.1,12.5 559.6,12.5 563.0,12.6 566.5,12.6 569.9,12.6 573.3,12.6 576.8,12.6 580.2,12.6 583.7,12.7 587.1,12.7 590.5,12.7 594.0,12.7 597.4,12.8 600.9,12.8 604.3,12.8 607.7,12.8 611.2,12.8 614.6,12.9 618.1,12.9 621.5,12.9 624.9,12.9 628.4,13.0 631.8,13.0 635.3,13.0 638.7,13.1 642.2,13.1 645.6,13.2 649.0,13.3 652.5,13.4 655.9,13.4 659.4,13.5 662.8,13.7 666.2,13.8 669.7,13.9 673.1,14.1 676.6,14.3 680.0,14.6 681.6,14.7 683.3,14.8 684.9,14.8 686.5,14.9 688.2,15.0 689.8,15.1 691.5,15.2 693.1,15.4 694.7,15.5 696.4,15.6 698.0,15.7 699.6,15.9 701.3,16.0 702.9,16.2 704.6,16.3 706.2,16.5 707.8,16.7 709.5,16.9 711.1,17.1 712.8,17.3 714.4,17.5 716.0,17.7 717.7,17.9 719.3,18.1 721.0,18.3 722.6,18.5 724.2,18.7 725.9,18.9 727.5,19.1 729.2,19.3 730.8,19.5 732.4,19.7 734.1,19.9 735.7,20.1 737.4,20.2 739.0,20.5 740.6,21.1 742.3,21.6 743.9,22.1 745.6,22.7 747.2,23.3 748.8,23.9 750.5,24.5 752.1,25.1 753.8,25.9 755.4,26.6 757.0,27.6 758.7,28.6 760.3,29.7 762.0,30.8 763.6,31.8 765.2,32.8 766.9,33.9 768.5,35.1 770.2,36.3 771.8,37.5 773.4,38.7 775.1,40.1 776.7,41.5 778.4,42.9 780.0,44.4 781.6,45.9 783.3,47.5 784.9,49.0 786.5,50.6 788.2,52.3 789.8,54.0 791.5,55.9 793.1,57.9 794.7,60.0 796.4,62.2 798.0,64.4 799.7,66.7 801.3,69.0 802.9,71.3 804.6,73.9 806.2,77.0 807.9,80.5 809.5,84.0 811.1,87.6 812.8,91.2 814.4,94.7 816.1,98.2 817.7,102.0 819.3,106.3 821.0,111.4 822.6,117.5 824.2,124.3 825.9,131.4" stroke="#7E2F8E"/>
<path d="M104.9,388.3 105.8,393.7 106.7,399.9 107.7,404.3 108.6,406.4 109.5,406.7 110.4,406.0 111.3,404.6 112.3,403.0 113.2,401.1 114.1,399.2 115.0,397.2 116.0,395.3 116.9,393.6 117.8,392.0 118.7,390.4 119.6,388.7 120.6,386.9 121.5,385.1 122.4,383.2 123.3,381.5 124.3,380.1 125.2,379.0 126.1,378.4 127.0,378.3 128.0,378.5 128.9,378.9 129.8,379.3 130.7,379.5 131.6,379.6 132.6,379.4 133.5,378.9 134.4,378.0 135.3,376.7 136.3,375.1 137.2,373.2 138.1,371.3 139.0,369.5 140.0,367.9 140.9,366.4 143.1,363.1 145.3,360.2 147.4,357.3 149.4,354.2 151.1,351.0 152.7,347.7 154.1,344.3 155.5,340.9 156.7,337.5 158.0,334.0 159.2,330.6 160.3,327.1 161.4,323.6 162.5,320.1 163.6,316.7 164.7,313.2 165.7,309.6 166.6,306.1 167.5,302.5 168.3,299.0 169.1,295.4 170.0,291.8 170.8,288.3 171.6,284.7 172.4,281.1 173.2,277.6 174.1,274.0 174.9,270.4 175.7,266.9 176.6,263.3 177.4,259.7 178.2,256.2 179.1,252.6 180.0,249.1 180.8,245.5 181.7,242.0 182.6,238.4 183.5,234.9 184.4,231.3 185.3,227.8 186.3,224.3 187.2,220.7 188.2,217.2 189.2,213.7 190.1,210.1 191.1,206.6 192.0,203.1 193.0,199.6 193.9,196.0 194.9,192.5 195.9,189.0 196.9,185.5 197.9,182.0 198.9,178.5 199.9,175.0 200.9,171.5 201.9,168.0 203.0,164.5 204.1,161.0 205.3,157.6 206.5,154.2 207.8,150.8 209.2,147.4 210.5,144.0 211.8,140.7 213.1,137.2 214.3,133.8 215.4,130.3 216.6,126.9 217.8,123.4 218.9,120.0 220.1,116.5 221.2,113.1 222.4,109.6 223.7,106.2 224.9,102.8 226.1,99.4 227.3,95.9 228.5,92.5 229.8,89.1 231.0,85.6 232.2,82.2 233.5,78.8 234.7,75.4 235.9,72.0 237.1,68.6 238.3,65.2 239.5,61.8 240.8,58.4 242.1,55.1 243.5,51.8 244.8,48.4 246.2,45.1 247.5,41.8 249.0,38.6 250.6,35.4 252.5,32.4 254.6,29.6 256.9,27.0 259.5,24.7 262.3,22.7 265.3,21.0 268.5,19.7 272.0,18.8 275.5,18.3 279.1,18.0 282.8,17.9 286.4,17.9 290.0,17.8 293.2,17.8 296.3,17.8 299.5,17.9 302.7,18.1 305.9,18.4 309.0,18.7 312.2,19.1 315.4,19.4 318.5,19.7 321.7,20.0 324.9,20.3 328.0,20.5 331.2,20.7 334.4,20.8 337.6,20.9 340.7,21.1 343.9,21.2 347.1,21.3 350.2,21.5 353.4,21.6 356.6,21.7 359.8,21.8 362.9,21.9 366.1,22.0 369.3,22.1 372.4,22.1 375.6,22.1 378.8,22.1 381.9,22.1 385.1,22.2 388.3,22.3 391.5,22.6 394.6,22.8 397.8,23.1 401.0,23.5 404.1,23.8 407.3,24.2 410.5,24.8 413.6,25.8 416.8,26.4 420.0,26.3 423.2,25.9 426.3,25.4 429.5,25.2 430.6,25.2 431.7,25.3 432.7,25.5 433.8,25.7 434.9,26.1 436.0,26.4 437.1,26.8 438.1,27.2 439.2,27.6 440.3,28.3 441.4,29.0 442.5,30.1 443.5,31.4 444.6,32.9 445.7,34.4 446.8,36.0 447.9,37.4 448.9,38.5 450.0,39.1 451.1,38.8 452.2,37.9 453.2,36.6 454.3,34.8 455.4,32.8 456.5,30.9 457.6,29.0 458.6,27.1 459.7,24.8 460.8,22.2 461.9,19.8 463.0,17.5 464.0,16.1 465.1,15.2 466.2,14.5 467.3,12.9 468.4,13.2 469.4,13.2 470.5,12.8 471.6,12.7 472.7,12.7 473.8,12.7 474.8,12.7 475.9,12.7 477.0,12.7 480.4,12.7 483.9,12.6 487.3,12.6 490.8,12.6 494.2,12.6 497.6,12.6 501.1,12.5 504.5,12.5 508.0,12.5 511.4,12.5 514.8,12.5 518.3,12.5 521.7,12.5 525.2,12.5 528.6,12.5 532.1,12.4 535.5,12.4 538.9,12.4 542.4,12.4 545.8,12.4 549.3,12.4 552.7,12.4 556.1,12.4 559.6,12.4 563.0,12.4 566.5,12.4 569.9,12.5 573.3,12.5 576.8,12.5 580.2,12.5 583.7,12.5 587.1,12.5 590.5,12.5 594.0,12.6 597.4,12.6 600.9,12.6 604.3,12.6 607.7,12.6 611.2,12.6 614.6,12.6 618.1,12.6 621.5,12.7 624.9,12.7 628.4,12.7 631.8,12.7 635.3,12.8 638.7,12.8 642.2,12.8 645.6,12.9 649.0,12.9 652.5,13.0 655.9,13.0 659.4,13.1 662.8,13.2 666.2,13.3 669.7,13.4 673.1,13.5 676.6,13.7 680.0,13.8 681.6,13.9 683.3,14.0 684.9,14.1 686.6,14.2 688.2,14.3 689.8,14.4 691.5,14.5 693.1,14.7 694.7,14.8 696.4,14.9 698.0,15.1 699.7,15.3 701.3,15.4 702.9,15.6 704.6,15.9 706.2,16.1 707.8,16.3 709.5,16.6 711.1,16.9 712.8,17.2 714.4,17.5 716.0,17.9 717.7,18.2 719.3,18.6 721.0,19.0 722.6,19.3 724.2,19.7 725.9,20.1 727.5,20.6 729.1,21.0 730.8,21.5 732.4,22.0 734.1,22.6 735.7,23.1 737.3,23.7 739.0,24.4 740.6,25.1 742.2,25.8 743.9,26.5 745.5,27.3 747.2,28.1 748.8,28.9 750.4,29.8 752.1,30.6 753.7,31.6 755.4,32.7 757.0,34.0 758.6,35.6 760.3,37.2 761.9,38.7 763.5,40.2 765.2,41.7 766.8,43.2 768.5,44.7 770.1,46.4 771.7,48.0 773.4,49.7 775.0,51.5 776.7,53.3 778.3,55.2 779.9,57.1 781.6,59.1 783.2,61.0 784.8,62.9 786.5,64.8 788.1,66.8 789.8,68.8 791.4,71.0 793.0,73.2 794.7,75.5 796.3,77.8 797.9,80.2 799.6,82.6 801.2,85.1 802.9,87.6 804.5,90.5 806.1,94.2 807.8,98.5 809.4,102.9 811.1,107.4 812.7,111.8 814.3,116.1 816.0,120.5 817.6,125.0 819.2,130.0 820.9,135.5 822.5,141.9 824.2,148.9 825.8,156.4" stroke="#77AC30"/>
<path d="M105.2,368.0 106.1,373.9 106.9,380.9 107.8,386.2 108.6,388.6 109.5,388.8 110.4,387.4 111.2,385.2 112.1,382.6 113.0,379.7 113.8,376.6 114.7,373.5 115.5,370.4 116.4,367.5 117.3,364.9 118.1,362.4 119.0,359.7 119.8,356.8 120.7,353.8 121.6,350.7 122.4,347.6 123.3,344.7 124.2,342.3 125.0,340.6 125.9,339.8 126.7,339.8 127.6,340.3 128.5,341.1 129.3,341.8 130.2,342.4 131.0,342.8 131.9,342.9 132.8,342.5 133.6,341.5 134.5,339.7 135.4,336.9 136.2,333.6 137.1,330.6 137.9,327.8 138.8,325.2 140.9,320.4 143.3,318.2 145.8,315.9 147.9,313.4 149.7,310.6 151.3,307.7 152.6,304.7 153.7,301.6 154.7,298.4 155.6,295.3 156.4,292.1 157.2,288.9 158.0,285.6 158.7,282.4 159.4,279.2 160.1,276.0 160.8,272.7 161.5,269.5 162.1,266.2 162.8,263.0 163.5,259.7 164.1,256.5 164.8,253.3 165.4,250.0 166.1,246.7 166.7,243.5 167.4,240.2 168.1,237.0 168.7,233.7 169.4,230.5 170.1,227.2 170.9,224.0 171.6,220.8 172.4,217.5 173.2,214.3 174.0,211.1 174.8,207.8 175.7,204.6 176.6,201.4 177.5,198.2 178.4,195.0 179.4,191.8 180.3,188.6 181.3,185.4 182.3,182.2 183.3,179.0 184.3,175.8 185.3,172.7 186.3,169.5 187.4,166.3 188.4,163.1 189.5,159.9 190.5,156.8 191.6,153.6 192.7,150.4 193.9,147.3 195.0,144.1 196.2,141.0 197.4,137.9 198.8,134.8 200.3,131.8 201.8,128.8 203.4,125.9 205.0,122.9 206.4,119.8 207.8,116.8 209.0,113.6 210.2,110.5 211.4,107.3 212.5,104.2 213.6,101.0 214.8,97.8 215.9,94.6 217.1,91.5 218.3,88.3 219.5,85.2 220.7,82.0 221.9,78.9 223.1,75.7 224.4,72.6 225.7,69.5 227.0,66.4 228.3,63.3 229.7,60.2 231.1,57.1 232.5,54.0 233.9,50.9 235.4,47.9 236.9,44.8 238.6,41.9 240.3,38.9 242.0,36.0 243.6,33.0 245.3,30.1 247.2,27.2 249.2,24.5 251.5,22.0 254.0,19.8 256.8,17.9 259.8,16.3 263.0,15.2 266.2,14.5 269.6,14.0 272.9,13.7 276.3,13.4 279.8,13.3 283.2,13.3 286.6,13.4 290.0,13.4 293.2,13.3 296.3,13.3 299.5,13.4 302.7,13.4 305.9,13.5 309.0,13.5 312.2,13.6 315.4,13.6 318.5,13.7 321.7,13.7 324.9,13.8 328.0,13.8 331.2,13.9 334.4,13.9 337.6,13.9 340.7,13.9 343.9,14.0 347.1,14.0 350.2,14.0 353.4,14.0 356.6,14.0 359.7,14.1 362.9,14.1 366.1,14.1 369.3,14.1 372.4,14.1 375.6,14.1 378.8,14.1 381.9,14.1 385.1,14.1 388.3,14.2 391.5,14.2 394.6,14.2 397.8,14.3 401.0,14.3 404.1,14.4 407.3,14.5 410.5,14.6 413.6,14.8 416.8,14.9 420.0,14.8 423.2,14.8 426.3,14.7 429.5,14.7 430.6,14.7 431.7,14.7 432.7,14.7 433.8,14.8 434.9,14.8 436.0,14.9 437.1,15.0 438.1,15.0 439.2,15.2 440.3,15.4 441.4,15.6 442.5,15.9 443.5,16.3 444.6,16.8 445.7,17.2 446.8,17.7 447.9,18.1 448.9,18.6 450.0,19.0 451.1,19.1 452.2,19.0 453.2,18.7 454.3,18.2 455.4,17.5 456.5,16.9 457.6,16.4 458.6,15.8 459.7,15.1 460.8,14.4 461.9,13.9 463.0,13.4 464.0,13.1 465.1,12.9 466.2,12.8 467.3,12.5 468.4,12.5 469.4,12.5 470.5,12.5 471.6,12.5 472.7,12.5 473.8,12.5 474.8,12.5 475.9,12.5 477.0,12.5 480.4,12.4 483.9,12.4 487.3,12.4 490.8,12.4 494.2,12.4 497.6,12.4 501.1,12.4 504.5,12.4 508.0,12.4 511.4,12.3 514.8,12.3 518.3,12.3 521.7,12.3 525.2,12.3 528.6,12.3 532.1,12.3 535.5,12.3 538.9,12.3 542.4,12.3 545.8,12.3 549.3,12.3 552.7,12.3 556.1,12.3 559.6,12.3 563.0,12.3 566.5,12.2 569.9,12.2 573.3,12.2 576.8,12.3 580.2,12.3 583.7,12.3 587.1,12.3 590.5,12.3 594.0,12.3 597.4,12.3 600.9,12.3 604.3,12.3 607.7,12.3 611.2,12.3 614.6,12.3 618.1,12.3 621.5,12.3 624.9,12.3 628.4,12.3 631.8,12.3 635.3,12.3 638.7,12.3 642.2,12.3 645.6,12.3 649.0,12.3 652.5,12.4 655.9,12.4 659.4,12.4 662.8,12.4 666.2,12.5 669.7,12.5 673.1,12.5 676.6,12.6 680.0,12.7 681.6,12.7 683.3,12.8 684.9,12.9 686.6,13.0 688.2,13.1 689.8,13.2 691.5,13.3 693.1,13.4 694.8,13.5 696.4,13.7 698.0,13.8 699.7,14.0 701.3,14.2 702.9,14.4 704.6,14.7 706.2,14.9 707.9,15.2 709.5,15.5 711.1,15.9 712.8,16.3 714.4,16.7 716.0,17.2 717.7,17.6 719.3,18.2 721.0,18.7 722.6,19.3 724.2,19.9 725.9,20.5 727.5,21.2 729.1,21.9 730.8,22.7 732.4,23.5 734.0,24.4 735.7,25.4 737.3,26.4 738.9,27.4 740.6,28.2 742.2,29.1 743.9,30.0 745.5,30.9 747.1,31.9 748.8,32.9 750.4,33.9 752.0,35.0 753.7,36.1 755.3,37.5 757.0,39.1 758.6,41.0 760.2,43.1 761.9,45.0 763.5,46.8 765.1,48.6 766.8,50.4 768.4,52.3 770.1,54.3 771.7,56.3 773.3,58.3 775.0,60.4 776.6,62.6 778.2,64.8 779.9,67.1 781.5,69.4 783.2,71.6 784.8,73.8 786.4,76.0 788.1,78.2 789.7,80.4 791.3,82.7 793.0,85.1 794.6,87.5 796.3,90.0 797.9,92.5 799.5,95.1 801.2,97.7 802.8,100.3 804.4,103.5 806.1,107.7 807.7,112.6 809.4,117.8 811.0,122.9 812.6,127.9 814.3,132.9 815.9,137.9 817.5,143.1 819.2,148.5 820.8,154.4 822.4,161.0 824.1,168.1 825.7,176.0" stroke="#4DBEEE"/>
<path d="M105.2,370.0 106.0,375.9 106.9,382.9 107.8,388.0 108.6,390.5 109.5,390.6 110.4,389.4 111.2,387.3 112.1,384.8 113.0,382.0 113.8,379.1 114.7,376.1 115.6,373.2 116.5,370.5 117.3,368.1 118.2,365.8 119.1,363.5 119.9,361.0 120.8,358.5 121.7,355.9 122.5,353.4 123.4,351.1 124.3,349.1 125.1,347.7 126.0,346.9 126.9,346.6 127.8,346.7 128.6,346.9 129.5,346.9 130.4,346.9 131.2,346.7 132.1,346.2 133.0,345.4 133.9,344.1 134.7,342.4 135.6,339.8 136.5,337.0 137.3,334.5 138.2,332.2 139.1,330.2 141.2,326.3 143.6,323.9 146.0,321.5 148.1,318.8 149.9,316.0 151.5,312.9 152.8,309.8 153.9,306.6 154.9,303.3 155.9,300.0 156.7,296.8 157.6,293.5 158.4,290.1 159.1,286.8 159.9,283.5 160.6,280.2 161.3,276.9 162.0,273.5 162.7,270.2 163.4,266.8 164.1,263.5 164.7,260.2 165.4,256.8 166.0,253.5 166.7,250.1 167.4,246.8 168.0,243.4 168.7,240.1 169.4,236.8 170.1,233.4 170.8,230.1 171.5,226.8 172.3,223.4 173.0,220.1 173.8,216.8 174.6,213.5 175.4,210.2 176.3,206.9 177.1,203.6 178.0,200.3 179.0,197.0 179.9,193.7 180.8,190.5 181.8,187.2 182.8,183.9 183.7,180.7 184.7,177.4 185.7,174.2 186.7,170.9 187.7,167.6 188.8,164.4 189.8,161.1 190.9,157.9 191.9,154.7 193.0,151.4 194.1,148.2 195.3,145.0 196.4,141.8 197.7,138.6 199.0,135.5 200.4,132.4 202.0,129.4 203.6,126.4 205.1,123.3 206.5,120.3 207.8,117.1 209.1,113.9 210.3,110.7 211.4,107.5 212.5,104.3 213.7,101.1 214.8,97.9 215.9,94.7 217.1,91.5 218.3,88.3 219.4,85.1 220.6,81.9 221.8,78.7 223.0,75.5 224.3,72.3 225.6,69.2 226.9,66.0 228.2,62.9 229.6,59.8 231.0,56.7 232.4,53.6 233.8,50.5 235.2,47.4 236.8,44.4 238.5,41.4 240.2,38.5 241.9,35.6 243.6,32.6 245.3,29.7 247.1,26.8 249.1,24.1 251.5,21.6 254.0,19.4 256.8,17.6 259.8,16.1 263.0,15.0 266.3,14.3 269.6,13.9 273.0,13.5 276.4,13.3 279.8,13.2 283.2,13.2 286.6,13.2 290.0,13.2 293.2,13.2 296.3,13.2 299.5,13.2 302.7,13.2 305.9,13.3 309.0,13.3 312.2,13.4 315.4,13.4 318.5,13.5 321.7,13.5 324.9,13.6 328.0,13.6 331.2,13.6 334.4,13.7 337.6,13.7 340.7,13.7 343.9,13.7 347.1,13.7 350.2,13.8 353.4,13.8 356.6,13.8 359.8,13.8 362.9,13.8 366.1,13.8 369.3,13.8 372.4,13.8 375.6,13.8 378.8,13.8 381.9,13.8 385.1,13.9 388.3,13.9 391.5,13.9 394.6,13.9 397.8,14.0 401.0,14.0 404.1,14.1 407.3,14.2 410.5,14.2 413.6,14.4 416.8,14.5 420.0,14.5 423.2,14.4 426.3,14.3 429.5,14.3 430.6,14.3 431.7,14.3 432.7,14.4 433.8,14.4 434.9,14.4 436.0,14.5 437.1,14.6 438.1,14.6 439.2,14.8 440.3,15.0 441.4,15.2 442.5,15.5 443.5,15.8 444.6,16.2 445.7,16.6 446.8,17.1 447.9,17.5 448.9,17.9 450.0,18.3 451.1,18.5 452.2,18.4 453.2,18.1 454.3,17.6 455.4,17.0 456.5,16.5 457.6,15.9 458.6,15.4 459.7,14.8 460.8,14.2 461.9,13.7 463.0,13.3 464.0,13.0 465.1,12.9 466.2,12.7 467.3,12.5 468.4,12.5 469.4,12.5 470.5,12.4 471.6,12.5 472.7,12.5 473.8,12.5 474.8,12.4 475.9,12.4 477.0,12.4 480.4,12.4 483.9,12.4 487.3,12.4 490.8,12.4 494.2,12.4 497.6,12.4 501.1,12.4 504.5,12.4 508.0,12.4 511.4,12.3 514.8,12.3 518.3,12.3 521.7,12.3 525.2,12.3 528.6,12.3 532.1,12.3 535.5,12.3 538.9,12.3 542.4,12.3 545.8,12.3 549.3,12.3 552.7,12.3 556.1,12.3 559.6,12.2 563.0,12.2 566.5,12.2 569.9,12.2 573.3,12.2 576.8,12.2 580.2,12.2 583.7,12.2 587.1,12.2 590.5,12.2 594.0,12.2 597.4,12.2 600.9,12.2 604.3,12.2 607.7,12.2 611.2,12.3 614.6,12.3 618.1,12.3 621.5,12.3 624.9,12.3 628.4,12.3 631.8,12.3 635.3,12.3 638.7,12.3 642.2,12.3 645.6,12.3 649.0,12.3 652.5,12.3 655.9,12.4 659.4,12.4 662.8,12.4 666.2,12.4 669.7,12.5 673.1,12.5 676.6,12.6 680.0,12.6 681.6,12.7 683.3,12.7 684.9,12.8 686.6,12.8 688.2,12.9 689.8,13.0 691.5,13.0 693.1,13.1 694.8,13.2 696.4,13.3 698.0,13.4 699.7,13.5 701.3,13.7 703.0,13.8 704.6,13.9 706.2,14.1 707.9,14.3 709.5,14.5 711.1,14.8 712.8,15.0 714.4,15.3 716.1,15.6 717.7,15.9 719.3,16.3 721.0,16.7 722.6,17.0 724.3,17.5 725.9,17.9 727.5,18.4 729.2,18.9 730.8,19.4 732.4,20.0 734.1,20.6 735.7,21.2 737.4,21.9 739.0,22.5 740.6,23.2 742.3,23.8 743.9,24.4 745.5,25.1 747.2,25.8 748.8,26.5 750.5,27.3 752.1,28.0 753.7,28.9 755.4,29.8 757.0,31.0 758.7,32.3 760.3,33.6 761.9,34.9 763.6,36.2 765.2,37.5 766.8,38.8 768.5,40.1 770.1,41.5 771.8,43.0 773.4,44.5 775.0,46.0 776.7,47.7 778.3,49.4 780.0,51.1 781.6,52.8 783.2,54.6 784.9,56.3 786.5,58.1 788.2,59.9 789.8,61.8 791.4,63.8 793.1,65.9 794.7,68.1 796.3,70.4 798.0,72.7 799.6,75.0 801.3,77.4 802.9,79.8 804.5,82.6 806.2,86.0 807.8,89.9 809.5,93.9 811.1,98.0 812.7,102.0 814.4,105.9 816.0,109.9 817.6,114.1 819.3,118.7 820.9,124.0 822.6,130.3 824.2,137.2 825.8,144.5" stroke="#A2142F"/>
<path d="M105.0,379.8 105.9,385.4 106.8,391.9 107.7,396.7 108.6,398.9 109.5,399.1 110.4,398.2 111.3,396.5 112.2,394.4 113.1,392.1 114.0,389.6 114.9,387.2 115.8,384.8 116.7,382.5 117.6,380.5 118.5,378.4 119.4,376.2 120.3,373.8 121.2,371.3 122.1,368.7 123.0,366.3 123.8,364.1 124.7,362.5 125.6,361.5 126.5,361.4 127.4,361.8 128.3,362.6 129.2,363.4 130.1,364.1 131.0,364.7 131.9,364.9 132.8,364.7 133.7,364.0 134.6,362.7 135.5,360.8 136.4,358.2 137.3,355.4 138.2,352.9 139.1,350.7 140.0,348.7 142.1,344.9 144.4,342.2 146.7,339.4 148.7,336.4 150.5,333.3 152.1,330.0 153.4,326.7 154.7,323.3 155.8,319.9 156.9,316.4 157.9,313.0 158.9,309.5 159.8,306.0 160.7,302.5 161.7,299.1 162.5,295.6 163.3,292.1 164.1,288.6 164.9,285.0 165.6,281.5 166.4,278.0 167.1,274.5 167.8,270.9 168.5,267.4 169.2,263.9 170.0,260.4 170.7,256.9 171.4,253.3 172.1,249.8 172.9,246.3 173.6,242.8 174.4,239.3 175.2,235.8 175.9,232.3 176.8,228.8 177.6,225.3 178.4,221.8 179.2,218.4 180.1,214.9 181.0,211.4 181.9,208.0 182.8,204.5 183.8,201.1 184.7,197.6 185.7,194.2 186.6,190.8 187.5,187.3 188.5,183.9 189.5,180.5 190.5,177.1 191.4,173.6 192.4,170.2 193.5,166.8 194.5,163.4 195.5,160.0 196.6,156.6 197.7,153.3 198.8,149.9 199.9,146.6 201.2,143.3 202.6,140.0 204.0,136.8 205.5,133.6 206.9,130.4 208.3,127.1 209.6,123.8 210.8,120.5 212.0,117.2 213.1,113.8 214.2,110.5 215.3,107.2 216.5,103.8 217.6,100.5 218.7,97.1 219.9,93.8 221.1,90.5 222.3,87.2 223.5,83.9 224.7,80.6 225.9,77.3 227.2,74.0 228.4,70.7 229.7,67.5 231.0,64.2 232.4,61.0 233.7,57.7 235.0,54.5 236.4,51.3 237.9,48.2 239.5,45.2 241.1,42.1 242.7,39.1 244.3,36.0 245.9,33.0 247.6,30.0 249.6,27.2 251.8,24.6 254.2,22.2 256.8,20.1 259.7,18.4 262.8,17.1 266.0,16.1 269.3,15.5 272.7,15.0 276.1,14.7 279.6,14.5 283.1,14.5 286.5,14.5 290.0,14.5 293.2,14.5 296.3,14.5 299.5,14.5 302.7,14.6 305.9,14.7 309.0,14.8 312.2,14.9 315.4,15.1 318.5,15.2 321.7,15.3 324.9,15.4 328.0,15.5 331.2,15.6 334.4,15.6 337.6,15.7 340.7,15.7 343.9,15.8 347.1,15.8 350.2,15.9 353.4,15.9 356.6,16.0 359.8,16.0 362.9,16.0 366.1,16.1 369.3,16.1 372.4,16.1 375.6,16.1 378.8,16.1 381.9,16.1 385.1,16.1 388.3,16.2 391.5,16.3 394.6,16.4 397.8,16.5 401.0,16.6 404.1,16.8 407.3,16.9 410.5,17.1 413.6,17.5 416.8,17.8 420.0,17.7 423.2,17.6 426.3,17.4 429.5,17.3 430.6,17.3 431.7,17.3 432.7,17.4 433.8,17.5 434.9,17.6 436.0,17.8 437.1,17.9 438.1,18.1 439.2,18.3 440.3,18.6 441.4,19.0 442.5,19.5 443.5,20.1 444.6,20.8 445.7,21.5 446.8,22.3 447.9,23.0 448.9,23.6 450.0,24.0 451.1,24.1 452.2,23.8 453.2,23.2 454.3,22.3 455.4,21.4 456.5,20.4 457.6,19.5 458.6,18.6 459.7,17.5 460.8,16.4 461.9,15.4 463.0,14.4 464.0,13.9 465.1,13.5 466.2,13.2 467.3,12.6 468.4,12.7 469.4,12.7 470.5,12.5 471.6,12.5 472.7,12.5 473.8,12.5 474.8,12.5 475.9,12.5 477.0,12.5 480.4,12.5 483.9,12.5 487.3,12.5 490.8,12.5 494.2,12.4 497.6,12.4 501.1,12.4 504.5,12.4 508.0,12.4 511.4,12.4 514.8,12.4 518.3,12.4 521.7,12.4 525.2,12.3 528.6,12.3 532.1,12.3 535.5,12.3 538.9,12.3 542.4,12.3 545.8,12.3 549.3,12.3 552.7,12.3 556.1,12.3 559.6,12.3 563.0,12.3 566.5,12.3 569.9,12.3 573.3,12.3 576.8,12.3 580.2,12.3 583.7,12.3 587.1,12.3 590.5,12.3 594.0,12.3 597.4,12.3 600.9,12.3 604.3,12.3 607.7,12.3 611.2,12.4 614.6,12.4 618.1,12.4 621.5,12.4 624.9,12.4 628.4,12.4 631.8,12.4 635.3,12.4 638.7,12.4 642.2,12.4 645.6,12.5 649.0,12.5 652.5,12.5 655.9,12.5 659.4,12.6 662.8,12.6 666.2,12.7 669.7,12.7 673.1,12.8 676.6,12.9 680.0,12.9 681.6,13.0 683.3,13.1 684.9,13.2 686.6,13.2 688.2,13.3 689.8,13.4 691.5,13.5 693.1,13.6 694.8,13.7 696.4,13.8 698.0,13.9 699.7,14.1 701.3,14.2 702.9,14.4 704.6,14.6 706.2,14.8 707.9,15.0 709.5,15.3 711.1,15.6 712.8,15.8 714.4,16.2 716.1,16.5 717.7,16.9 719.3,17.3 721.0,17.7 722.6,18.1 724.2,18.5 725.9,19.0 727.5,19.5 729.2,20.0 730.8,20.6 732.4,21.2 734.1,21.9 735.7,22.5 737.3,23.3 739.0,24.0 740.6,24.7 742.3,25.3 743.9,26.1 745.5,26.8 747.2,27.6 748.8,28.4 750.4,29.2 752.1,30.1 753.7,31.0 755.4,32.1 757.0,33.4 758.6,34.9 760.3,36.4 761.9,37.9 763.6,39.3 765.2,40.8 766.8,42.2 768.5,43.8 770.1,45.3 771.7,46.9 773.4,48.6 775.0,50.3 776.7,52.1 778.3,54.0 779.9,55.8 781.6,57.7 783.2,59.6 784.8,61.5 786.5,63.4 788.1,65.3 789.8,67.3 791.4,69.4 793.0,71.6 794.7,73.9 796.3,76.2 798.0,78.6 799.6,81.0 801.2,83.4 802.9,85.9 804.5,88.8 806.1,92.5 807.8,96.7 809.4,101.0 811.1,105.4 812.7,109.7 814.3,113.9 816.0,118.2 817.6,122.7 819.3,127.6 820.9,133.0 822.5,139.4 824.2,146.4 825.8,153.9" stroke="#0072BD"/>
<path d="M105.1,376.4 106.0,382.1 106.8,388.9 107.7,393.8 108.6,396.1 109.5,396.3 110.4,395.3 111.3,393.5 112.2,391.3 113.1,388.8 113.9,386.3 114.8,383.7 115.7,381.2 116.6,378.8 117.5,376.8 118.4,374.7 119.3,372.7 120.2,370.5 121.1,368.3 121.9,366.0 122.8,363.9 123.7,361.9 124.6,360.3 125.5,359.2 126.4,358.7 127.3,358.6 128.2,358.8 129.1,359.0 130.0,359.1 130.8,359.1 131.7,358.8 132.6,358.3 133.5,357.4 134.4,356.2 135.3,354.5 136.2,352.2 137.1,349.7 138.0,347.5 138.9,345.5 139.8,343.8 141.9,340.4 144.2,337.9 146.5,335.3 148.6,332.5 150.4,329.6 151.9,326.5 153.3,323.3 154.5,320.1 155.6,316.8 156.7,313.6 157.7,310.3 158.7,307.0 159.6,303.6 160.5,300.3 161.4,297.0 162.3,293.7 163.1,290.3 163.9,287.0 164.7,283.6 165.4,280.2 166.2,276.8 166.9,273.5 167.7,270.1 168.4,266.7 169.1,263.3 169.9,259.9 170.6,256.6 171.4,253.2 172.1,249.8 172.9,246.4 173.7,243.0 174.5,239.7 175.3,236.3 176.1,232.9 176.9,229.6 177.8,226.2 178.7,222.8 179.5,219.5 180.4,216.1 181.4,212.8 182.3,209.4 183.3,206.1 184.2,202.8 185.2,199.4 186.2,196.1 187.2,192.8 188.1,189.4 189.1,186.1 190.1,182.8 191.1,179.4 192.2,176.1 193.2,172.8 194.2,169.4 195.3,166.1 196.3,162.8 197.4,159.5 198.5,156.2 199.6,152.9 200.8,149.6 202.1,146.4 203.5,143.2 204.9,140.0 206.4,136.9 207.8,133.7 209.2,130.5 210.5,127.3 211.7,124.0 212.9,120.7 214.1,117.4 215.2,114.1 216.4,110.8 217.5,107.5 218.7,104.2 219.9,100.9 221.1,97.7 222.3,94.4 223.5,91.1 224.7,87.8 226.0,84.5 227.2,81.3 228.5,78.0 229.8,74.7 231.1,71.5 232.4,68.3 233.7,65.0 235.0,61.8 236.3,58.5 237.6,55.3 239.0,52.1 240.5,48.9 242.0,45.8 243.5,42.6 245.0,39.5 246.5,36.3 248.1,33.3 250.0,30.3 252.0,27.5 254.3,25.0 256.9,22.7 259.6,20.8 262.6,19.2 265.7,18.0 269.0,17.1 272.4,16.4 275.9,16.0 279.4,15.8 282.9,15.8 286.5,15.8 290.0,15.8 293.2,15.7 296.3,15.7 299.5,15.8 302.7,15.9 305.9,16.1 309.0,16.3 312.2,16.5 315.4,16.7 318.5,16.9 321.7,17.1 324.9,17.3 328.0,17.4 331.2,17.5 334.4,17.6 337.6,17.7 340.7,17.7 343.9,17.8 347.1,17.9 350.2,18.0 353.4,18.1 356.6,18.1 359.8,18.2 362.9,18.3 366.1,18.3 369.3,18.4 372.4,18.4 375.6,18.4 378.8,18.3 381.9,18.4 385.1,18.4 388.3,18.5 391.5,18.7 394.6,18.8 397.8,19.0 401.0,19.2 404.1,19.4 407.3,19.7 410.5,20.0 413.6,20.7 416.8,21.0 420.0,20.9 423.2,20.7 426.3,20.4 429.5,20.3 430.6,20.3 431.7,20.4 432.7,20.5 433.8,20.6 434.9,20.8 436.0,21.1 437.1,21.3 438.1,21.5 439.2,21.8 440.3,22.3 441.4,22.8 442.5,23.5 443.5,24.4 444.6,25.4 445.7,26.4 446.8,27.5 447.9,28.4 448.9,29.2 450.0,29.7 451.1,29.7 452.2,29.1 453.2,28.3 454.3,27.1 455.4,25.7 456.5,24.4 457.6,23.1 458.6,21.8 459.7,20.3 460.8,18.6 461.9,17.1 463.0,15.6 464.0,14.7 465.1,14.2 466.2,13.7 467.3,12.7 468.4,12.9 469.4,12.9 470.5,12.6 471.6,12.6 472.7,12.6 473.8,12.6 474.8,12.6 475.9,12.6 477.0,12.6 480.4,12.6 483.9,12.5 487.3,12.5 490.8,12.5 494.2,12.5 497.6,12.5 501.1,12.5 504.5,12.5 508.0,12.4 511.4,12.4 514.8,12.4 518.3,12.4 521.7,12.4 525.2,12.4 528.6,12.4 532.1,12.4 535.5,12.4 538.9,12.4 542.4,12.4 545.8,12.4 549.3,12.4 552.7,12.3 556.1,12.3 559.6,12.3 563.0,12.3 566.5,12.4 569.9,12.4 573.3,12.4 576.8,12.4 580.2,12.4 583.7,12.4 587.1,12.4 590.5,12.4 594.0,12.4 597.4,12.4 600.9,12.4 604.3,12.4 607.7,12.4 611.2,12.4 614.6,12.5 618.1,12.5 621.5,12.5 624.9,12.5 628.4,12.5 631.8,12.5 635.3,12.5 638.7,12.6 642.2,12.6 645.6,12.6 649.0,12.6 652.5,12.7 655.9,12.7 659.4,12.8 662.8,12.8 666.2,12.9 669.7,13.0 673.1,13.1 676.6,13.2 680.0,13.3 681.6,13.4 683.3,13.5 684.9,13.6 686.6,13.7 688.2,13.8 689.8,13.9 691.5,14.0 693.1,14.2 694.7,14.3 696.4,14.5 698.0,14.7 699.7,14.9 701.3,15.1 702.9,15.3 704.6,15.6 706.2,15.9 707.8,16.2 709.5,16.5 711.1,16.9 712.8,17.3 714.4,17.7 716.0,18.2 717.7,18.7 719.3,19.2 720.9,19.7 722.6,20.2 724.2,20.8 725.9,21.4 727.5,22.1 729.1,22.7 730.8,23.5 732.4,24.3 734.0,25.1 735.7,26.0 737.3,26.9 738.9,27.8 740.6,28.7 742.2,29.6 743.9,30.5 745.5,31.4 747.1,32.4 748.8,33.5 750.4,34.5 752.0,35.6 753.7,36.8 755.3,38.2 756.9,39.9 758.6,41.9 760.2,44.0 761.9,45.9 763.5,47.8 765.1,49.6 766.8,51.5 768.4,53.5 770.0,55.5 771.7,57.5 773.3,59.6 775.0,61.8 776.6,64.0 778.2,66.3 779.9,68.6 781.5,70.9 783.1,73.2 784.8,75.5 786.4,77.7 788.1,79.9 789.7,82.2 791.3,84.5 793.0,86.9 794.6,89.4 796.2,91.9 797.9,94.4 799.5,97.0 801.2,99.6 802.8,102.3 804.4,105.4 806.1,109.8 807.7,114.8 809.3,120.0 811.0,125.3 812.6,130.4 814.3,135.4 815.9,140.5 817.5,145.8 819.2,151.3 820.8,157.3 822.4,163.9 824.1,171.0 825.7,179.0" stroke="#D95319"/>
<path d="M104.8,397.4 105.7,402.4 106.7,408.2 107.6,412.2 108.6,414.1 109.5,414.4 110.4,413.8 111.4,412.8 112.3,411.5 113.3,410.0 114.2,408.4 115.2,406.8 116.1,405.3 117.1,403.9 118.0,402.5 119.0,401.1 119.9,399.5 120.8,397.7 121.8,395.9 122.7,394.0 123.7,392.4 124.6,391.1 125.6,390.3 126.5,390.1 127.4,390.3 128.4,390.9 129.3,391.6 130.3,392.3 131.2,392.7 132.1,392.9 133.1,392.8 134.0,392.2 135.0,391.2 135.9,389.8 136.9,388.1 137.8,386.3 138.7,384.4 139.7,382.7 140.6,381.1 141.5,379.5 143.7,376.1 145.9,373.0 147.9,369.8 149.8,366.4 151.5,363.0 153.1,359.5 154.6,355.9 156.0,352.4 157.3,348.8 158.7,345.2 159.9,341.5 161.2,337.9 162.4,334.3 163.6,330.7 164.8,327.0 165.9,323.4 167.0,319.7 168.0,316.0 168.9,312.3 169.8,308.5 170.6,304.8 171.5,301.1 172.4,297.4 173.2,293.6 174.1,289.9 174.9,286.2 175.7,282.4 176.6,278.7 177.4,275.0 178.3,271.3 179.1,267.6 180.0,263.9 180.9,260.2 181.7,256.4 182.6,252.7 183.5,249.0 184.4,245.4 185.3,241.7 186.2,238.0 187.1,234.3 188.0,230.6 188.9,226.9 189.9,223.3 190.8,219.6 191.7,215.9 192.7,212.3 193.6,208.6 194.5,204.9 195.4,201.3 196.4,197.6 197.3,194.0 198.3,190.3 199.2,186.7 200.2,183.1 201.2,179.4 202.1,175.8 203.2,172.2 204.2,168.6 205.3,165.0 206.4,161.4 207.6,157.9 208.8,154.4 210.1,150.9 211.4,147.4 212.6,143.9 213.9,140.3 215.0,136.8 216.2,133.2 217.4,129.7 218.5,126.1 219.6,122.6 220.8,119.0 221.9,115.5 223.1,112.0 224.4,108.5 225.6,104.9 226.8,101.4 228.0,97.9 229.1,94.4 230.3,90.9 231.6,87.4 232.8,83.9 234.0,80.4 235.2,76.9 236.4,73.4 237.6,69.9 238.7,66.4 239.9,63.0 241.1,59.6 242.4,56.2 243.7,52.9 245.1,49.5 246.4,46.2 247.7,42.8 249.2,39.5 250.8,36.3 252.6,33.3 254.7,30.4 257.0,27.8 259.5,25.4 262.2,23.3 265.2,21.6 268.4,20.2 271.9,19.3 275.4,18.7 279.1,18.4 282.7,18.3 286.4,18.3 290.0,18.2 293.2,18.2 296.3,18.2 299.5,18.3 302.7,18.5 305.9,18.8 309.0,19.2 312.2,19.5 315.4,19.9 318.5,20.3 321.7,20.6 324.9,20.8 328.0,21.1 331.2,21.2 334.4,21.4 337.6,21.5 340.7,21.7 343.9,21.8 347.1,22.0 350.2,22.1 353.4,22.2 356.6,22.4 359.8,22.5 362.9,22.6 366.1,22.7 369.3,22.7 372.4,22.8 375.6,22.7 378.8,22.7 381.9,22.8 385.1,22.9 388.3,23.0 391.5,23.3 394.6,23.6 397.8,23.9 401.0,24.3 404.1,24.6 407.3,25.1 410.5,25.6 413.6,26.8 416.8,27.4 420.0,27.3 423.2,26.8 426.3,26.4 429.5,26.1 430.6,26.1 431.7,26.2 432.7,26.4 433.8,26.7 434.9,27.0 436.0,27.4 437.1,27.8 438.1,28.2 439.2,28.7 440.3,29.4 441.4,30.2 442.5,31.3 443.5,32.7 444.6,34.3 445.7,35.9 446.8,37.6 447.9,39.1 448.9,40.2 450.0,40.8 451.1,40.5 452.2,39.5 453.2,38.2 454.3,36.3 455.4,34.1 456.5,32.1 457.6,30.1 458.6,28.0 459.7,25.6 460.8,22.9 461.9,20.4 463.0,17.9 464.0,16.4 465.1,15.4 466.2,14.7 467.3,13.0 468.4,13.3 469.4,13.2 470.5,12.8 471.6,12.8 472.7,12.8 473.8,12.7 474.8,12.7 475.9,12.7 477.0,12.7 480.4,12.7 483.9,12.7 487.3,12.6 490.8,12.6 494.2,12.6 497.6,12.6 501.1,12.6 504.5,12.5 508.0,12.5 511.4,12.5 514.8,12.5 518.3,12.5 521.7,12.5 525.2,12.5 528.6,12.5 532.1,12.5 535.5,12.5 538.9,12.4 542.4,12.4 545.8,12.4 549.3,12.4 552.7,12.4 556.1,12.4 559.6,12.4 563.0,12.5 566.5,12.5 569.9,12.5 573.3,12.5 576.8,12.5 580.2,12.5 583.7,12.5 587.1,12.6 590.5,12.6 594.0,12.6 597.4,12.6 600.9,12.6 604.3,12.6 607.7,12.6 611.2,12.6 614.6,12.7 618.1,12.7 621.5,12.7 624.9,12.7 628.4,12.7 631.8,12.8 635.3,12.8 638.7,12.8 642.2,12.9 645.6,12.9 649.0,13.0 652.5,13.0 655.9,13.1 659.4,13.2 662.8,13.2 666.2,13.3 669.7,13.5 673.1,13.6 676.6,13.8 680.0,13.9 681.6,14.0 683.3,14.1 684.9,14.1 686.6,14.2 688.2,14.3 689.8,14.3 691.5,14.4 693.1,14.5 694.7,14.6 696.4,14.6 698.0,14.7 699.7,14.8 701.3,14.9 702.9,15.0 704.6,15.1 706.2,15.2 707.9,15.3 709.5,15.5 711.1,15.6 712.8,15.7 714.4,15.9 716.1,16.0 717.7,16.1 719.3,16.3 721.0,16.4 722.6,16.5 724.3,16.7 725.9,16.8 727.5,16.9 729.2,17.1 730.8,17.2 732.5,17.4 734.1,17.5 735.8,17.6 737.4,17.7 739.0,18.0 740.7,18.3 742.3,18.7 744.0,19.1 745.6,19.6 747.2,20.0 748.9,20.5 750.5,20.9 752.2,21.4 753.8,21.9 755.4,22.5 757.1,23.2 758.7,23.9 760.4,24.6 762.0,25.4 763.6,26.1 765.3,26.9 766.9,27.7 768.6,28.5 770.2,29.4 771.8,30.3 773.5,31.3 775.1,32.3 776.8,33.4 778.4,34.6 780.0,35.8 781.7,37.0 783.3,38.3 785.0,39.6 786.6,40.9 788.2,42.4 789.9,44.0 791.5,45.7 793.2,47.6 794.8,49.6 796.4,51.6 798.1,53.7 799.7,55.9 801.3,58.0 803.0,60.2 804.6,62.7 806.3,65.3 807.9,68.2 809.5,71.2 811.2,74.2 812.8,77.2 814.5,80.1 816.1,83.1 817.7,86.4 819.4,90.2 821.0,95.0 822.7,100.9 824.3,107.7 825.9,114.4" stroke="#EDB120"/>
<path d="M104.7,400.8 105.7,405.9 106.6,411.6 107.6,415.5 108.5,417.3 109.5,417.7 110.5,417.4 111.4,416.5 112.4,415.5 113.3,414.3 114.3,413.0 115.2,411.8 116.2,410.6 117.2,409.5 118.1,408.5 119.1,407.3 120.0,406.1 121.0,404.8 122.0,403.4 122.9,402.1 123.9,401.0 124.8,400.1 125.8,399.6 126.8,399.5 127.7,399.8 128.7,400.3 129.7,400.9 130.6,401.4 131.6,401.8 132.5,401.9 133.5,401.7 134.5,401.3 135.4,400.5 136.4,399.4 137.3,398.2 138.3,396.9 139.3,395.7 140.2,394.5 141.2,393.4 142.2,392.1 144.4,388.8 146.4,385.6 148.4,382.3 150.2,378.9 151.9,375.4 153.5,371.9 155.1,368.4 156.5,364.8 158.0,361.2 159.4,357.6 160.8,354.0 162.2,350.4 163.5,346.8 164.9,343.2 166.2,339.6 167.5,335.9 168.6,332.3 169.7,328.6 170.7,324.8 171.7,321.1 172.6,317.4 173.6,313.6 174.5,309.9 175.4,306.2 176.4,302.4 177.3,298.7 178.2,294.9 179.1,291.2 180.1,287.5 181.0,283.7 181.9,280.0 182.8,276.3 183.7,272.5 184.7,268.8 185.6,265.1 186.5,261.3 187.5,257.6 188.4,253.9 189.4,250.2 190.3,246.4 191.3,242.7 192.2,239.0 193.2,235.3 194.1,231.6 195.1,227.9 196.0,224.1 196.9,220.4 197.9,216.7 198.8,213.0 199.7,209.3 200.7,205.6 201.6,201.9 202.5,198.2 203.5,194.4 204.5,190.7 205.4,187.0 206.4,183.4 207.4,179.7 208.4,176.0 209.5,172.3 210.6,168.7 211.7,165.1 212.9,161.5 214.1,157.8 215.3,154.2 216.5,150.6 217.7,147.0 218.9,143.4 220.0,139.7 221.2,136.1 222.4,132.5 223.6,128.9 224.8,125.2 226.0,121.6 227.3,118.1 228.5,114.5 229.7,110.9 230.9,107.3 232.2,103.7 233.4,100.1 234.5,96.5 235.7,92.9 236.9,89.3 238.1,85.6 239.2,82.0 240.3,78.4 241.3,74.8 242.3,71.1 243.4,67.6 244.5,64.0 245.6,60.4 246.7,56.9 247.9,53.3 249.0,49.7 250.2,46.2 251.6,42.8 253.2,39.4 255.0,36.2 257.0,33.1 259.3,30.3 261.8,27.7 264.6,25.4 267.8,23.5 271.3,22.3 275.0,21.5 278.7,21.2 282.5,21.0 286.2,20.9 290.0,20.9 293.2,20.8 296.3,20.8 299.5,21.0 302.7,21.3 305.9,21.7 309.0,22.2 312.2,22.8 315.4,23.3 318.5,23.8 321.7,24.3 324.9,24.7 328.0,25.0 331.2,25.2 334.4,25.5 337.6,25.7 340.7,25.9 343.9,26.1 347.1,26.3 350.2,26.5 353.4,26.7 356.6,26.9 359.8,27.1 362.9,27.2 366.1,27.4 369.3,27.4 372.4,27.4 375.6,27.4 378.8,27.4 381.9,27.5 385.1,27.6 388.3,27.9 391.5,28.2 394.6,28.6 397.8,29.1 401.0,29.6 404.1,30.2 407.3,30.8 410.5,31.6 413.6,33.3 416.8,34.2 420.0,34.0 423.2,33.4 426.3,32.7 429.5,32.3 430.6,32.4 431.7,32.5 432.7,32.7 433.8,33.1 434.9,33.6 436.0,34.2 437.1,34.8 438.1,35.3 439.2,36.0 440.3,36.9 441.4,38.1 442.5,39.6 443.5,41.5 444.6,43.8 445.7,46.1 446.8,48.4 447.9,50.4 448.9,52.0 450.0,52.6 451.1,52.1 452.2,50.6 453.2,48.7 454.3,46.1 455.4,43.1 456.5,40.3 457.6,37.6 458.6,34.7 459.7,31.3 460.8,27.4 461.9,23.9 463.0,20.3 464.0,18.2 465.1,16.8 466.2,15.7 467.3,13.2 468.4,13.6 469.4,13.6 470.5,12.9 471.6,12.9 472.7,12.9 473.8,12.9 474.8,12.9 475.9,12.9 477.0,12.9 480.4,12.8 483.9,12.8 487.3,12.8 490.8,12.7 494.2,12.7 497.6,12.7 501.1,12.7 504.5,12.6 508.0,12.6 511.4,12.6 514.8,12.6 518.3,12.6 521.7,12.6 525.2,12.6 528.6,12.5 532.1,12.5 535.5,12.5 538.9,12.5 542.4,12.5 545.8,12.5 549.3,12.5 552.7,12.5 556.1,12.5 559.6,12.6 563.0,12.6 566.5,12.6 569.9,12.6 573.3,12.6 576.8,12.6 580.2,12.7 583.7,12.7 587.1,12.7 590.5,12.7 594.0,12.8 597.4,12.8 600.9,12.8 604.3,12.8 607.7,12.8 611.2,12.9 614.6,12.9 618.1,12.9 621.5,12.9 624.9,12.9 628.4,13.0 631.8,13.0 635.3,13.1 638.7,13.1 642.2,13.2 645.6,13.2 649.0,13.3 652.5,13.4 655.9,13.5 659.4,13.6 662.8,13.7 666.2,13.8 669.7,14.0 673.1,14.2 676.6,14.4 680.0,14.6 681.6,14.7 683.3,14.8 684.9,14.9 686.5,15.0 688.2,15.0 689.8,15.1 691.5,15.2 693.1,15.3 694.7,15.4 696.4,15.5 698.0,15.6 699.6,15.8 701.3,15.9 702.9,16.0 704.6,16.1 706.2,16.3 707.8,16.4 709.5,16.6 711.1,16.7 712.8,16.9 714.4,17.0 716.0,17.2 717.7,17.3 719.3,17.4 721.0,17.5 722.6,17.7 724.2,17.8 725.9,17.8 727.5,18.0 729.2,18.0 730.8,18.1 732.5,18.2 734.1,18.3 735.7,18.3 737.4,18.4 739.0,18.5 740.7,19.0 742.3,19.4 743.9,19.8 745.6,20.3 747.2,20.7 748.9,21.2 750.5,21.7 752.1,22.3 753.8,22.8 755.4,23.5 757.1,24.2 758.7,24.9 760.3,25.8 762.0,26.6 763.6,27.4 765.3,28.2 766.9,29.1 768.5,30.0 770.2,31.0 771.8,32.0 773.5,33.0 775.1,34.1 776.7,35.3 778.4,36.5 780.0,37.7 781.7,39.0 783.3,40.4 784.9,41.7 786.6,43.1 788.2,44.7 789.9,46.3 791.5,48.0 793.1,49.9 794.8,51.9 796.4,54.0 798.1,56.2 799.7,58.3 801.3,60.5 803.0,62.8 804.6,65.2 806.3,68.0 807.9,71.0 809.5,74.1 811.2,77.3 812.8,80.4 814.5,83.4 816.1,86.6 817.7,90.0 819.4,93.9 821.0,98.7 822.7,104.7 824.3,111.5 825.9,118.3" stroke="#7E2F8E"/>
<path d="M104.8,394.9 105.7,400.1 106.7,406.0 107.6,410.1 108.6,412.0 109.5,412.3 110.4,411.7 111.4,410.5 112.3,409.1 113.3,407.5 114.2,405.8 115.1,404.1 116.1,402.4 117.0,400.9 117.9,399.4 118.9,397.9 119.8,396.2 120.8,394.3 121.7,392.4 122.6,390.4 123.6,388.7 124.5,387.3 125.4,386.4 126.4,386.1 127.3,386.2 128.2,386.8 129.2,387.6 130.1,388.3 131.1,388.7 132.0,389.0 132.9,388.9 133.9,388.3 134.8,387.3 135.7,385.9 136.7,384.2 137.6,382.2 138.5,380.2 139.5,378.3 140.4,376.6 141.3,375.0 143.5,371.7 145.7,368.7 147.7,365.6 149.6,362.5 151.4,359.1 153.0,355.8 154.4,352.3 155.8,348.9 157.2,345.4 158.5,341.9 159.7,338.4 160.9,334.8 162.1,331.3 163.3,327.8 164.5,324.3 165.6,320.7 166.6,317.1 167.6,313.5 168.5,309.9 169.4,306.3 170.3,302.7 171.2,299.0 172.0,295.4 172.9,291.8 173.7,288.1 174.6,284.5 175.4,280.9 176.3,277.3 177.1,273.6 178.0,270.0 178.9,266.4 179.7,262.8 180.6,259.1 181.5,255.5 182.4,251.9 183.3,248.3 184.2,244.7 185.1,241.1 186.0,237.5 187.0,233.9 187.9,230.3 188.9,226.7 189.8,223.1 190.8,219.5 191.7,215.9 192.7,212.3 193.6,208.7 194.6,205.1 195.5,201.5 196.5,198.0 197.4,194.4 198.4,190.8 199.4,187.2 200.4,183.6 201.3,180.1 202.4,176.5 203.4,172.9 204.4,169.4 205.5,165.8 206.6,162.3 207.8,158.8 209.1,155.4 210.4,151.9 211.7,148.5 212.9,145.0 214.2,141.5 215.4,138.0 216.5,134.5 217.7,131.0 218.9,127.5 220.0,124.0 221.2,120.5 222.4,117.0 223.6,113.5 224.9,110.0 226.1,106.5 227.3,103.0 228.5,99.5 229.7,96.0 230.9,92.6 232.1,89.1 233.3,85.6 234.6,82.1 235.8,78.6 237.0,75.2 238.1,71.7 239.3,68.2 240.4,64.7 241.6,61.3 242.8,57.9 244.1,54.5 245.4,51.1 246.7,47.7 248.0,44.3 249.4,41.0 250.9,37.7 252.7,34.6 254.7,31.7 257.0,28.9 259.4,26.4 262.1,24.3 265.1,22.4 268.3,20.9 271.7,19.9 275.3,19.3 279.0,19.0 282.7,18.9 286.3,18.8 290.0,18.8 293.2,18.7 296.3,18.7 299.5,18.9 302.7,19.1 305.9,19.4 309.0,19.8 312.2,20.2 315.4,20.6 318.5,21.0 321.7,21.4 324.9,21.7 328.0,21.9 331.2,22.1 334.4,22.3 337.6,22.4 340.7,22.6 343.9,22.7 347.1,22.9 350.2,23.1 353.4,23.2 356.6,23.3 359.8,23.5 362.9,23.6 366.1,23.7 369.3,23.8 372.4,23.8 375.6,23.7 378.8,23.7 381.9,23.8 385.1,23.9 388.3,24.1 391.5,24.3 394.6,24.7 397.8,25.0 401.0,25.4 404.1,25.8 407.3,26.3 410.5,26.9 413.6,28.2 416.8,28.9 420.0,28.7 423.2,28.2 426.3,27.7 429.5,27.4 430.6,27.5 431.7,27.6 432.7,27.8 433.8,28.1 434.9,28.5 436.0,28.9 437.1,29.3 438.1,29.7 439.2,30.3 440.3,31.0 441.4,31.9 442.5,33.1 443.5,34.6 444.6,36.3 445.7,38.1 446.8,39.9 447.9,41.5 448.9,42.8 450.0,43.3 451.1,43.0 452.2,41.9 453.2,40.4 454.3,38.4 455.4,36.0 456.5,33.8 457.6,31.7 458.6,29.5 459.7,26.8 460.8,23.9 461.9,21.1 463.0,18.4 464.0,16.8 465.1,15.7 466.2,14.9 467.3,13.0 468.4,13.3 469.4,13.3 470.5,12.8 471.6,12.8 472.7,12.8 473.8,12.8 474.8,12.8 475.9,12.8 477.0,12.7 480.4,12.7 483.9,12.7 487.3,12.7 490.8,12.6 494.2,12.6 497.6,12.6 501.1,12.6 504.5,12.6 508.0,12.6 511.4,12.5 514.8,12.5 518.3,12.5 521.7,12.5 525.2,12.5 528.6,12.5 532.1,12.5 535.5,12.5 538.9,12.5 542.4,12.5 545.8,12.5 549.3,12.5 552.7,12.5 556.1,12.5 559.6,12.5 563.0,12.5 566.5,12.5 569.9,12.5 573.3,12.5 576.8,12.5 580.2,12.5 583.7,12.6 587.1,12.6 590.5,12.6 594.0,12.6 597.4,12.6 600.9,12.6 604.3,12.7 607.7,12.7 611.2,12.7 614.6,12.7 618.1,12.7 621.5,12.7 624.9,12.8 628.4,12.8 631.8,12.8 635.3,12.8 638.7,12.9 642.2,12.9 645.6,13.0 649.0,13.0 652.5,13.1 655.9,13.2 659.4,13.2 662.8,13.3 666.2,13.4 669.7,13.6 673.1,13.7 676.6,13.9 680.0,14.1 681.6,14.2 683.3,14.3 684.9,14.4 686.5,14.5 688.2,14.6 689.8,14.7 691.5,14.8 693.1,15.0 694.7,15.1 696.4,15.3 698.0,15.5 699.6,15.6 701.3,15.8 702.9,16.0 704.6,16.3 706.2,16.5 707.8,16.8 709.5,17.1 711.1,17.4 712.8,17.7 714.4,18.1 716.0,18.4 717.7,18.8 719.3,19.2 720.9,19.5 722.6,19.9 724.2,20.3 725.9,20.7 727.5,21.2 729.1,21.6 730.8,22.1 732.4,22.7 734.1,23.2 735.7,23.8 737.3,24.4 739.0,25.0 740.6,25.7 742.2,26.5 743.9,27.2 745.5,28.0 747.2,28.9 748.8,29.7 750.4,30.6 752.1,31.5 753.7,32.6 755.3,33.7 757.0,35.1 758.6,36.7 760.3,38.4 761.9,40.0 763.5,41.6 765.2,43.1 766.8,44.7 768.5,46.3 770.1,48.0 771.7,49.7 773.4,51.5 775.0,53.3 776.6,55.3 778.3,57.2 779.9,59.2 781.6,61.2 783.2,63.2 784.8,65.2 786.5,67.2 788.1,69.2 789.7,71.3 791.4,73.4 793.0,75.7 794.7,78.0 796.3,80.4 797.9,82.8 799.6,85.2 801.2,87.7 802.8,90.3 804.5,93.2 806.1,97.1 807.8,101.5 809.4,106.1 811.0,110.7 812.7,115.2 814.3,119.6 816.0,124.1 817.6,128.8 819.2,133.9 820.9,139.5 822.5,145.9 824.1,152.9 825.8,160.5" stroke="#77AC30"/>
<path d="M105.1,373.9 106.0,379.6 106.9,386.4 107.7,391.4 108.6,393.8 109.5,394.0 110.4,392.8 111.3,390.9 112.1,388.5 113.0,385.9 113.9,383.1 114.8,380.4 115.7,377.7 116.5,375.1 117.4,372.8 118.3,370.6 119.2,368.2 120.1,365.8 120.9,363.2 121.8,360.5 122.7,358.0 123.6,355.6 124.5,353.7 125.3,352.4 126.2,351.8 127.1,351.9 128.0,352.3 128.9,352.8 129.7,353.2 130.6,353.5 131.5,353.5 132.4,353.2 133.3,352.5 134.1,351.3 135.0,349.4 135.9,346.8 136.8,344.0 137.7,341.3 138.5,339.0 139.4,336.9 141.5,332.9 143.9,330.4 146.2,327.9 148.3,325.1 150.1,322.1 151.7,319.0 153.0,315.8 154.2,312.5 155.2,309.2 156.2,305.9 157.2,302.5 158.0,299.1 158.9,295.8 159.7,292.4 160.5,289.0 161.3,285.6 162.1,282.3 162.8,278.9 163.5,275.4 164.2,272.0 164.9,268.6 165.6,265.2 166.2,261.8 166.9,258.4 167.6,255.0 168.3,251.6 169.0,248.2 169.7,244.8 170.3,241.4 171.1,238.0 171.8,234.6 172.5,231.2 173.3,227.8 174.1,224.4 174.9,221.0 175.7,217.7 176.5,214.3 177.3,210.9 178.2,207.6 179.1,204.2 180.0,200.9 180.9,197.5 181.9,194.2 182.8,190.9 183.8,187.6 184.8,184.2 185.7,180.9 186.7,177.6 187.7,174.3 188.7,171.0 189.7,167.6 190.7,164.3 191.8,161.0 192.8,157.7 193.9,154.5 195.0,151.2 196.1,147.9 197.2,144.6 198.5,141.4 199.8,138.2 201.2,135.1 202.7,132.0 204.2,128.9 205.7,125.8 207.2,122.7 208.5,119.5 209.7,116.2 210.9,113.0 212.0,109.7 213.1,106.5 214.2,103.2 215.4,99.9 216.5,96.7 217.7,93.4 218.8,90.2 220.0,87.0 221.2,83.7 222.4,80.5 223.6,77.3 224.8,74.0 226.1,70.8 227.4,67.7 228.8,64.5 230.1,61.3 231.4,58.2 232.8,55.0 234.2,51.9 235.6,48.8 237.2,45.7 238.8,42.7 240.5,39.8 242.2,36.8 243.8,33.8 245.5,30.8 247.3,27.9 249.3,25.2 251.6,22.7 254.1,20.4 256.8,18.5 259.8,16.9 262.9,15.7 266.2,14.9 269.5,14.4 272.9,14.0 276.3,13.8 279.7,13.6 283.1,13.6 286.6,13.7 290.0,13.7 293.2,13.6 296.3,13.6 299.5,13.7 302.7,13.7 305.9,13.8 309.0,13.8 312.2,13.9 315.4,14.0 318.5,14.1 321.7,14.2 324.9,14.2 328.0,14.3 331.2,14.3 334.4,14.3 337.6,14.4 340.7,14.4 343.9,14.4 347.1,14.5 350.2,14.5 353.4,14.5 356.6,14.5 359.8,14.6 362.9,14.6 366.1,14.6 369.3,14.6 372.4,14.6 375.6,14.6 378.8,14.6 381.9,14.6 385.1,14.6 388.3,14.7 391.5,14.7 394.6,14.8 397.8,14.9 401.0,14.9 404.1,15.0 407.3,15.1 410.5,15.2 413.6,15.5 416.8,15.6 420.0,15.6 423.2,15.5 426.3,15.4 429.5,15.3 430.6,15.4 431.7,15.4 432.7,15.4 433.8,15.5 434.9,15.5 436.0,15.6 437.1,15.7 438.1,15.8 439.2,16.0 440.3,16.2 441.4,16.5 442.5,16.8 443.5,17.3 444.6,17.8 445.7,18.3 446.8,18.9 447.9,19.4 448.9,19.9 450.0,20.3 451.1,20.4 452.2,20.3 453.3,19.9 454.3,19.2 455.4,18.5 456.5,17.8 457.6,17.2 458.6,16.5 459.7,15.7 460.8,14.9 461.9,14.3 463.0,13.7 464.0,13.3 465.1,13.1 466.2,12.9 467.3,12.5 468.4,12.6 469.4,12.6 470.5,12.5 471.6,12.5 472.7,12.5 473.8,12.5 474.8,12.5 475.9,12.5 477.0,12.5 480.4,12.5 483.9,12.4 487.3,12.4 490.8,12.4 494.2,12.4 497.6,12.4 501.1,12.4 504.5,12.4 508.0,12.4 511.4,12.4 514.8,12.3 518.3,12.3 521.7,12.3 525.2,12.3 528.6,12.3 532.1,12.3 535.5,12.3 538.9,12.3 542.4,12.3 545.8,12.3 549.3,12.3 552.7,12.3 556.1,12.3 559.6,12.3 563.0,12.3 566.5,12.3 569.9,12.3 573.3,12.3 576.8,12.3 580.2,12.3 583.7,12.3 587.1,12.3 590.5,12.3 594.0,12.3 597.4,12.3 600.9,12.3 604.3,12.3 607.7,12.3 611.2,12.3 614.6,12.3 618.1,12.3 621.5,12.3 624.9,12.3 628.4,12.3 631.8,12.3 635.3,12.3 638.7,12.3 642.2,12.3 645.6,12.4 649.0,12.4 652.5,12.4 655.9,12.4 659.4,12.4 662.8,12.5 666.2,12.5 669.7,12.6 673.1,12.6 676.6,12.7 680.0,12.7 681.6,12.8 683.3,12.8 684.9,12.9 686.6,13.0 688.2,13.0 689.8,13.1 691.5,13.2 693.1,13.2 694.8,13.3 696.4,13.4 698.0,13.5 699.7,13.6 701.3,13.7 703.0,13.9 704.6,14.0 706.2,14.2 707.9,14.4 709.5,14.6 711.1,14.8 712.8,15.0 714.4,15.3 716.1,15.6 717.7,15.9 719.3,16.2 721.0,16.6 722.6,16.9 724.3,17.3 725.9,17.7 727.5,18.1 729.2,18.6 730.8,19.1 732.4,19.6 734.1,20.2 735.7,20.8 737.4,21.4 739.0,22.0 740.6,22.6 742.3,23.2 743.9,23.8 745.6,24.4 747.2,25.1 748.8,25.8 750.5,26.5 752.1,27.2 753.7,28.0 755.4,28.9 757.0,30.0 758.7,31.2 760.3,32.5 761.9,33.8 763.6,34.9 765.2,36.1 766.9,37.4 768.5,38.7 770.1,40.0 771.8,41.4 773.4,42.9 775.0,44.3 776.7,45.9 778.3,47.5 780.0,49.2 781.6,50.8 783.2,52.5 784.9,54.2 786.5,55.9 788.2,57.7 789.8,59.6 791.4,61.6 793.1,63.6 794.7,65.8 796.4,68.1 798.0,70.3 799.6,72.6 801.3,75.0 802.9,77.4 804.5,80.1 806.2,83.5 807.8,87.2 809.5,91.1 811.1,95.0 812.7,98.9 814.4,102.7 816.0,106.6 817.7,110.7 819.3,115.2 820.9,120.4 822.6,126.6 824.2,133.5 825.9,140.8" stroke="#4DBEEE"/>
<path d="M105.1,373.1 106.0,378.9 106.9,385.7 107.8,390.7 108.6,393.0 109.5,393.2 110.4,392.0 111.3,390.0 112.1,387.6 113.0,384.9 113.9,382.0 114.8,379.2 115.6,376.4 116.5,373.8 117.4,371.4 118.3,369.0 119.1,366.5 120.0,363.9 120.9,361.1 121.8,358.3 122.6,355.5 123.5,353.0 124.4,350.9 125.3,349.5 126.1,348.9 127.0,348.9 127.9,349.4 128.8,350.0 129.6,350.6 130.5,351.0 131.4,351.2 132.3,351.0 133.1,350.3 134.0,349.1 134.9,347.2 135.8,344.5 136.6,341.4 137.5,338.6 138.4,336.0 139.3,333.7 141.3,329.4 143.7,326.9 146.1,324.3 148.2,321.5 150.0,318.5 151.5,315.4 152.9,312.1 154.0,308.8 155.0,305.4 156.0,302.1 156.9,298.7 157.7,295.3 158.5,291.9 159.3,288.4 160.1,285.0 160.8,281.6 161.5,278.2 162.2,274.7 162.9,271.3 163.6,267.8 164.2,264.4 164.9,261.0 165.5,257.5 166.2,254.1 166.8,250.6 167.4,247.2 168.1,243.8 168.7,240.3 169.4,236.9 170.1,233.5 170.8,230.1 171.5,226.7 172.2,223.2 173.0,219.8 173.7,216.4 174.5,213.0 175.3,209.7 176.1,206.3 177.0,202.9 177.8,199.5 178.7,196.2 179.6,192.8 180.6,189.5 181.5,186.2 182.5,182.8 183.4,179.5 184.4,176.2 185.4,172.8 186.3,169.5 187.3,166.2 188.3,162.9 189.4,159.6 190.4,156.3 191.5,153.0 192.5,149.7 193.6,146.4 194.7,143.2 195.9,139.9 197.1,136.7 198.4,133.5 199.9,130.4 201.4,127.4 203.0,124.3 204.5,121.2 206.0,118.1 207.3,114.9 208.5,111.7 209.7,108.5 210.8,105.3 211.9,102.0 213.0,98.8 214.1,95.5 215.2,92.3 216.4,89.0 217.5,85.8 218.7,82.6 219.8,79.4 221.0,76.2 222.2,73.0 223.5,69.8 224.7,66.6 226.0,63.5 227.4,60.3 228.7,57.2 230.1,54.1 231.5,51.0 233.0,47.9 234.5,44.9 236.1,41.9 237.8,39.0 239.6,36.2 241.4,33.3 243.1,30.4 244.9,27.5 246.8,24.8 248.9,22.1 251.3,19.8 253.9,17.7 256.8,15.9 259.9,14.6 263.1,13.6 266.4,13.1 269.8,12.8 273.2,12.6 276.5,12.4 279.9,12.3 283.3,12.4 286.6,12.4 290.0,12.4 293.2,12.4 296.3,12.4 299.5,12.4 302.7,12.4 305.9,12.4 309.0,12.4 312.2,12.4 315.4,12.4 318.5,12.4 321.7,12.4 324.9,12.4 328.0,12.4 331.2,12.4 334.4,12.4 337.6,12.4 340.7,12.4 343.9,12.4 347.1,12.4 350.2,12.4 353.4,12.4 356.6,12.4 359.8,12.4 362.9,12.4 366.1,12.4 369.3,12.4 372.4,12.4 375.6,12.4 378.8,12.4 381.9,12.4 385.1,12.4 388.3,12.4 391.5,12.4 394.6,12.4 397.8,12.4 401.0,12.4 404.1,12.4 407.3,12.4 410.5,12.4 413.6,12.4 416.8,12.4 420.0,12.4 423.2,12.4 426.3,12.4 429.5,12.4 430.6,12.4 431.7,12.4 432.7,12.4 433.8,12.4 434.9,12.4 436.0,12.4 437.1,12.4 438.1,12.4 439.2,12.5 440.3,12.6 441.4,12.7 442.5,12.9 443.5,13.1 444.6,13.3 445.7,13.5 446.8,13.8 447.9,14.0 448.9,14.3 450.0,14.7 451.1,14.9 452.2,15.0 453.2,14.9 454.3,14.6 455.4,14.3 456.5,13.9 457.6,13.7 458.6,13.3 459.7,13.0 460.8,12.8 461.9,12.6 463.0,12.5 464.0,12.5 465.1,12.4 466.2,12.4 467.3,12.4 468.4,12.4 469.4,12.4 470.5,12.4 471.6,12.4 472.7,12.4 473.8,12.4 474.8,12.4 475.9,12.4 477.0,12.4 480.4,12.4 483.9,12.4 487.3,12.4 490.8,12.4 494.2,12.4 497.6,12.4 501.1,12.3 504.5,12.3 508.0,12.3 511.4,12.3 514.8,12.3 518.3,12.3 521.7,12.3 525.2,12.3 528.6,12.3 532.1,12.3 535.5,12.3 538.9,12.3 542.4,12.2 545.8,12.2 549.3,12.2 552.7,12.2 556.1,12.2 559.6,12.2 563.0,12.2 566.5,12.2 569.9,12.2 573.3,12.2 576.8,12.2 580.2,12.2 583.7,12.2 587.1,12.2 590.5,12.2 594.0,12.2 597.4,12.2 600.9,12.2 604.3,12.2 607.7,12.2 611.2,12.2 614.6,12.2 618.1,12.2 621.5,12.2 624.9,12.2 628.4,12.2 631.8,12.2 635.3,12.2 638.7,12.2 642.2,12.2 645.6,12.2 649.0,12.2 652.5,12.2 655.9,12.2 659.4,12.2 662.8,12.3 666.2,12.3 669.7,12.3 673.1,12.3 676.6,12.4 680.0,12.4 681.6,12.4 683.3,12.5 684.9,12.5 686.6,12.6 688.2,12.6 689.8,12.7 691.5,12.8 693.1,12.8 694.8,12.9 696.4,13.0 698.0,13.1 699.7,13.2 701.3,13.3 703.0,13.4 704.6,13.5 706.2,13.7 707.9,13.9 709.5,14.1 711.2,14.3 712.8,14.5 714.4,14.8 716.1,15.0 717.7,15.4 719.3,15.7 721.0,16.0 722.6,16.4 724.3,16.8 725.9,17.2 727.5,17.7 729.2,18.2 730.8,18.7 732.4,19.2 734.1,19.8 735.7,20.4 737.4,21.1 739.0,21.7 740.6,22.3 742.3,22.9 743.9,23.5 745.6,24.1 747.2,24.8 748.8,25.4 750.5,26.1 752.1,26.9 753.7,27.6 755.4,28.5 757.0,29.6 758.7,30.8 760.3,32.0 761.9,33.2 763.6,34.4 765.2,35.6 766.9,36.8 768.5,38.1 770.1,39.4 771.8,40.7 773.4,42.1 775.1,43.6 776.7,45.1 778.3,46.7 780.0,48.3 781.6,50.0 783.2,51.7 784.9,53.3 786.5,55.0 788.2,56.8 789.8,58.6 791.4,60.6 793.1,62.7 794.7,64.8 796.4,67.1 798.0,69.3 799.6,71.6 801.3,74.0 802.9,76.4 804.6,79.0 806.2,82.4 807.8,86.1 809.5,89.9 811.1,93.8 812.7,97.6 814.4,101.3 816.0,105.1 817.7,109.2 819.3,113.6 820.9,118.9 822.6,125.1 824.2,132.0 825.9,139.2" stroke="#A2142F"/>
<path d="M105.2,370.7 106.0,376.5 106.9,383.4 107.8,388.5 108.6,390.9 109.5,391.0 110.4,389.7 111.2,387.6 112.1,385.0 113.0,382.2 113.8,379.2 114.7,376.2 115.6,373.3 116.5,370.5 117.3,368.0 118.2,365.5 119.1,362.9 119.9,360.2 120.8,357.4 121.7,354.4 122.5,351.6 123.4,348.9 124.3,346.7 125.1,345.1 126.0,344.3 126.9,344.1 127.7,344.5 128.6,345.0 129.4,345.4 130.3,345.7 131.2,345.8 132.0,345.6 132.9,344.9 133.8,343.7 134.6,341.8 135.5,339.0 136.4,335.9 137.2,333.0 138.1,330.3 139.0,327.9 141.0,323.6 143.5,321.4 145.9,319.1 148.0,316.5 149.8,313.7 151.4,310.8 152.7,307.8 153.8,304.7 154.8,301.5 155.8,298.3 156.6,295.1 157.5,291.9 158.2,288.7 159.0,285.5 159.8,282.3 160.5,279.0 161.2,275.8 161.9,272.5 162.6,269.3 163.3,266.0 164.0,262.8 164.6,259.5 165.3,256.3 166.0,253.0 166.6,249.8 167.3,246.5 168.0,243.2 168.7,240.0 169.4,236.7 170.1,233.5 170.8,230.2 171.6,227.0 172.3,223.7 173.1,220.5 173.9,217.2 174.7,214.0 175.6,210.7 176.4,207.5 177.3,204.3 178.2,201.1 179.2,197.8 180.1,194.6 181.1,191.4 182.1,188.2 183.1,185.0 184.1,181.8 185.1,178.6 186.1,175.4 187.1,172.2 188.1,169.0 189.2,165.8 190.2,162.6 191.3,159.4 192.4,156.2 193.5,153.1 194.6,149.9 195.8,146.7 196.9,143.5 198.2,140.4 199.5,137.3 201.0,134.3 202.5,131.3 204.1,128.3 205.6,125.3 207.0,122.2 208.4,119.1 209.6,116.0 210.8,112.8 212.0,109.6 213.1,106.4 214.3,103.2 215.4,100.0 216.5,96.8 217.7,93.7 218.9,90.5 220.1,87.3 221.3,84.1 222.5,81.0 223.8,77.8 225.0,74.6 226.3,71.5 227.7,68.4 229.0,65.2 230.4,62.1 231.7,59.0 233.1,55.9 234.5,52.8 235.9,49.7 237.4,46.6 239.1,43.6 240.7,40.6 242.4,37.6 244.0,34.6 245.6,31.6 247.4,28.7 249.4,25.9 251.6,23.4 254.1,21.0 256.8,19.1 259.8,17.4 262.9,16.2 266.1,15.4 269.4,14.8 272.8,14.4 276.2,14.1 279.7,13.9 283.1,13.9 286.6,14.0 290.0,14.0 293.2,13.9 296.3,13.9 299.5,14.0 302.7,14.0 305.9,14.1 309.0,14.2 312.2,14.3 315.4,14.4 318.5,14.5 321.7,14.6 324.9,14.6 328.0,14.7 331.2,14.8 334.4,14.8 337.6,14.8 340.7,14.9 343.9,14.9 347.1,14.9 350.2,15.0 353.4,15.0 356.6,15.1 359.8,15.1 362.9,15.1 366.1,15.1 369.3,15.2 372.4,15.2 375.6,15.2 378.8,15.1 381.9,15.2 385.1,15.2 388.3,15.2 391.5,15.3 394.6,15.4 397.8,15.5 401.0,15.5 404.1,15.6 407.3,15.8 410.5,15.9 413.6,16.2 416.8,16.4 420.0,16.3 423.2,16.2 426.3,16.1 429.5,16.0 430.6,16.1 431.7,16.1 432.7,16.1 433.8,16.2 434.9,16.3 436.0,16.4 437.1,16.5 438.1,16.6 439.2,16.8 440.3,17.1 441.4,17.4 442.5,17.8 443.5,18.3 444.6,18.9 445.7,19.5 446.8,20.1 447.9,20.7 448.9,21.2 450.0,21.6 451.1,21.7 452.2,21.5 453.2,21.1 454.3,20.4 455.4,19.5 456.5,18.8 457.6,18.0 458.6,17.2 459.7,16.4 460.8,15.5 461.9,14.7 463.0,13.9 464.0,13.5 465.1,13.2 466.2,13.0 467.3,12.6 468.4,12.6 469.4,12.6 470.5,12.5 471.6,12.5 472.7,12.5 473.8,12.5 474.8,12.5 475.9,12.5 477.0,12.5 480.4,12.5 483.9,12.5 487.3,12.4 490.8,12.4 494.2,12.4 497.6,12.4 501.1,12.4 504.5,12.4 508.0,12.4 511.4,12.4 514.8,12.4 518.3,12.3 521.7,12.3 525.2,12.3 528.6,12.3 532.1,12.3 535.5,12.3 538.9,12.3 542.4,12.3 545.8,12.3 549.3,12.3 552.7,12.3 556.1,12.3 559.6,12.3 563.0,12.3 566.5,12.3 569.9,12.3 573.3,12.3 576.8,12.3 580.2,12.3 583.7,12.3 587.1,12.3 590.5,12.3 594.0,12.3 597.4,12.3 600.9,12.3 604.3,12.3 607.7,12.3 611.2,12.3 614.6,12.3 618.1,12.3 621.5,12.3 624.9,12.3 628.4,12.3 631.8,12.3 635.3,12.3 638.7,12.4 642.2,12.4 645.6,12.4 649.0,12.4 652.5,12.4 655.9,12.5 659.4,12.5 662.8,12.5 666.2,12.6 669.7,12.6 673.1,12.7 676.6,12.7 680.0,12.8 681.6,12.9 683.3,12.9 684.9,13.0 686.6,13.1 688.2,13.1 689.8,13.2 691.5,13.3 693.1,13.4 694.8,13.5 696.4,13.6 698.0,13.8 699.7,13.9 701.3,14.0 702.9,14.2 704.6,14.4 706.2,14.6 707.9,14.8 709.5,15.0 711.1,15.3 712.8,15.6 714.4,15.9 716.1,16.2 717.7,16.6 719.3,17.0 721.0,17.4 722.6,17.8 724.2,18.3 725.9,18.7 727.5,19.2 729.2,19.8 730.8,20.3 732.4,21.0 734.1,21.6 735.7,22.3 737.3,23.0 739.0,23.7 740.6,24.4 742.3,25.1 743.9,25.8 745.5,26.5 747.2,27.3 748.8,28.1 750.4,28.9 752.1,29.7 753.7,30.7 755.4,31.7 757.0,33.0 758.6,34.4 760.3,36.0 761.9,37.4 763.6,38.8 765.2,40.2 766.8,41.7 768.5,43.2 770.1,44.7 771.7,46.3 773.4,47.9 775.0,49.6 776.7,51.4 778.3,53.2 779.9,55.0 781.6,56.9 783.2,58.8 784.9,60.6 786.5,62.5 788.1,64.4 789.8,66.4 791.4,68.5 793.0,70.6 794.7,72.9 796.3,75.2 798.0,77.6 799.6,80.0 801.2,82.4 802.9,84.9 804.5,87.7 806.2,91.4 807.8,95.5 809.4,99.8 811.1,104.1 812.7,108.4 814.3,112.6 816.0,116.8 817.6,121.2 819.3,126.1 820.9,131.5 822.5,137.8 824.2,144.8 825.8,152.3" stroke="#0072BD"/>
<path d="M104.9,386.3 105.8,391.7 106.8,398.0 107.7,402.5 108.6,404.6 109.5,404.9 110.4,404.1 111.3,402.7 112.2,400.9 113.2,398.9 114.1,396.9 115.0,394.8 115.9,392.7 116.8,390.8 117.7,389.1 118.7,387.3 119.6,385.3 120.5,383.3 121.4,381.0 122.3,378.8 123.2,376.7 124.2,375.0 125.1,373.8 126.0,373.2 126.9,373.2 127.8,373.8 128.7,374.6 129.7,375.4 130.6,376.0 131.5,376.4 132.4,376.5 133.3,376.1 134.2,375.3 135.2,373.9 136.1,372.1 137.0,369.8 137.9,367.5 138.8,365.4 139.7,363.5 140.7,361.8 142.8,358.3 145.1,355.5 147.2,352.7 149.2,349.7 150.9,346.5 152.5,343.2 154.0,339.9 155.3,336.5 156.5,333.1 157.7,329.7 158.8,326.3 160.0,322.8 161.0,319.4 162.1,316.0 163.2,312.5 164.2,309.0 165.1,305.5 166.0,302.0 166.9,298.5 167.7,295.0 168.5,291.5 169.3,287.9 170.1,284.4 170.9,280.9 171.7,277.3 172.5,273.8 173.3,270.3 174.1,266.8 175.0,263.2 175.8,259.7 176.6,256.2 177.4,252.7 178.3,249.1 179.1,245.6 180.0,242.1 180.9,238.6 181.8,235.1 182.7,231.6 183.6,228.1 184.5,224.6 185.4,221.1 186.4,217.6 187.3,214.1 188.3,210.6 189.3,207.1 190.2,203.6 191.2,200.2 192.2,196.7 193.1,193.2 194.1,189.7 195.1,186.2 196.1,182.8 197.1,179.3 198.1,175.8 199.1,172.3 200.1,168.9 201.2,165.4 202.3,162.0 203.4,158.6 204.6,155.2 205.9,151.8 207.2,148.5 208.6,145.1 209.9,141.8 211.2,138.5 212.5,135.1 213.7,131.7 214.9,128.3 216.1,124.8 217.2,121.4 218.4,118.0 219.5,114.6 220.7,111.2 221.9,107.7 223.1,104.4 224.3,101.0 225.5,97.6 226.8,94.2 228.0,90.8 229.2,87.4 230.4,84.0 231.7,80.6 232.9,77.2 234.2,73.8 235.4,70.5 236.7,67.1 237.9,63.7 239.1,60.3 240.4,57.0 241.7,53.7 243.1,50.5 244.5,47.2 245.9,43.9 247.3,40.6 248.8,37.4 250.5,34.3 252.4,31.3 254.6,28.6 256.9,26.1 259.5,23.8 262.4,21.9 265.4,20.3 268.6,19.1 272.1,18.3 275.6,17.8 279.2,17.5 282.8,17.5 286.4,17.4 290.0,17.4 293.2,17.3 296.3,17.3 299.5,17.4 302.7,17.6 305.9,17.9 309.0,18.2 312.2,18.5 315.4,18.8 318.5,19.1 321.7,19.4 324.9,19.6 328.0,19.8 331.2,20.0 334.4,20.1 337.6,20.2 340.7,20.3 343.9,20.5 347.1,20.6 350.2,20.7 353.4,20.8 356.6,20.9 359.8,21.0 362.9,21.1 366.1,21.2 369.3,21.2 372.4,21.3 375.6,21.2 378.8,21.2 381.9,21.3 385.1,21.3 388.3,21.5 391.5,21.7 394.6,21.9 397.8,22.2 401.0,22.5 404.1,22.9 407.3,23.2 410.5,23.7 413.6,24.7 416.8,25.2 420.0,25.1 423.2,24.7 426.3,24.3 429.5,24.1 430.6,24.1 431.7,24.2 432.7,24.4 433.8,24.6 434.9,24.9 436.0,25.2 437.1,25.6 438.1,25.9 439.2,26.4 440.3,26.9 441.4,27.7 442.5,28.6 443.5,29.8 444.6,31.2 445.7,32.7 446.8,34.1 447.9,35.5 448.9,36.5 450.0,37.0 451.1,36.8 452.2,35.9 453.2,34.8 454.3,33.1 455.4,31.2 456.5,29.4 457.6,27.7 458.6,25.9 459.7,23.8 460.8,21.4 461.9,19.2 463.0,17.1 464.0,15.8 465.1,15.0 466.2,14.4 467.3,12.9 468.4,13.1 469.4,13.1 470.5,12.7 471.6,12.7 472.7,12.7 473.8,12.7 474.8,12.7 475.9,12.7 477.0,12.7 480.4,12.6 483.9,12.6 487.3,12.6 490.8,12.6 494.2,12.6 497.6,12.5 501.1,12.5 504.5,12.5 508.0,12.5 511.4,12.5 514.8,12.5 518.3,12.5 521.7,12.5 525.2,12.4 528.6,12.4 532.1,12.4 535.5,12.4 538.9,12.4 542.4,12.4 545.8,12.4 549.3,12.4 552.7,12.4 556.1,12.4 559.6,12.4 563.0,12.4 566.5,12.4 569.9,12.4 573.3,12.4 576.8,12.5 580.2,12.5 583.7,12.5 587.1,12.5 590.5,12.5 594.0,12.5 597.4,12.5 600.9,12.5 604.3,12.6 607.7,12.6 611.2,12.6 614.6,12.6 618.1,12.6 621.5,12.6 624.9,12.6 628.4,12.7 631.8,12.7 635.3,12.7 638.7,12.7 642.2,12.8 645.6,12.8 649.0,12.9 652.5,12.9 655.9,13.0 659.4,13.0 662.8,13.1 666.2,13.2 669.7,13.3 673.1,13.4 676.6,13.6 680.0,13.7 681.6,13.8 683.3,13.8 684.9,13.9 686.6,14.0 688.2,14.0 689.8,14.1 691.5,14.2 693.1,14.3 694.7,14.4 696.4,14.5 698.0,14.6 699.7,14.7 701.3,14.8 702.9,14.9 704.6,15.0 706.2,15.2 707.9,15.3 709.5,15.5 711.1,15.6 712.8,15.8 714.4,16.0 716.1,16.2 717.7,16.4 719.3,16.6 721.0,16.8 722.6,17.0 724.3,17.2 725.9,17.4 727.5,17.6 729.2,17.9 730.8,18.1 732.5,18.4 734.1,18.6 735.7,18.9 737.4,19.2 739.0,19.5 740.7,20.0 742.3,20.4 743.9,20.9 745.6,21.4 747.2,22.0 748.9,22.5 750.5,23.1 752.1,23.6 753.8,24.3 755.4,25.0 757.1,25.8 758.7,26.7 760.3,27.7 762.0,28.6 763.6,29.5 765.3,30.4 766.9,31.4 768.5,32.4 770.2,33.5 771.8,34.6 773.4,35.7 775.1,37.0 776.7,38.2 778.4,39.5 780.0,40.9 781.6,42.3 783.3,43.8 784.9,45.2 786.6,46.7 788.2,48.3 789.8,50.0 791.5,51.8 793.1,53.8 794.8,55.8 796.4,57.9 798.0,60.1 799.7,62.3 801.3,64.5 803.0,66.8 804.6,69.4 806.2,72.3 807.9,75.5 809.5,78.9 811.2,82.2 812.8,85.5 814.4,88.8 816.1,92.1 817.7,95.7 819.4,99.8 821.0,104.8 822.6,110.8 824.3,117.6 825.9,124.5" stroke="#D95319"/>
<path d="M104.7,400.2 105.7,405.3 106.6,411.0 107.6,414.9 108.5,416.7 109.5,417.1 110.5,416.7 111.4,415.9 112.4,414.7 113.3,413.5 114.3,412.2 115.2,410.8 116.2,409.6 117.1,408.5 118.1,407.3 119.1,406.2 120.0,404.8 121.0,403.4 121.9,401.9 122.9,400.5 123.8,399.3 124.8,398.3 125.8,397.8 126.7,397.7 127.7,398.0 128.6,398.6 129.6,399.2 130.5,399.8 131.5,400.2 132.5,400.3 133.4,400.2 134.4,399.7 135.3,398.8 136.3,397.7 137.3,396.4 138.2,395.0 139.2,393.6 140.1,392.3 141.1,391.1 142.0,389.7 144.2,386.4 146.3,383.2 148.3,379.9 150.2,376.5 151.9,373.1 153.5,369.5 155.0,366.0 156.4,362.4 157.9,358.8 159.3,355.2 160.7,351.6 162.0,348.0 163.3,344.4 164.6,340.8 165.9,337.1 167.2,333.5 168.3,329.8 169.4,326.1 170.4,322.4 171.3,318.6 172.3,314.9 173.2,311.1 174.1,307.4 175.0,303.7 175.9,299.9 176.8,296.2 177.7,292.4 178.6,288.7 179.5,285.0 180.4,281.2 181.3,277.5 182.2,273.8 183.2,270.0 184.1,266.3 185.0,262.6 185.9,258.8 186.8,255.1 187.8,251.4 188.7,247.7 189.6,244.0 190.6,240.2 191.5,236.5 192.5,232.8 193.4,229.1 194.4,225.4 195.3,221.7 196.2,218.0 197.2,214.3 198.1,210.6 199.0,206.9 200.0,203.2 200.9,199.5 201.9,195.8 202.8,192.1 203.8,188.4 204.7,184.7 205.7,181.0 206.7,177.3 207.8,173.7 208.8,170.0 210.0,166.4 211.1,162.8 212.3,159.2 213.6,155.6 214.8,152.0 215.9,148.4 217.1,144.8 218.3,141.2 219.5,137.6 220.6,134.0 221.8,130.4 223.0,126.8 224.1,123.1 225.4,119.6 226.7,116.0 227.9,112.4 229.1,108.8 230.3,105.2 231.5,101.7 232.7,98.1 233.9,94.5 235.1,90.9 236.3,87.3 237.4,83.7 238.6,80.1 239.7,76.5 240.7,72.9 241.8,69.4 242.9,65.8 244.0,62.3 245.2,58.8 246.4,55.3 247.5,51.7 248.7,48.2 250.0,44.8 251.4,41.4 253.1,38.1 254.9,34.9 257.0,32.0 259.3,29.2 261.9,26.7 264.8,24.6 267.9,22.8 271.4,21.6 275.1,20.9 278.8,20.6 282.5,20.4 286.3,20.4 290.0,20.3 293.2,20.2 296.3,20.2 299.5,20.4 302.7,20.7 305.9,21.1 309.0,21.6 312.2,22.1 315.4,22.6 318.5,23.0 321.7,23.5 324.9,23.8 328.0,24.1 331.2,24.4 334.4,24.6 337.6,24.8 340.7,25.0 343.9,25.1 347.1,25.3 350.2,25.5 353.4,25.7 356.6,25.9 359.8,26.1 362.9,26.2 366.1,26.3 369.3,26.4 372.4,26.4 375.6,26.4 378.8,26.4 381.9,26.4 385.1,26.6 388.3,26.8 391.5,27.1 394.6,27.5 397.8,28.0 401.0,28.4 404.1,29.0 407.3,29.5 410.5,30.3 413.6,31.8 416.8,32.7 420.0,32.5 423.2,31.9 426.3,31.3 429.5,31.0 430.6,31.0 431.7,31.1 432.7,31.3 433.8,31.7 434.9,32.2 436.0,32.7 437.1,33.2 438.1,33.8 439.2,34.4 440.3,35.3 441.4,36.4 442.5,37.8 443.5,39.6 444.6,41.7 445.7,43.9 446.8,46.0 447.9,48.0 448.9,49.4 450.0,50.0 451.1,49.6 452.2,48.2 453.2,46.4 454.3,43.9 455.4,41.1 456.5,38.5 457.6,35.9 458.6,33.2 459.7,30.1 460.8,26.4 461.9,23.1 463.0,19.8 464.0,17.8 465.1,16.5 466.2,15.5 467.3,13.2 468.4,13.6 469.4,13.5 470.5,12.9 471.6,12.9 472.7,12.9 473.8,12.9 474.8,12.9 475.9,12.8 477.0,12.8 480.4,12.8 483.9,12.8 487.3,12.7 490.8,12.7 494.2,12.7 497.6,12.7 501.1,12.6 504.5,12.6 508.0,12.6 511.4,12.6 514.8,12.6 518.3,12.6 521.7,12.5 525.2,12.5 528.6,12.5 532.1,12.5 535.5,12.5 538.9,12.5 542.4,12.5 545.8,12.5 549.3,12.5 552.7,12.5 556.1,12.5 559.6,12.5 563.0,12.5 566.5,12.6 569.9,12.6 573.3,12.6 576.8,12.6 580.2,12.6 583.7,12.7 587.1,12.7 590.5,12.7 594.0,12.7 597.4,12.7 600.9,12.8 604.3,12.8 607.7,12.8 611.2,12.8 614.6,12.8 618.1,12.8 621.5,12.9 624.9,12.9 628.4,12.9 631.8,13.0 635.3,13.0 638.7,13.1 642.2,13.1 645.6,13.2 649.0,13.2 652.5,13.3 655.9,13.4 659.4,13.5 662.8,13.6 666.2,13.7 669.7,13.9 673.1,14.0 676.6,14.2 680.0,14.5 681.6,14.6 683.3,14.6 684.9,14.7 686.5,14.8 688.2,14.9 689.8,15.0 691.5,15.1 693.1,15.2 694.7,15.4 696.4,15.5 698.0,15.6 699.6,15.7 701.3,15.9 702.9,16.0 704.6,16.2 706.2,16.4 707.8,16.6 709.5,16.7 711.1,16.9 712.8,17.1 714.4,17.4 716.0,17.6 717.7,17.8 719.3,18.0 721.0,18.2 722.6,18.4 724.2,18.6 725.9,18.8 727.5,19.0 729.2,19.2 730.8,19.4 732.4,19.6 734.1,19.8 735.7,20.0 737.4,20.2 739.0,20.5 740.6,21.0 742.3,21.6 743.9,22.1 745.6,22.7 747.2,23.3 748.8,23.9 750.5,24.5 752.1,25.1 753.8,25.8 755.4,26.6 757.0,27.5 758.7,28.6 760.3,29.7 762.0,30.8 763.6,31.8 765.2,32.8 766.9,33.9 768.5,35.1 770.2,36.2 771.8,37.5 773.4,38.7 775.1,40.1 776.7,41.4 778.4,42.9 780.0,44.4 781.6,45.9 783.3,47.4 784.9,49.0 786.5,50.6 788.2,52.3 789.8,54.0 791.5,55.9 793.1,57.9 794.7,60.0 796.4,62.2 798.0,64.4 799.7,66.6 801.3,68.9 802.9,71.3 804.6,73.9 806.2,77.0 807.9,80.4 809.5,84.0 811.1,87.6 812.8,91.2 814.4,94.7 816.1,98.2 817.7,102.0 819.3,106.3 821.0,111.3 822.6,117.4 824.2,124.3 825.9,131.4" stroke="#EDB120"/>
<path d="M105.0,383.5 105.9,388.9 106.8,395.3 107.7,399.9 108.6,402.0 109.5,402.3 110.4,401.4 111.3,399.8 112.2,397.8 113.1,395.7 114.0,393.4 114.9,391.1 115.8,388.9 116.8,386.8 117.7,384.9 118.6,383.0 119.5,381.1 120.4,379.0 121.3,376.8 122.2,374.6 123.1,372.5 124.0,370.7 124.9,369.3 125.8,368.4 126.7,368.1 127.6,368.2 128.5,368.5 129.4,368.9 130.3,369.1 131.2,369.1 132.1,368.9 133.0,368.4 133.9,367.4 134.8,366.1 135.8,364.3 136.7,362.0 137.6,359.6 138.5,357.4 139.4,355.5 140.3,353.7 142.4,350.5 144.7,348.0 146.9,345.4 148.9,342.6 150.7,339.7 152.3,336.7 153.7,333.6 155.0,330.4 156.2,327.3 157.4,324.1 158.5,320.8 159.5,317.6 160.6,314.4 161.6,311.1 162.6,307.9 163.6,304.6 164.6,301.3 165.5,298.0 166.3,294.7 167.1,291.4 168.0,288.0 168.8,284.7 169.6,281.4 170.4,278.0 171.2,274.7 172.1,271.3 172.9,268.0 173.7,264.7 174.5,261.3 175.4,258.0 176.2,254.6 177.1,251.3 178.0,247.9 178.9,244.6 179.8,241.2 180.7,237.9 181.6,234.5 182.6,231.2 183.5,227.8 184.5,224.5 185.5,221.2 186.4,217.8 187.4,214.5 188.5,211.1 189.5,207.8 190.5,204.4 191.5,201.1 192.5,197.7 193.5,194.4 194.5,191.0 195.5,187.7 196.5,184.3 197.6,181.0 198.6,177.6 199.7,174.3 200.7,170.9 201.8,167.6 202.9,164.3 204.1,160.9 205.3,157.6 206.6,154.3 207.9,151.1 209.3,147.9 210.7,144.6 212.0,141.3 213.3,138.0 214.5,134.7 215.7,131.4 216.9,128.0 218.1,124.7 219.3,121.3 220.5,118.0 221.7,114.6 222.9,111.3 224.2,107.9 225.5,104.6 226.7,101.3 228.0,97.9 229.2,94.6 230.5,91.2 231.7,87.9 233.0,84.5 234.2,81.2 235.5,77.8 236.7,74.4 237.9,71.1 239.1,67.7 240.3,64.3 241.5,60.8 242.7,57.5 244.0,54.1 245.3,50.7 246.6,47.3 247.9,43.9 249.3,40.6 250.9,37.4 252.7,34.3 254.7,31.3 257.0,28.6 259.4,26.2 262.2,24.0 265.1,22.2 268.3,20.7 271.8,19.7 275.4,19.1 279.0,18.9 282.7,18.7 286.3,18.7 290.0,18.7 293.2,18.6 296.3,18.6 299.5,18.7 302.7,19.0 305.9,19.3 309.0,19.7 312.2,20.1 315.4,20.5 318.5,20.8 321.7,21.2 324.9,21.5 328.0,21.7 331.2,21.9 334.4,22.1 337.6,22.2 340.7,22.4 343.9,22.5 347.1,22.7 350.2,22.8 353.4,23.0 356.6,23.1 359.8,23.2 362.9,23.3 366.1,23.4 369.3,23.5 372.4,23.5 375.6,23.5 378.8,23.5 381.9,23.5 385.1,23.6 388.3,23.8 391.5,24.1 394.6,24.4 397.8,24.7 401.0,25.1 404.1,25.5 407.3,26.0 410.5,26.6 413.6,27.8 416.8,28.5 420.0,28.3 423.2,27.9 426.3,27.4 429.5,27.1 430.6,27.1 431.7,27.2 432.7,27.4 433.8,27.7 434.9,28.1 436.0,28.5 437.1,28.9 438.1,29.3 439.2,29.9 440.3,30.6 441.4,31.5 442.5,32.6 443.5,34.1 444.6,35.8 445.7,37.6 446.8,39.3 447.9,40.9 448.9,42.1 450.0,42.7 451.1,42.4 452.2,41.3 453.2,39.9 454.3,37.8 455.4,35.5 456.5,33.4 457.6,31.3 458.6,29.1 459.7,26.5 460.8,23.6 461.9,20.9 463.0,18.3 464.0,16.7 465.1,15.6 466.2,14.8 467.3,13.0 468.4,13.3 469.4,13.3 470.5,12.8 471.6,12.8 472.7,12.8 473.8,12.8 474.8,12.8 475.9,12.7 477.0,12.7 480.4,12.7 483.9,12.7 487.3,12.7 490.8,12.6 494.2,12.6 497.6,12.6 501.1,12.6 504.5,12.6 508.0,12.5 511.4,12.5 514.8,12.5 518.3,12.5 521.7,12.5 525.2,12.5 528.6,12.5 532.1,12.5 535.5,12.5 538.9,12.5 542.4,12.5 545.8,12.5 549.3,12.5 552.7,12.5 556.1,12.5 559.6,12.5 563.0,12.5 566.5,12.5 569.9,12.5 573.3,12.5 576.8,12.5 580.2,12.5 583.7,12.6 587.1,12.6 590.5,12.6 594.0,12.6 597.4,12.6 600.9,12.6 604.3,12.6 607.7,12.7 611.2,12.7 614.6,12.7 618.1,12.7 621.5,12.7 624.9,12.7 628.4,12.8 631.8,12.8 635.3,12.8 638.7,12.9 642.2,12.9 645.6,13.0 649.0,13.0 652.5,13.1 655.9,13.1 659.4,13.2 662.8,13.3 666.2,13.4 669.7,13.5 673.1,13.7 676.6,13.9 680.0,14.0 681.6,14.1 683.3,14.2 684.9,14.3 686.5,14.4 688.2,14.6 689.8,14.7 691.5,14.8 693.1,15.0 694.7,15.1 696.4,15.3 698.0,15.5 699.6,15.6 701.3,15.8 702.9,16.1 704.6,16.3 706.2,16.6 707.8,16.8 709.5,17.1 711.1,17.4 712.8,17.8 714.4,18.1 716.0,18.5 717.7,18.9 719.3,19.3 720.9,19.7 722.6,20.1 724.2,20.5 725.9,21.0 727.5,21.4 729.1,21.9 730.8,22.5 732.4,23.0 734.0,23.6 735.7,24.2 737.3,24.8 739.0,25.5 740.6,26.3 742.2,27.0 743.9,27.8 745.5,28.7 747.2,29.5 748.8,30.4 750.4,31.3 752.1,32.3 753.7,33.3 755.3,34.6 757.0,36.0 758.6,37.7 760.3,39.5 761.9,41.1 763.5,42.7 765.2,44.3 766.8,45.9 768.4,47.6 770.1,49.4 771.7,51.2 773.4,53.0 775.0,54.9 776.6,56.9 778.3,58.9 779.9,60.9 781.5,63.0 783.2,65.1 784.8,67.1 786.5,69.1 788.1,71.2 789.7,73.3 791.4,75.5 793.0,77.7 794.6,80.1 796.3,82.5 797.9,84.9 799.6,87.4 801.2,89.9 802.8,92.5 804.5,95.4 806.1,99.4 807.8,103.9 809.4,108.6 811.0,113.3 812.7,118.0 814.3,122.5 815.9,127.1 817.6,131.9 819.2,137.1 820.9,142.7 822.5,149.2 824.1,156.2 825.8,163.9" stroke="#7E2F8E"/>
<path d="M104.9,387.9 105.8,393.3 106.7,399.5 107.7,404.0 108.6,406.0 109.5,406.3 110.4,405.6 111.3,404.2 112.3,402.5 113.2,400.6 114.1,398.6 115.0,396.6 115.9,394.7 116.9,392.9 117.8,391.2 118.7,389.5 119.6,387.6 120.5,385.7 121.5,383.6 122.4,381.5 123.3,379.6 124.2,378.0 125.1,376.8 126.1,376.3 127.0,376.3 127.9,376.8 128.8,377.5 129.8,378.1 130.7,378.6 131.6,378.9 132.5,378.9 133.4,378.4 134.4,377.5 135.3,376.2 136.2,374.5 137.1,372.3 138.0,370.1 139.0,368.2 139.9,366.4 140.8,364.8 143.0,361.5 145.2,358.8 147.4,356.0 149.3,353.1 151.1,350.1 152.7,346.9 154.1,343.7 155.4,340.4 156.7,337.1 158.0,333.8 159.1,330.5 160.3,327.2 161.4,323.8 162.6,320.5 163.7,317.1 164.8,313.8 165.8,310.4 166.7,307.0 167.6,303.5 168.5,300.1 169.3,296.7 170.2,293.2 171.1,289.8 171.9,286.3 172.8,282.9 173.6,279.4 174.5,276.0 175.3,272.5 176.2,269.1 177.1,265.6 177.9,262.2 178.8,258.7 179.7,255.3 180.6,251.8 181.5,248.4 182.4,244.9 183.4,241.5 184.3,238.0 185.3,234.6 186.2,231.1 187.2,227.7 188.2,224.2 189.2,220.8 190.2,217.3 191.2,213.9 192.1,210.4 193.1,207.0 194.1,203.5 195.1,200.1 196.1,196.6 197.1,193.2 198.1,189.7 199.1,186.3 200.1,182.8 201.1,179.4 202.2,175.9 203.2,172.5 204.3,169.1 205.4,165.6 206.6,162.2 207.8,158.8 209.1,155.5 210.4,152.1 211.8,148.8 213.0,145.4 214.3,142.0 215.5,138.6 216.7,135.2 217.9,131.8 219.1,128.3 220.3,124.9 221.5,121.5 222.7,118.0 223.9,114.6 225.2,111.2 226.5,107.8 227.7,104.4 228.9,101.0 230.2,97.6 231.4,94.1 232.7,90.7 233.9,87.3 235.1,83.9 236.4,80.4 237.6,77.0 238.7,73.6 239.9,70.1 241.0,66.6 242.1,63.1 243.3,59.7 244.6,56.2 245.8,52.8 247.0,49.3 248.3,45.9 249.6,42.5 251.1,39.2 252.9,36.0 254.8,33.0 257.0,30.2 259.4,27.6 262.1,25.3 264.9,23.3 268.1,21.7 271.6,20.6 275.2,19.9 278.9,19.6 282.6,19.5 286.3,19.5 290.0,19.4 293.2,19.3 296.3,19.3 299.5,19.5 302.7,19.7 305.9,20.1 309.0,20.5 312.2,21.0 315.4,21.4 318.5,21.9 321.7,22.2 324.9,22.5 328.0,22.8 331.2,23.0 334.4,23.2 337.6,23.4 340.7,23.5 343.9,23.7 347.1,23.9 350.2,24.1 353.4,24.2 356.6,24.4 359.8,24.5 362.9,24.7 366.1,24.8 369.3,24.8 372.4,24.8 375.6,24.8 378.8,24.8 381.9,24.9 385.1,25.0 388.3,25.2 391.5,25.5 394.6,25.8 397.8,26.2 401.0,26.6 404.1,27.1 407.3,27.6 410.5,28.3 413.6,29.7 416.8,30.4 420.0,30.2 423.2,29.7 426.3,29.2 429.5,28.9 430.6,28.9 431.7,29.0 432.7,29.2 433.8,29.5 434.9,30.0 436.0,30.4 437.1,30.9 438.1,31.4 439.2,32.0 440.3,32.7 441.4,33.7 442.5,35.0 443.5,36.6 444.6,38.5 445.7,40.5 446.8,42.4 447.9,44.1 448.9,45.5 450.0,46.1 451.1,45.7 452.2,44.4 453.2,42.9 454.3,40.6 455.4,38.1 456.5,35.7 457.6,33.4 458.6,31.0 459.7,28.1 460.8,24.9 461.9,21.9 463.0,19.0 464.0,17.2 465.1,16.0 466.2,15.1 467.3,13.1 468.4,13.4 469.4,13.4 470.5,12.9 471.6,12.8 472.7,12.8 473.8,12.8 474.8,12.8 475.9,12.8 477.0,12.8 480.4,12.7 483.9,12.7 487.3,12.7 490.8,12.7 494.2,12.6 497.6,12.6 501.1,12.6 504.5,12.6 508.0,12.6 511.4,12.6 514.8,12.5 518.3,12.5 521.7,12.5 525.2,12.5 528.6,12.5 532.1,12.5 535.5,12.5 538.9,12.5 542.4,12.5 545.8,12.5 549.3,12.5 552.7,12.5 556.1,12.5 559.6,12.5 563.0,12.5 566.5,12.5 569.9,12.5 573.3,12.5 576.8,12.6 580.2,12.6 583.7,12.6 587.1,12.6 590.5,12.6 594.0,12.7 597.4,12.7 600.9,12.7 604.3,12.7 607.7,12.7 611.2,12.7 614.6,12.8 618.1,12.8 621.5,12.8 624.9,12.8 628.4,12.8 631.8,12.9 635.3,12.9 638.7,13.0 642.2,13.0 645.6,13.1 649.0,13.1 652.5,13.2 655.9,13.3 659.4,13.3 662.8,13.4 666.2,13.6 669.7,13.7 673.1,13.8 676.6,14.0 680.0,14.2 681.6,14.3 683.3,14.4 684.9,14.5 686.5,14.5 688.2,14.6 689.8,14.7 691.5,14.8 693.1,14.9 694.7,15.0 696.4,15.1 698.0,15.2 699.7,15.3 701.3,15.4 702.9,15.6 704.6,15.7 706.2,15.8 707.8,16.0 709.5,16.1 711.1,16.3 712.8,16.5 714.4,16.6 716.0,16.8 717.7,17.0 719.3,17.1 721.0,17.3 722.6,17.4 724.3,17.6 725.9,17.8 727.5,17.9 729.2,18.1 730.8,18.2 732.5,18.4 734.1,18.6 735.7,18.7 737.4,18.9 739.0,19.1 740.7,19.6 742.3,20.0 743.9,20.5 745.6,21.0 747.2,21.5 748.9,22.0 750.5,22.5 752.1,23.1 753.8,23.7 755.4,24.4 757.1,25.1 758.7,26.0 760.3,26.9 762.0,27.8 763.6,28.7 765.3,29.5 766.9,30.5 768.5,31.5 770.2,32.5 771.8,33.5 773.5,34.6 775.1,35.8 776.7,37.0 778.4,38.3 780.0,39.6 781.7,41.0 783.3,42.4 784.9,43.8 786.6,45.3 788.2,46.8 789.9,48.5 791.5,50.3 793.1,52.2 794.8,54.3 796.4,56.4 798.0,58.5 799.7,60.7 801.3,62.9 803.0,65.2 804.6,67.7 806.2,70.6 807.9,73.7 809.5,76.9 811.2,80.2 812.8,83.5 814.4,86.7 816.1,89.9 817.7,93.4 819.4,97.4 821.0,102.3 822.6,108.4 824.3,115.1 825.9,122.0" stroke="#77AC30"/>
<path d="M720.9,22.5 722.5,23.3 724.2,24.1 725.8,24.9 727.4,25.9 729.1,26.8 730.7,27.9 732.3,29.0 734.0,30.2 735.6,31.5 737.2,32.8 738.9,34.1 740.5,35.3 742.2,36.5 743.8,37.7 745.4,39.0 747.1,40.4 748.7,41.7 750.3,43.1 752.0,44.6 753.6,46.3 755.2,48.2 756.9,50.5 758.5,53.3 760.1,56.3 761.8,59.0 763.4,61.5 765.0,64.1 766.7,66.7 768.3,69.3 770.0,72.0 771.6,74.8 773.2,77.6 774.9,80.5 776.5,83.4 778.1,86.5 779.8,89.5 781.4,92.5 783.0,95.4 784.7,98.3 786.3,101.0 787.9,103.8 789.6,106.5 791.2,109.2 792.9,111.9 794.5,114.7 796.1,117.5 797.8,120.3 799.4,123.1 801.0,126.1 802.7,129.0 804.3,132.6 805.9,138.0 807.6,144.4 809.2,151.1 810.8,157.7 812.5,164.2 814.1,170.6 815.8,177.0 817.4,183.6 819.0,190.2 820.7,196.9 822.3,203.9 823.9,211.3 825.6,220.1" stroke="#77AC30"/>
<path d="M104.6,406.9 105.6,411.8 106.6,417.3 107.5,420.9 108.5,422.7 109.5,423.1 110.5,422.9 111.4,422.4 112.4,421.6 113.4,420.7 114.4,419.8 115.4,418.9 116.3,418.1 117.3,417.3 118.3,416.6 119.3,415.7 120.2,414.7 121.2,413.7 122.2,412.6 123.2,411.5 124.2,410.7 125.1,410.1 126.1,409.9 127.1,410.0 128.1,410.5 129.1,411.1 130.0,411.8 131.0,412.3 132.0,412.6 133.0,412.8 134.0,412.7 134.9,412.3 135.9,411.6 136.9,410.7 137.9,409.8 138.9,408.9 139.9,408.0 140.8,407.2 141.8,406.2 142.8,405.1 145.0,401.8 147.0,398.5 148.9,395.1 150.7,391.6 152.4,388.1 154.0,384.6 155.6,381.0 157.1,377.5 158.7,373.9 160.2,370.3 161.7,366.7 163.2,363.2 164.7,359.5 166.2,356.0 167.7,352.4 169.1,348.7 170.3,345.1 171.5,341.3 172.6,337.6 173.6,333.9 174.7,330.1 175.7,326.4 176.7,322.6 177.7,318.9 178.7,315.1 179.7,311.3 180.7,307.6 181.7,303.8 182.7,300.1 183.7,296.3 184.7,292.6 185.7,288.8 186.7,285.0 187.7,281.3 188.6,277.5 189.6,273.7 190.6,270.0 191.6,266.2 192.6,262.5 193.6,258.7 194.6,254.9 195.5,251.2 196.5,247.4 197.5,243.6 198.4,239.9 199.4,236.1" stroke="#4DBEEE"/>
<path d="M270.7,25.3 274.5,24.4 278.3,23.9 282.2,23.7 286.1,23.6 290.0,23.5 293.2,23.4 296.3,23.4 299.5,23.6 302.7,24.0 305.9,24.6 309.0,25.3 312.2,26.0 315.4,26.7 318.5,27.4 321.7,28.0 324.9,28.5 328.0,28.9 331.2,29.2 334.4,29.5 337.6,29.8 340.7,30.1 343.9,30.3 347.1,30.6 350.2,30.9 353.4,31.1 356.6,31.4 359.8,31.6 362.9,31.8 366.1,32.0 369.3,32.1 372.4,32.1 375.6,32.1 378.8,32.1 381.9,32.1 385.1,32.3 388.3,32.7 391.5,33.1 394.6,33.7 397.8,34.3 401.0,35.0 404.1,35.7 407.3,36.5 410.5,37.6 413.6,39.8 416.8,41.0 420.0,40.7 423.2,39.9 426.3,39.0 429.5,38.5 430.6,38.6 431.7,38.7 432.7,39.0 433.8,39.6 434.9,40.2 436.0,41.0 437.1,41.7 438.1,42.4 439.2,43.3 440.3,44.5 441.4,46.0 442.5,47.9 443.5,50.4 444.6,53.2" stroke="#4DBEEE"/>
<path d="M720.9,26.0 722.5,26.8 724.1,27.6 725.8,28.3 727.4,29.2 729.0,30.1 730.7,31.1 732.3,32.2 733.9,33.2 735.6,34.4 737.2,35.6 738.9,36.8 740.5,38.1 742.1,39.5 743.8,40.9 745.4,42.3 747.0,43.8 748.7,45.3 750.3,46.9 751.9,48.6 753.6,50.4 755.2,52.6 756.8,55.2 758.5,58.3 760.1,61.7 761.7,64.7 763.4,67.5 765.0,70.4 766.6,73.3 768.3,76.3 769.9,79.3 771.6,82.3 773.2,85.4 774.8,88.6 776.5,91.9 778.1,95.3 779.7,98.6 781.4,101.9 783.0,105.1 784.6,108.2 786.3,111.2 787.9,114.2 789.5,117.1 791.2,120.0 792.8,122.8 794.4,125.7 796.1,128.7 797.7,131.6 799.3,134.5 801.0,137.7 802.6,140.7 804.2,144.5 805.9,150.3 807.5,157.3 809.2,164.6 810.8,171.9 812.4,179.0 814.1,186.0 815.7,193.0 817.3,200.0 819.0,207.1 820.6,214.2 822.2,221.4 823.9,228.9 825.5,238.0" stroke="#4DBEEE"/>
</g>
<circle cx="228.4" cy="137.5" r="7.2" fill="#FF0000"/>
<circle cx="802.2" cy="137.5" r="7.2" fill="#FF0000"/>
<g stroke="#000" stroke-width="2.7" fill="none">
<path d="M98.2,10.5 L829.8,10.5 L829.8,434.3 L98.2,434.3 Z"/>
<line x1="98.2" y1="434.3" x2="98.2" y2="442.8"/>
<line x1="218.2" y1="434.3" x2="218.2" y2="442.8"/>
<line x1="338.2" y1="434.3" x2="338.2" y2="442.8"/>
<line x1="458.2" y1="434.3" x2="458.2" y2="442.8"/>
<line x1="578.2" y1="434.3" x2="578.2" y2="442.8"/>
<line x1="698.2" y1="434.3" x2="698.2" y2="442.8"/>
<line x1="818.2" y1="434.3" x2="818.2" y2="442.8"/>
<line x1="89.7" y1="434.3" x2="98.2" y2="434.3"/>
<line x1="89.7" y1="349.5" x2="98.2" y2="349.5"/>
<line x1="89.7" y1="264.8" x2="98.2" y2="264.8"/>
<line x1="89.7" y1="180.0" x2="98.2" y2="180.0"/>
<line x1="89.7" y1="95.3" x2="98.2" y2="95.3"/>
<line x1="89.7" y1="10.5" x2="98.2" y2="10.5"/>
</g>
<g font-size="30" fill="#262626">
<text x="98.2" y="480.3" text-anchor="middle">400</text>
<text x="218.2" y="480.3" text-anchor="middle">500</text>
<text x="338.2" y="480.3" text-anchor="middle">600</text>
<text x="458.2" y="480.3" text-anchor="middle">700</text>
<text x="578.2" y="480.3" text-anchor="middle">800</text>
<text x="698.2" y="480.3" text-anchor="middle">900</text>
<text x="801.4" y="480.3">000</text>
<path fill="#262626" stroke="none" d="M796.50,480.10 L796.50,458.70 L794.10,458.70 C793.60,460.70 791.70,463.10 787.90,463.80 L787.90,466.20 C789.90,466.00 792.00,465.20 793.60,463.80 L793.60,480.10 Z"/>
<text x="79" y="445.1" text-anchor="end">0</text>
<text x="79" y="360.3" text-anchor="end">0.2</text>
<text x="79" y="275.6" text-anchor="end">0.4</text>
<text x="79" y="190.8" text-anchor="end">0.6</text>
<text x="79" y="106.1" text-anchor="end">0.8</text>
<path fill="#262626" stroke="none" d="M74.90,21.30 L74.90,-0.10 L72.50,-0.10 C72.00,1.90 70.10,4.30 66.30,5.00 L66.30,7.40 C68.30,7.20 70.40,6.40 72.00,5.00 L72.00,21.30 Z"/>
</g>
<text x="243" y="191.6" font-size="29.7" fill="#000">505.0nm</text>
<text x="674.2" y="191.8" font-size="29.7" fill="#000">986.8nm</text>
<text x="464.5" y="518.9" font-size="33" fill="#262626" text-anchor="middle">Wavelength (nm)</text>
<text transform="translate(23.8,221.2) rotate(-90)" font-size="33" fill="#262626" text-anchor="middle">Correlation Coefficient</text>
<rect x="276.5" y="270.6" width="356" height="68.2" fill="#fff" stroke="#262626" stroke-width="2.4"/>
<line x1="284.2" y1="289" x2="358.4" y2="289" stroke="#000" stroke-width="2.4"/>
<circle cx="321.2" cy="320" r="7.5" fill="#FF0000"/>
<text x="364.3" y="298.5" font-size="26.7" fill="#000">Correlation coefficient</text>
<text x="364.3" y="329.5" font-size="26.7" fill="#000">The value = 0.7</text>
</svg>
</body></html>
